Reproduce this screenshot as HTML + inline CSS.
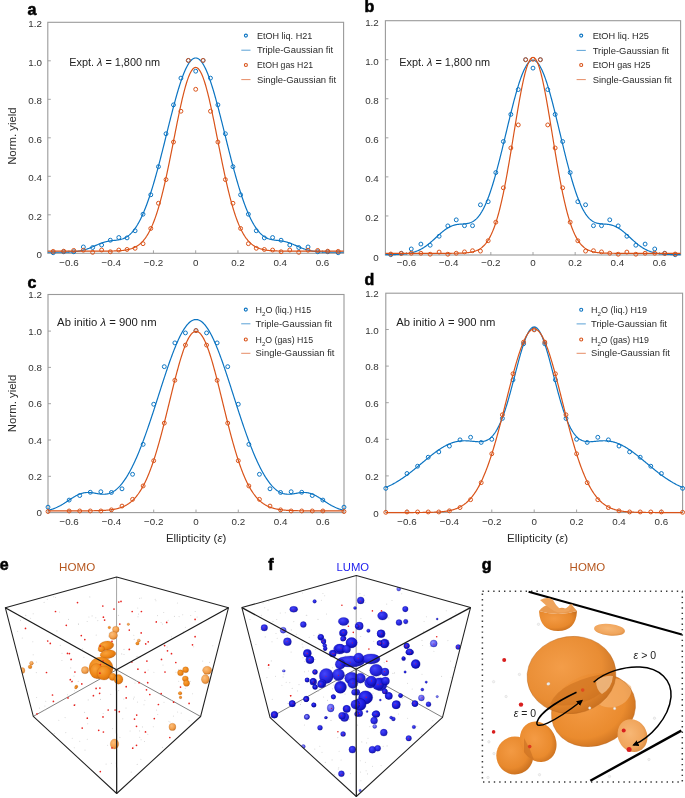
<!DOCTYPE html>
<html><head><meta charset="utf-8"><style>
html,body{margin:0;padding:0;background:#fff;width:685px;height:798px;overflow:hidden}
svg{display:block;will-change:transform}
text{font-family:'Liberation Sans',sans-serif;fill:#222}
.tk{font-size:9.8px;fill:#333}
.ann{font-size:10px;fill:#222}
.leg{font-size:9px;fill:#2a2a2a}
.axl{font-size:10.2px;fill:#2a2a2a}
.pl{font-size:16px;font-weight:bold;fill:#000;stroke:#000;stroke-width:0.55px}
.ttl{font-size:11px}
.gt{font-size:10.5px;fill:#222}
</style></head><body>
<svg width="685" height="798" viewBox="0 0 685 798">
<g>
<rect x="47.80" y="22.30" width="295.80" height="231.00" fill="none" stroke="#9a9a9a" stroke-width="1.1"/>
<line x1="47.80" x2="50.80" y1="214.80" y2="214.80" stroke="#9a9a9a" stroke-width="0.9"/>
<line x1="47.80" x2="50.80" y1="176.30" y2="176.30" stroke="#9a9a9a" stroke-width="0.9"/>
<line x1="47.80" x2="50.80" y1="137.80" y2="137.80" stroke="#9a9a9a" stroke-width="0.9"/>
<line x1="47.80" x2="50.80" y1="99.30" y2="99.30" stroke="#9a9a9a" stroke-width="0.9"/>
<line x1="47.80" x2="50.80" y1="60.80" y2="60.80" stroke="#9a9a9a" stroke-width="0.9"/>
<line x1="68.93" x2="68.93" y1="253.30" y2="250.30" stroke="#9a9a9a" stroke-width="0.9"/>
<line x1="111.19" x2="111.19" y1="253.30" y2="250.30" stroke="#9a9a9a" stroke-width="0.9"/>
<line x1="153.44" x2="153.44" y1="253.30" y2="250.30" stroke="#9a9a9a" stroke-width="0.9"/>
<line x1="195.70" x2="195.70" y1="253.30" y2="250.30" stroke="#9a9a9a" stroke-width="0.9"/>
<line x1="237.96" x2="237.96" y1="253.30" y2="250.30" stroke="#9a9a9a" stroke-width="0.9"/>
<line x1="280.21" x2="280.21" y1="253.30" y2="250.30" stroke="#9a9a9a" stroke-width="0.9"/>
<line x1="322.47" x2="322.47" y1="253.30" y2="250.30" stroke="#9a9a9a" stroke-width="0.9"/>
<text x="41.90" y="258.00" text-anchor="end" class="tk">0</text>
<text x="41.90" y="219.50" text-anchor="end" class="tk">0.2</text>
<text x="41.90" y="181.00" text-anchor="end" class="tk">0.4</text>
<text x="41.90" y="142.50" text-anchor="end" class="tk">0.6</text>
<text x="41.90" y="104.00" text-anchor="end" class="tk">0.8</text>
<text x="41.90" y="65.50" text-anchor="end" class="tk">1.0</text>
<text x="41.90" y="27.00" text-anchor="end" class="tk">1.2</text>
<text x="68.93" y="265.80" text-anchor="middle" class="tk">−0.6</text>
<text x="111.19" y="265.80" text-anchor="middle" class="tk">−0.4</text>
<text x="153.44" y="265.80" text-anchor="middle" class="tk">−0.2</text>
<text x="195.70" y="265.80" text-anchor="middle" class="tk">0</text>
<text x="237.96" y="265.80" text-anchor="middle" class="tk">0.2</text>
<text x="280.21" y="265.80" text-anchor="middle" class="tk">0.4</text>
<text x="322.47" y="265.80" text-anchor="middle" class="tk">0.6</text>
<clipPath id="clipa"><rect x="44.80" y="22.30" width="301.80" height="234.00"/></clipPath>
<g clip-path="url(#clipa)">
<polyline points="47.80,252.26 48.33,252.26 48.86,252.26 49.38,252.26 49.91,252.26 50.44,252.26 50.97,252.26 51.50,252.26 52.03,252.26 52.55,252.26 53.08,252.25 53.61,252.25 54.14,252.25 54.67,252.25 55.20,252.25 55.72,252.25 56.25,252.25 56.78,252.25 57.31,252.24 57.84,252.24 58.36,252.24 58.89,252.24 59.42,252.23 59.95,252.23 60.48,252.22 61.01,252.22 61.53,252.21 62.06,252.21 62.59,252.20 63.12,252.19 63.65,252.19 64.17,252.18 64.70,252.17 65.23,252.16 65.76,252.14 66.29,252.13 66.82,252.12 67.34,252.10 67.87,252.08 68.40,252.06 68.93,252.04 69.46,252.02 69.99,251.99 70.51,251.96 71.04,251.93 71.57,251.90 72.10,251.86 72.63,251.83 73.15,251.78 73.68,251.74 74.21,251.69 74.74,251.64 75.27,251.58 75.80,251.52 76.32,251.46 76.85,251.39 77.38,251.32 77.91,251.24 78.44,251.15 78.96,251.07 79.49,250.97 80.02,250.87 80.55,250.77 81.08,250.66 81.61,250.54 82.13,250.42 82.66,250.29 83.19,250.16 83.72,250.02 84.25,249.87 84.78,249.72 85.30,249.56 85.83,249.39 86.36,249.22 86.89,249.05 87.42,248.86 87.94,248.68 88.47,248.48 89.00,248.29 89.53,248.08 90.06,247.88 90.59,247.66 91.11,247.45 91.64,247.23 92.17,247.01 92.70,246.78 93.23,246.55 93.75,246.33 94.28,246.10 94.81,245.86 95.34,245.63 95.87,245.40 96.40,245.17 96.92,244.94 97.45,244.72 97.98,244.49 98.51,244.27 99.04,244.06 99.57,243.84 100.09,243.63 100.62,243.43 101.15,243.23 101.68,243.04 102.21,242.85 102.73,242.67 103.26,242.50 103.79,242.34 104.32,242.18 104.85,242.03 105.38,241.88 105.90,241.75 106.43,241.62 106.96,241.50 107.49,241.38 108.02,241.28 108.54,241.18 109.07,241.08 109.60,241.00 110.13,240.92 110.66,240.84 111.19,240.77 111.71,240.70 112.24,240.64 112.77,240.58 113.30,240.52 113.83,240.46 114.36,240.41 114.88,240.35 115.41,240.29 115.94,240.23 116.47,240.17 117.00,240.10 117.52,240.02 118.05,239.94 118.58,239.86 119.11,239.76 119.64,239.66 120.17,239.54 120.69,239.42 121.22,239.28 121.75,239.13 122.28,238.96 122.81,238.78 123.33,238.59 123.86,238.37 124.39,238.14 124.92,237.89 125.45,237.62 125.98,237.33 126.50,237.02 127.03,236.69 127.56,236.33 128.09,235.95 128.62,235.55 129.15,235.12 129.67,234.67 130.20,234.19 130.73,233.69 131.26,233.16 131.79,232.60 132.31,232.01 132.84,231.40 133.37,230.76 133.90,230.09 134.43,229.39 134.96,228.66 135.48,227.90 136.01,227.11 136.54,226.29 137.07,225.45 137.60,224.57 138.12,223.66 138.65,222.72 139.18,221.75 139.71,220.75 140.24,219.71 140.77,218.65 141.29,217.56 141.82,216.43 142.35,215.28 142.88,214.09 143.41,212.87 143.94,211.62 144.46,210.34 144.99,209.03 145.52,207.69 146.05,206.32 146.58,204.92 147.10,203.48 147.63,202.02 148.16,200.53 148.69,199.01 149.22,197.46 149.75,195.88 150.27,194.28 150.80,192.64 151.33,190.98 151.86,189.29 152.39,187.58 152.91,185.84 153.44,184.07 153.97,182.28 154.50,180.46 155.03,178.62 155.56,176.76 156.08,174.87 156.61,172.96 157.14,171.04 157.67,169.09 158.20,167.12 158.73,165.13 159.25,163.13 159.78,161.11 160.31,159.07 160.84,157.02 161.37,154.96 161.89,152.89 162.42,150.80 162.95,148.70 163.48,146.60 164.01,144.48 164.54,142.36 165.06,140.24 165.59,138.11 166.12,135.98 166.65,133.85 167.18,131.72 167.70,129.59 168.23,127.46 168.76,125.34 169.29,123.22 169.82,121.12 170.35,119.02 170.87,116.93 171.40,114.85 171.93,112.79 172.46,110.74 172.99,108.71 173.52,106.70 174.04,104.71 174.57,102.74 175.10,100.80 175.63,98.88 176.16,96.98 176.68,95.11 177.21,93.28 177.74,91.47 178.27,89.70 178.80,87.96 179.33,86.26 179.85,84.59 180.38,82.96 180.91,81.38 181.44,79.83 181.97,78.33 182.49,76.87 183.02,75.46 183.55,74.09 184.08,72.78 184.61,71.51 185.14,70.29 185.66,69.12 186.19,68.01 186.72,66.95 187.25,65.95 187.78,65.00 188.31,64.11 188.83,63.28 189.36,62.50 189.89,61.79 190.42,61.13 190.95,60.54 191.47,60.00 192.00,59.53 192.53,59.12 193.06,58.77 193.59,58.48 194.12,58.26 194.64,58.10 195.17,58.01 195.70,57.98 196.23,58.01 196.76,58.10 197.28,58.26 197.81,58.48 198.34,58.77 198.87,59.12 199.40,59.53 199.93,60.00 200.45,60.54 200.98,61.13 201.51,61.79 202.04,62.50 202.57,63.28 203.10,64.11 203.62,65.00 204.15,65.95 204.68,66.95 205.21,68.01 205.74,69.12 206.26,70.29 206.79,71.51 207.32,72.78 207.85,74.09 208.38,75.46 208.91,76.87 209.43,78.33 209.96,79.83 210.49,81.38 211.02,82.96 211.55,84.59 212.07,86.26 212.60,87.96 213.13,89.70 213.66,91.47 214.19,93.28 214.72,95.11 215.24,96.98 215.77,98.88 216.30,100.80 216.83,102.74 217.36,104.71 217.89,106.70 218.41,108.71 218.94,110.74 219.47,112.79 220.00,114.85 220.53,116.93 221.05,119.02 221.58,121.12 222.11,123.22 222.64,125.34 223.17,127.46 223.70,129.59 224.22,131.72 224.75,133.85 225.28,135.98 225.81,138.11 226.34,140.24 226.86,142.36 227.39,144.48 227.92,146.60 228.45,148.70 228.98,150.80 229.51,152.89 230.03,154.96 230.56,157.02 231.09,159.07 231.62,161.11 232.15,163.13 232.68,165.13 233.20,167.12 233.73,169.09 234.26,171.04 234.79,172.96 235.32,174.87 235.84,176.76 236.37,178.62 236.90,180.46 237.43,182.28 237.96,184.07 238.49,185.84 239.01,187.58 239.54,189.29 240.07,190.98 240.60,192.64 241.13,194.28 241.65,195.88 242.18,197.46 242.71,199.01 243.24,200.53 243.77,202.02 244.30,203.48 244.82,204.92 245.35,206.32 245.88,207.69 246.41,209.03 246.94,210.34 247.47,211.62 247.99,212.87 248.52,214.09 249.05,215.28 249.58,216.43 250.11,217.56 250.63,218.65 251.16,219.71 251.69,220.75 252.22,221.75 252.75,222.72 253.28,223.66 253.80,224.57 254.33,225.45 254.86,226.29 255.39,227.11 255.92,227.90 256.44,228.66 256.97,229.39 257.50,230.09 258.03,230.76 258.56,231.40 259.09,232.01 259.61,232.60 260.14,233.16 260.67,233.69 261.20,234.19 261.73,234.67 262.26,235.12 262.78,235.55 263.31,235.95 263.84,236.33 264.37,236.69 264.90,237.02 265.42,237.33 265.95,237.62 266.48,237.89 267.01,238.14 267.54,238.37 268.07,238.59 268.59,238.78 269.12,238.96 269.65,239.13 270.18,239.28 270.71,239.42 271.23,239.54 271.76,239.66 272.29,239.76 272.82,239.86 273.35,239.94 273.88,240.02 274.40,240.10 274.93,240.17 275.46,240.23 275.99,240.29 276.52,240.35 277.05,240.41 277.57,240.46 278.10,240.52 278.63,240.58 279.16,240.64 279.69,240.70 280.21,240.77 280.74,240.84 281.27,240.92 281.80,241.00 282.33,241.08 282.86,241.18 283.38,241.28 283.91,241.38 284.44,241.50 284.97,241.62 285.50,241.75 286.02,241.88 286.55,242.03 287.08,242.18 287.61,242.34 288.14,242.50 288.67,242.67 289.19,242.85 289.72,243.04 290.25,243.23 290.78,243.43 291.31,243.63 291.84,243.84 292.36,244.06 292.89,244.27 293.42,244.49 293.95,244.72 294.48,244.94 295.00,245.17 295.53,245.40 296.06,245.63 296.59,245.86 297.12,246.10 297.65,246.33 298.17,246.55 298.70,246.78 299.23,247.01 299.76,247.23 300.29,247.45 300.81,247.66 301.34,247.88 301.87,248.08 302.40,248.29 302.93,248.48 303.46,248.68 303.98,248.86 304.51,249.05 305.04,249.22 305.57,249.39 306.10,249.56 306.63,249.72 307.15,249.87 307.68,250.02 308.21,250.16 308.74,250.29 309.27,250.42 309.79,250.54 310.32,250.66 310.85,250.77 311.38,250.87 311.91,250.97 312.44,251.07 312.96,251.15 313.49,251.24 314.02,251.32 314.55,251.39 315.08,251.46 315.60,251.52 316.13,251.58 316.66,251.64 317.19,251.69 317.72,251.74 318.25,251.78 318.77,251.83 319.30,251.86 319.83,251.90 320.36,251.93 320.89,251.96 321.42,251.99 321.94,252.02 322.47,252.04 323.00,252.06 323.53,252.08 324.06,252.10 324.58,252.12 325.11,252.13 325.64,252.14 326.17,252.16 326.70,252.17 327.23,252.18 327.75,252.19 328.28,252.19 328.81,252.20 329.34,252.21 329.87,252.21 330.39,252.22 330.92,252.22 331.45,252.23 331.98,252.23 332.51,252.24 333.04,252.24 333.56,252.24 334.09,252.24 334.62,252.25 335.15,252.25 335.68,252.25 336.21,252.25 336.73,252.25 337.26,252.25 337.79,252.25 338.32,252.25 338.85,252.26 339.37,252.26 339.90,252.26 340.43,252.26 340.96,252.26 341.49,252.26 342.02,252.26 342.54,252.26 343.07,252.26 343.60,252.26" fill="none" stroke="#0b74c2" stroke-width="1.2"/>
<circle cx="53.19" cy="252.72" r="1.95" fill="none" stroke="#0b74c2" stroke-width="1.0"/>
<circle cx="63.67" cy="251.76" r="1.95" fill="none" stroke="#0b74c2" stroke-width="1.0"/>
<circle cx="73.71" cy="251.76" r="1.95" fill="none" stroke="#0b74c2" stroke-width="1.0"/>
<circle cx="83.36" cy="246.95" r="1.95" fill="none" stroke="#0b74c2" stroke-width="1.0"/>
<circle cx="92.65" cy="247.53" r="1.95" fill="none" stroke="#0b74c2" stroke-width="1.0"/>
<circle cx="101.63" cy="245.02" r="1.95" fill="none" stroke="#0b74c2" stroke-width="1.0"/>
<circle cx="110.34" cy="240.21" r="1.95" fill="none" stroke="#0b74c2" stroke-width="1.0"/>
<circle cx="118.80" cy="237.52" r="1.95" fill="none" stroke="#0b74c2" stroke-width="1.0"/>
<circle cx="127.05" cy="237.90" r="1.95" fill="none" stroke="#0b74c2" stroke-width="1.0"/>
<circle cx="135.11" cy="230.78" r="1.95" fill="none" stroke="#0b74c2" stroke-width="1.0"/>
<circle cx="143.02" cy="214.22" r="1.95" fill="none" stroke="#0b74c2" stroke-width="1.0"/>
<circle cx="150.79" cy="194.78" r="1.95" fill="none" stroke="#0b74c2" stroke-width="1.0"/>
<circle cx="158.44" cy="166.68" r="1.95" fill="none" stroke="#0b74c2" stroke-width="1.0"/>
<circle cx="166.01" cy="133.76" r="1.95" fill="none" stroke="#0b74c2" stroke-width="1.0"/>
<circle cx="173.49" cy="104.88" r="1.95" fill="none" stroke="#0b74c2" stroke-width="1.0"/>
<circle cx="180.93" cy="78.12" r="1.95" fill="none" stroke="#0b74c2" stroke-width="1.0"/>
<circle cx="188.32" cy="60.42" r="1.95" fill="none" stroke="#0b74c2" stroke-width="1.0"/>
<circle cx="195.70" cy="71.20" r="1.95" fill="none" stroke="#0b74c2" stroke-width="1.0"/>
<circle cx="203.08" cy="60.42" r="1.95" fill="none" stroke="#0b74c2" stroke-width="1.0"/>
<circle cx="210.47" cy="78.12" r="1.95" fill="none" stroke="#0b74c2" stroke-width="1.0"/>
<circle cx="217.91" cy="104.88" r="1.95" fill="none" stroke="#0b74c2" stroke-width="1.0"/>
<circle cx="225.39" cy="133.76" r="1.95" fill="none" stroke="#0b74c2" stroke-width="1.0"/>
<circle cx="232.96" cy="166.68" r="1.95" fill="none" stroke="#0b74c2" stroke-width="1.0"/>
<circle cx="240.61" cy="194.78" r="1.95" fill="none" stroke="#0b74c2" stroke-width="1.0"/>
<circle cx="248.38" cy="214.22" r="1.95" fill="none" stroke="#0b74c2" stroke-width="1.0"/>
<circle cx="256.29" cy="230.78" r="1.95" fill="none" stroke="#0b74c2" stroke-width="1.0"/>
<circle cx="264.35" cy="237.90" r="1.95" fill="none" stroke="#0b74c2" stroke-width="1.0"/>
<circle cx="272.60" cy="237.52" r="1.95" fill="none" stroke="#0b74c2" stroke-width="1.0"/>
<circle cx="281.06" cy="240.21" r="1.95" fill="none" stroke="#0b74c2" stroke-width="1.0"/>
<circle cx="289.77" cy="245.02" r="1.95" fill="none" stroke="#0b74c2" stroke-width="1.0"/>
<circle cx="298.75" cy="247.53" r="1.95" fill="none" stroke="#0b74c2" stroke-width="1.0"/>
<circle cx="308.04" cy="246.95" r="1.95" fill="none" stroke="#0b74c2" stroke-width="1.0"/>
<circle cx="317.69" cy="251.76" r="1.95" fill="none" stroke="#0b74c2" stroke-width="1.0"/>
<circle cx="327.73" cy="251.76" r="1.95" fill="none" stroke="#0b74c2" stroke-width="1.0"/>
<circle cx="338.21" cy="252.72" r="1.95" fill="none" stroke="#0b74c2" stroke-width="1.0"/>
<polyline points="47.80,251.15 48.33,251.15 48.86,251.15 49.38,251.15 49.91,251.15 50.44,251.15 50.97,251.15 51.50,251.15 52.03,251.15 52.55,251.15 53.08,251.15 53.61,251.15 54.14,251.15 54.67,251.15 55.20,251.15 55.72,251.15 56.25,251.15 56.78,251.15 57.31,251.15 57.84,251.15 58.36,251.15 58.89,251.15 59.42,251.15 59.95,251.15 60.48,251.15 61.01,251.15 61.53,251.15 62.06,251.15 62.59,251.15 63.12,251.15 63.65,251.15 64.17,251.15 64.70,251.15 65.23,251.15 65.76,251.15 66.29,251.15 66.82,251.15 67.34,251.15 67.87,251.15 68.40,251.15 68.93,251.15 69.46,251.15 69.99,251.15 70.51,251.15 71.04,251.15 71.57,251.15 72.10,251.15 72.63,251.15 73.15,251.15 73.68,251.15 74.21,251.15 74.74,251.15 75.27,251.15 75.80,251.15 76.32,251.15 76.85,251.15 77.38,251.15 77.91,251.15 78.44,251.15 78.96,251.15 79.49,251.15 80.02,251.15 80.55,251.15 81.08,251.15 81.61,251.15 82.13,251.15 82.66,251.15 83.19,251.15 83.72,251.15 84.25,251.15 84.78,251.15 85.30,251.15 85.83,251.15 86.36,251.15 86.89,251.15 87.42,251.15 87.94,251.15 88.47,251.15 89.00,251.15 89.53,251.15 90.06,251.15 90.59,251.15 91.11,251.15 91.64,251.15 92.17,251.15 92.70,251.15 93.23,251.15 93.75,251.15 94.28,251.15 94.81,251.15 95.34,251.15 95.87,251.14 96.40,251.14 96.92,251.14 97.45,251.14 97.98,251.14 98.51,251.14 99.04,251.14 99.57,251.14 100.09,251.14 100.62,251.14 101.15,251.13 101.68,251.13 102.21,251.13 102.73,251.13 103.26,251.13 103.79,251.12 104.32,251.12 104.85,251.12 105.38,251.11 105.90,251.11 106.43,251.10 106.96,251.10 107.49,251.09 108.02,251.09 108.54,251.08 109.07,251.08 109.60,251.07 110.13,251.06 110.66,251.05 111.19,251.04 111.71,251.03 112.24,251.02 112.77,251.01 113.30,250.99 113.83,250.98 114.36,250.96 114.88,250.95 115.41,250.93 115.94,250.91 116.47,250.88 117.00,250.86 117.52,250.83 118.05,250.81 118.58,250.78 119.11,250.74 119.64,250.71 120.17,250.67 120.69,250.63 121.22,250.58 121.75,250.53 122.28,250.48 122.81,250.43 123.33,250.36 123.86,250.30 124.39,250.23 124.92,250.16 125.45,250.08 125.98,249.99 126.50,249.90 127.03,249.80 127.56,249.69 128.09,249.58 128.62,249.46 129.15,249.33 129.67,249.19 130.20,249.04 130.73,248.89 131.26,248.72 131.79,248.54 132.31,248.35 132.84,248.15 133.37,247.94 133.90,247.71 134.43,247.47 134.96,247.22 135.48,246.95 136.01,246.66 136.54,246.36 137.07,246.03 137.60,245.69 138.12,245.34 138.65,244.96 139.18,244.56 139.71,244.14 140.24,243.69 140.77,243.23 141.29,242.74 141.82,242.22 142.35,241.68 142.88,241.11 143.41,240.51 143.94,239.88 144.46,239.22 144.99,238.54 145.52,237.82 146.05,237.06 146.58,236.28 147.10,235.46 147.63,234.60 148.16,233.70 148.69,232.77 149.22,231.80 149.75,230.79 150.27,229.74 150.80,228.65 151.33,227.52 151.86,226.34 152.39,225.13 152.91,223.86 153.44,222.56 153.97,221.20 154.50,219.81 155.03,218.36 155.56,216.87 156.08,215.33 156.61,213.75 157.14,212.12 157.67,210.44 158.20,208.71 158.73,206.93 159.25,205.11 159.78,203.24 160.31,201.32 160.84,199.36 161.37,197.35 161.89,195.29 162.42,193.19 162.95,191.05 163.48,188.86 164.01,186.63 164.54,184.36 165.06,182.05 165.59,179.70 166.12,177.32 166.65,174.90 167.18,172.44 167.70,169.96 168.23,167.44 168.76,164.90 169.29,162.33 169.82,159.74 170.35,157.12 170.87,154.49 171.40,151.84 171.93,149.18 172.46,146.51 172.99,143.83 173.52,141.14 174.04,138.46 174.57,135.77 175.10,133.09 175.63,130.42 176.16,127.76 176.68,125.12 177.21,122.49 177.74,119.88 178.27,117.30 178.80,114.75 179.33,112.23 179.85,109.74 180.38,107.30 180.91,104.89 181.44,102.54 181.97,100.23 182.49,97.98 183.02,95.78 183.55,93.64 184.08,91.57 184.61,89.56 185.14,87.63 185.66,85.76 186.19,83.98 186.72,82.27 187.25,80.64 187.78,79.10 188.31,77.64 188.83,76.27 189.36,75.00 189.89,73.82 190.42,72.73 190.95,71.74 191.47,70.85 192.00,70.07 192.53,69.38 193.06,68.80 193.59,68.32 194.12,67.95 194.64,67.68 195.17,67.52 195.70,67.47 196.23,67.52 196.76,67.68 197.28,67.95 197.81,68.32 198.34,68.80 198.87,69.38 199.40,70.07 199.93,70.85 200.45,71.74 200.98,72.73 201.51,73.82 202.04,75.00 202.57,76.27 203.10,77.64 203.62,79.10 204.15,80.64 204.68,82.27 205.21,83.98 205.74,85.76 206.26,87.63 206.79,89.56 207.32,91.57 207.85,93.64 208.38,95.78 208.91,97.98 209.43,100.23 209.96,102.54 210.49,104.89 211.02,107.30 211.55,109.74 212.07,112.23 212.60,114.75 213.13,117.30 213.66,119.88 214.19,122.49 214.72,125.12 215.24,127.76 215.77,130.42 216.30,133.09 216.83,135.77 217.36,138.46 217.89,141.14 218.41,143.83 218.94,146.51 219.47,149.18 220.00,151.84 220.53,154.49 221.05,157.12 221.58,159.74 222.11,162.33 222.64,164.90 223.17,167.44 223.70,169.96 224.22,172.44 224.75,174.90 225.28,177.32 225.81,179.70 226.34,182.05 226.86,184.36 227.39,186.63 227.92,188.86 228.45,191.05 228.98,193.19 229.51,195.29 230.03,197.35 230.56,199.36 231.09,201.32 231.62,203.24 232.15,205.11 232.68,206.93 233.20,208.71 233.73,210.44 234.26,212.12 234.79,213.75 235.32,215.33 235.84,216.87 236.37,218.36 236.90,219.81 237.43,221.20 237.96,222.56 238.49,223.86 239.01,225.13 239.54,226.34 240.07,227.52 240.60,228.65 241.13,229.74 241.65,230.79 242.18,231.80 242.71,232.77 243.24,233.70 243.77,234.60 244.30,235.46 244.82,236.28 245.35,237.06 245.88,237.82 246.41,238.54 246.94,239.22 247.47,239.88 247.99,240.51 248.52,241.11 249.05,241.68 249.58,242.22 250.11,242.74 250.63,243.23 251.16,243.69 251.69,244.14 252.22,244.56 252.75,244.96 253.28,245.34 253.80,245.69 254.33,246.03 254.86,246.36 255.39,246.66 255.92,246.95 256.44,247.22 256.97,247.47 257.50,247.71 258.03,247.94 258.56,248.15 259.09,248.35 259.61,248.54 260.14,248.72 260.67,248.89 261.20,249.04 261.73,249.19 262.26,249.33 262.78,249.46 263.31,249.58 263.84,249.69 264.37,249.80 264.90,249.90 265.42,249.99 265.95,250.08 266.48,250.16 267.01,250.23 267.54,250.30 268.07,250.36 268.59,250.43 269.12,250.48 269.65,250.53 270.18,250.58 270.71,250.63 271.23,250.67 271.76,250.71 272.29,250.74 272.82,250.78 273.35,250.81 273.88,250.83 274.40,250.86 274.93,250.88 275.46,250.91 275.99,250.93 276.52,250.95 277.05,250.96 277.57,250.98 278.10,250.99 278.63,251.01 279.16,251.02 279.69,251.03 280.21,251.04 280.74,251.05 281.27,251.06 281.80,251.07 282.33,251.08 282.86,251.08 283.38,251.09 283.91,251.09 284.44,251.10 284.97,251.10 285.50,251.11 286.02,251.11 286.55,251.12 287.08,251.12 287.61,251.12 288.14,251.13 288.67,251.13 289.19,251.13 289.72,251.13 290.25,251.13 290.78,251.14 291.31,251.14 291.84,251.14 292.36,251.14 292.89,251.14 293.42,251.14 293.95,251.14 294.48,251.14 295.00,251.14 295.53,251.14 296.06,251.15 296.59,251.15 297.12,251.15 297.65,251.15 298.17,251.15 298.70,251.15 299.23,251.15 299.76,251.15 300.29,251.15 300.81,251.15 301.34,251.15 301.87,251.15 302.40,251.15 302.93,251.15 303.46,251.15 303.98,251.15 304.51,251.15 305.04,251.15 305.57,251.15 306.10,251.15 306.63,251.15 307.15,251.15 307.68,251.15 308.21,251.15 308.74,251.15 309.27,251.15 309.79,251.15 310.32,251.15 310.85,251.15 311.38,251.15 311.91,251.15 312.44,251.15 312.96,251.15 313.49,251.15 314.02,251.15 314.55,251.15 315.08,251.15 315.60,251.15 316.13,251.15 316.66,251.15 317.19,251.15 317.72,251.15 318.25,251.15 318.77,251.15 319.30,251.15 319.83,251.15 320.36,251.15 320.89,251.15 321.42,251.15 321.94,251.15 322.47,251.15 323.00,251.15 323.53,251.15 324.06,251.15 324.58,251.15 325.11,251.15 325.64,251.15 326.17,251.15 326.70,251.15 327.23,251.15 327.75,251.15 328.28,251.15 328.81,251.15 329.34,251.15 329.87,251.15 330.39,251.15 330.92,251.15 331.45,251.15 331.98,251.15 332.51,251.15 333.04,251.15 333.56,251.15 334.09,251.15 334.62,251.15 335.15,251.15 335.68,251.15 336.21,251.15 336.73,251.15 337.26,251.15 337.79,251.15 338.32,251.15 338.85,251.15 339.37,251.15 339.90,251.15 340.43,251.15 340.96,251.15 341.49,251.15 342.02,251.15 342.54,251.15 343.07,251.15 343.60,251.15" fill="none" stroke="#D95319" stroke-width="1.2"/>
<circle cx="53.19" cy="251.38" r="1.95" fill="none" stroke="#D95319" stroke-width="1.0"/>
<circle cx="63.67" cy="251.18" r="1.95" fill="none" stroke="#D95319" stroke-width="1.0"/>
<circle cx="73.71" cy="250.41" r="1.95" fill="none" stroke="#D95319" stroke-width="1.0"/>
<circle cx="83.36" cy="250.22" r="1.95" fill="none" stroke="#D95319" stroke-width="1.0"/>
<circle cx="92.65" cy="252.34" r="1.95" fill="none" stroke="#D95319" stroke-width="1.0"/>
<circle cx="101.63" cy="250.03" r="1.95" fill="none" stroke="#D95319" stroke-width="1.0"/>
<circle cx="110.34" cy="251.76" r="1.95" fill="none" stroke="#D95319" stroke-width="1.0"/>
<circle cx="118.80" cy="250.03" r="1.95" fill="none" stroke="#D95319" stroke-width="1.0"/>
<circle cx="127.05" cy="249.45" r="1.95" fill="none" stroke="#D95319" stroke-width="1.0"/>
<circle cx="135.11" cy="248.30" r="1.95" fill="none" stroke="#D95319" stroke-width="1.0"/>
<circle cx="143.02" cy="243.68" r="1.95" fill="none" stroke="#D95319" stroke-width="1.0"/>
<circle cx="150.79" cy="228.47" r="1.95" fill="none" stroke="#D95319" stroke-width="1.0"/>
<circle cx="158.44" cy="203.25" r="1.95" fill="none" stroke="#D95319" stroke-width="1.0"/>
<circle cx="166.01" cy="179.57" r="1.95" fill="none" stroke="#D95319" stroke-width="1.0"/>
<circle cx="173.49" cy="142.04" r="1.95" fill="none" stroke="#D95319" stroke-width="1.0"/>
<circle cx="180.93" cy="111.24" r="1.95" fill="none" stroke="#D95319" stroke-width="1.0"/>
<circle cx="188.32" cy="60.42" r="1.95" fill="none" stroke="#D95319" stroke-width="1.0"/>
<circle cx="195.70" cy="89.29" r="1.95" fill="none" stroke="#D95319" stroke-width="1.0"/>
<circle cx="203.08" cy="60.42" r="1.95" fill="none" stroke="#D95319" stroke-width="1.0"/>
<circle cx="210.47" cy="111.24" r="1.95" fill="none" stroke="#D95319" stroke-width="1.0"/>
<circle cx="217.91" cy="142.04" r="1.95" fill="none" stroke="#D95319" stroke-width="1.0"/>
<circle cx="225.39" cy="179.57" r="1.95" fill="none" stroke="#D95319" stroke-width="1.0"/>
<circle cx="232.96" cy="203.25" r="1.95" fill="none" stroke="#D95319" stroke-width="1.0"/>
<circle cx="240.61" cy="228.47" r="1.95" fill="none" stroke="#D95319" stroke-width="1.0"/>
<circle cx="248.38" cy="243.68" r="1.95" fill="none" stroke="#D95319" stroke-width="1.0"/>
<circle cx="256.29" cy="248.30" r="1.95" fill="none" stroke="#D95319" stroke-width="1.0"/>
<circle cx="264.35" cy="249.45" r="1.95" fill="none" stroke="#D95319" stroke-width="1.0"/>
<circle cx="272.60" cy="250.03" r="1.95" fill="none" stroke="#D95319" stroke-width="1.0"/>
<circle cx="281.06" cy="251.76" r="1.95" fill="none" stroke="#D95319" stroke-width="1.0"/>
<circle cx="289.77" cy="250.03" r="1.95" fill="none" stroke="#D95319" stroke-width="1.0"/>
<circle cx="298.75" cy="252.34" r="1.95" fill="none" stroke="#D95319" stroke-width="1.0"/>
<circle cx="308.04" cy="250.22" r="1.95" fill="none" stroke="#D95319" stroke-width="1.0"/>
<circle cx="317.69" cy="250.41" r="1.95" fill="none" stroke="#D95319" stroke-width="1.0"/>
<circle cx="327.73" cy="251.18" r="1.95" fill="none" stroke="#D95319" stroke-width="1.0"/>
<circle cx="338.21" cy="251.38" r="1.95" fill="none" stroke="#D95319" stroke-width="1.0"/>
</g>
<text x="69.20" y="66.30" class="ann" textLength="91" lengthAdjust="spacingAndGlyphs">Expt. <tspan font-style="italic">λ</tspan> = 1,800 nm</text>
<circle cx="245.90" cy="35.60" r="1.5" fill="none" stroke="#0b74c2" stroke-width="1.1"/>
<text x="256.90" y="38.70" class="leg" textLength="55.4" lengthAdjust="spacingAndGlyphs">EtOH liq. H21</text>
<line x1="241.30" x2="250.50" y1="50.20" y2="50.20" stroke="#0b74c2" stroke-width="0.9" stroke-opacity="0.75"/>
<text x="256.90" y="53.30" class="leg" textLength="76.3" lengthAdjust="spacingAndGlyphs">Triple-Gaussian fit</text>
<circle cx="245.90" cy="65.00" r="1.5" fill="none" stroke="#D95319" stroke-width="1.1"/>
<text x="256.90" y="68.10" class="leg" textLength="56.2" lengthAdjust="spacingAndGlyphs">EtOH gas H21</text>
<line x1="241.30" x2="250.50" y1="79.60" y2="79.60" stroke="#D95319" stroke-width="0.9" stroke-opacity="0.75"/>
<text x="256.90" y="82.70" class="leg" textLength="79.2" lengthAdjust="spacingAndGlyphs">Single-Gaussian fit</text>
<text x="27.40" y="14.90" class="pl">a</text>
<text transform="translate(15.80,136.10) rotate(-90)" text-anchor="middle" class="axl" textLength="57.5" lengthAdjust="spacingAndGlyphs">Norm. yield</text>
</g>
<g>
<rect x="385.40" y="20.70" width="295.20" height="234.30" fill="none" stroke="#9a9a9a" stroke-width="1.1"/>
<line x1="385.40" x2="388.40" y1="215.94" y2="215.94" stroke="#9a9a9a" stroke-width="0.9"/>
<line x1="385.40" x2="388.40" y1="176.88" y2="176.88" stroke="#9a9a9a" stroke-width="0.9"/>
<line x1="385.40" x2="388.40" y1="137.82" y2="137.82" stroke="#9a9a9a" stroke-width="0.9"/>
<line x1="385.40" x2="388.40" y1="98.76" y2="98.76" stroke="#9a9a9a" stroke-width="0.9"/>
<line x1="385.40" x2="388.40" y1="59.70" y2="59.70" stroke="#9a9a9a" stroke-width="0.9"/>
<line x1="406.49" x2="406.49" y1="255.00" y2="252.00" stroke="#9a9a9a" stroke-width="0.9"/>
<line x1="448.66" x2="448.66" y1="255.00" y2="252.00" stroke="#9a9a9a" stroke-width="0.9"/>
<line x1="490.83" x2="490.83" y1="255.00" y2="252.00" stroke="#9a9a9a" stroke-width="0.9"/>
<line x1="533.00" x2="533.00" y1="255.00" y2="252.00" stroke="#9a9a9a" stroke-width="0.9"/>
<line x1="575.17" x2="575.17" y1="255.00" y2="252.00" stroke="#9a9a9a" stroke-width="0.9"/>
<line x1="617.34" x2="617.34" y1="255.00" y2="252.00" stroke="#9a9a9a" stroke-width="0.9"/>
<line x1="659.51" x2="659.51" y1="255.00" y2="252.00" stroke="#9a9a9a" stroke-width="0.9"/>
<text x="378.80" y="260.50" text-anchor="end" class="tk">0</text>
<text x="378.80" y="221.44" text-anchor="end" class="tk">0.2</text>
<text x="378.80" y="182.38" text-anchor="end" class="tk">0.4</text>
<text x="378.80" y="143.32" text-anchor="end" class="tk">0.6</text>
<text x="378.80" y="104.26" text-anchor="end" class="tk">0.8</text>
<text x="378.80" y="65.20" text-anchor="end" class="tk">1.0</text>
<text x="378.80" y="26.14" text-anchor="end" class="tk">1.2</text>
<text x="406.49" y="265.80" text-anchor="middle" class="tk">−0.6</text>
<text x="448.66" y="265.80" text-anchor="middle" class="tk">−0.4</text>
<text x="490.83" y="265.80" text-anchor="middle" class="tk">−0.2</text>
<text x="533.00" y="265.80" text-anchor="middle" class="tk">0</text>
<text x="575.17" y="265.80" text-anchor="middle" class="tk">0.2</text>
<text x="617.34" y="265.80" text-anchor="middle" class="tk">0.4</text>
<text x="659.51" y="265.80" text-anchor="middle" class="tk">0.6</text>
<clipPath id="clipb"><rect x="382.40" y="20.70" width="301.20" height="237.30"/></clipPath>
<g clip-path="url(#clipb)">
<polyline points="385.40,254.68 385.93,254.68 386.45,254.67 386.98,254.67 387.51,254.67 388.04,254.66 388.56,254.66 389.09,254.65 389.62,254.65 390.14,254.64 390.67,254.63 391.20,254.63 391.73,254.62 392.25,254.61 392.78,254.60 393.31,254.59 393.83,254.58 394.36,254.56 394.89,254.55 395.42,254.53 395.94,254.52 396.47,254.50 397.00,254.48 397.52,254.46 398.05,254.44 398.58,254.41 399.11,254.39 399.63,254.36 400.16,254.33 400.69,254.29 401.21,254.26 401.74,254.22 402.27,254.18 402.80,254.13 403.32,254.08 403.85,254.03 404.38,253.98 404.90,253.92 405.43,253.86 405.96,253.79 406.49,253.72 407.01,253.65 407.54,253.57 408.07,253.48 408.59,253.39 409.12,253.29 409.65,253.19 410.18,253.08 410.70,252.97 411.23,252.85 411.76,252.72 412.28,252.59 412.81,252.45 413.34,252.30 413.87,252.14 414.39,251.98 414.92,251.80 415.45,251.62 415.97,251.43 416.50,251.24 417.03,251.03 417.56,250.81 418.08,250.59 418.61,250.35 419.14,250.11 419.66,249.85 420.19,249.59 420.72,249.32 421.25,249.03 421.77,248.74 422.30,248.43 422.83,248.12 423.35,247.79 423.88,247.46 424.41,247.11 424.94,246.76 425.46,246.40 425.99,246.02 426.52,245.64 427.04,245.25 427.57,244.85 428.10,244.44 428.63,244.02 429.15,243.59 429.68,243.16 430.21,242.72 430.73,242.27 431.26,241.82 431.79,241.36 432.32,240.89 432.84,240.42 433.37,239.95 433.90,239.47 434.42,238.99 434.95,238.51 435.48,238.02 436.01,237.54 436.53,237.05 437.06,236.57 437.59,236.08 438.11,235.60 438.64,235.12 439.17,234.64 439.70,234.17 440.22,233.70 440.75,233.24 441.28,232.79 441.80,232.34 442.33,231.90 442.86,231.47 443.39,231.05 443.91,230.63 444.44,230.23 444.97,229.84 445.49,229.46 446.02,229.09 446.55,228.74 447.08,228.39 447.60,228.06 448.13,227.75 448.66,227.45 449.18,227.16 449.71,226.89 450.24,226.63 450.77,226.38 451.29,226.15 451.82,225.94 452.35,225.74 452.87,225.55 453.40,225.38 453.93,225.22 454.46,225.07 454.98,224.94 455.51,224.82 456.04,224.71 456.56,224.61 457.09,224.52 457.62,224.44 458.15,224.37 458.67,224.31 459.20,224.26 459.73,224.21 460.25,224.17 460.78,224.13 461.31,224.09 461.84,224.06 462.36,224.02 462.89,223.99 463.42,223.95 463.94,223.91 464.47,223.87 465.00,223.82 465.53,223.77 466.05,223.70 466.58,223.63 467.11,223.54 467.63,223.44 468.16,223.33 468.69,223.21 469.22,223.06 469.74,222.90 470.27,222.72 470.80,222.52 471.32,222.30 471.85,222.05 472.38,221.78 472.91,221.49 473.43,221.16 473.96,220.81 474.49,220.43 475.01,220.02 475.54,219.58 476.07,219.11 476.60,218.60 477.12,218.06 477.65,217.49 478.18,216.88 478.70,216.23 479.23,215.55 479.76,214.82 480.29,214.06 480.81,213.27 481.34,212.43 481.87,211.55 482.39,210.63 482.92,209.67 483.45,208.67 483.98,207.63 484.50,206.55 485.03,205.43 485.56,204.26 486.08,203.06 486.61,201.81 487.14,200.53 487.67,199.20 488.19,197.83 488.72,196.42 489.25,194.98 489.77,193.49 490.30,191.97 490.83,190.40 491.36,188.80 491.88,187.16 492.41,185.49 492.94,183.78 493.46,182.04 493.99,180.26 494.52,178.45 495.05,176.61 495.57,174.73 496.10,172.83 496.63,170.90 497.15,168.94 497.68,166.95 498.21,164.94 498.74,162.91 499.26,160.85 499.79,158.78 500.32,156.68 500.84,154.56 501.37,152.43 501.90,150.29 502.43,148.13 502.95,145.95 503.48,143.77 504.01,141.58 504.53,139.38 505.06,137.18 505.59,134.97 506.12,132.76 506.64,130.56 507.17,128.35 507.70,126.15 508.22,123.95 508.75,121.76 509.28,119.58 509.81,117.42 510.33,115.26 510.86,113.12 511.39,111.00 511.91,108.90 512.44,106.82 512.97,104.76 513.50,102.72 514.02,100.72 514.55,98.74 515.08,96.79 515.60,94.87 516.13,92.99 516.66,91.15 517.19,89.34 517.71,87.57 518.24,85.85 518.77,84.17 519.29,82.53 519.82,80.94 520.35,79.40 520.88,77.90 521.40,76.46 521.93,75.07 522.46,73.74 522.98,72.46 523.51,71.24 524.04,70.08 524.57,68.97 525.09,67.93 525.62,66.95 526.15,66.03 526.67,65.18 527.20,64.39 527.73,63.67 528.26,63.01 528.78,62.42 529.31,61.90 529.84,61.45 530.36,61.06 530.89,60.75 531.42,60.50 531.95,60.33 532.47,60.22 533.00,60.19 533.53,60.22 534.05,60.33 534.58,60.50 535.11,60.75 535.64,61.06 536.16,61.45 536.69,61.90 537.22,62.42 537.74,63.01 538.27,63.67 538.80,64.39 539.33,65.18 539.85,66.03 540.38,66.95 540.91,67.93 541.43,68.97 541.96,70.08 542.49,71.24 543.02,72.46 543.54,73.74 544.07,75.07 544.60,76.46 545.12,77.90 545.65,79.40 546.18,80.94 546.71,82.53 547.23,84.17 547.76,85.85 548.29,87.57 548.81,89.34 549.34,91.15 549.87,92.99 550.40,94.87 550.92,96.79 551.45,98.74 551.98,100.72 552.50,102.72 553.03,104.76 553.56,106.82 554.09,108.90 554.61,111.00 555.14,113.12 555.67,115.26 556.19,117.42 556.72,119.58 557.25,121.76 557.78,123.95 558.30,126.15 558.83,128.35 559.36,130.56 559.88,132.76 560.41,134.97 560.94,137.18 561.47,139.38 561.99,141.58 562.52,143.77 563.05,145.95 563.57,148.13 564.10,150.29 564.63,152.43 565.16,154.56 565.68,156.68 566.21,158.78 566.74,160.85 567.26,162.91 567.79,164.94 568.32,166.95 568.85,168.94 569.37,170.90 569.90,172.83 570.43,174.73 570.95,176.61 571.48,178.45 572.01,180.26 572.54,182.04 573.06,183.78 573.59,185.49 574.12,187.16 574.64,188.80 575.17,190.40 575.70,191.97 576.23,193.49 576.75,194.98 577.28,196.42 577.81,197.83 578.33,199.20 578.86,200.53 579.39,201.81 579.92,203.06 580.44,204.26 580.97,205.43 581.50,206.55 582.02,207.63 582.55,208.67 583.08,209.67 583.61,210.63 584.13,211.55 584.66,212.43 585.19,213.27 585.71,214.06 586.24,214.82 586.77,215.55 587.30,216.23 587.82,216.88 588.35,217.49 588.88,218.06 589.40,218.60 589.93,219.11 590.46,219.58 590.99,220.02 591.51,220.43 592.04,220.81 592.57,221.16 593.09,221.49 593.62,221.78 594.15,222.05 594.68,222.30 595.20,222.52 595.73,222.72 596.26,222.90 596.78,223.06 597.31,223.21 597.84,223.33 598.37,223.44 598.89,223.54 599.42,223.63 599.95,223.70 600.47,223.77 601.00,223.82 601.53,223.87 602.06,223.91 602.58,223.95 603.11,223.99 603.64,224.02 604.16,224.06 604.69,224.09 605.22,224.13 605.75,224.17 606.27,224.21 606.80,224.26 607.33,224.31 607.85,224.37 608.38,224.44 608.91,224.52 609.44,224.61 609.96,224.71 610.49,224.82 611.02,224.94 611.54,225.07 612.07,225.22 612.60,225.38 613.13,225.55 613.65,225.74 614.18,225.94 614.71,226.15 615.23,226.38 615.76,226.63 616.29,226.89 616.82,227.16 617.34,227.45 617.87,227.75 618.40,228.06 618.92,228.39 619.45,228.74 619.98,229.09 620.51,229.46 621.03,229.84 621.56,230.23 622.09,230.63 622.61,231.05 623.14,231.47 623.67,231.90 624.20,232.34 624.72,232.79 625.25,233.24 625.78,233.70 626.30,234.17 626.83,234.64 627.36,235.12 627.89,235.60 628.41,236.08 628.94,236.57 629.47,237.05 629.99,237.54 630.52,238.02 631.05,238.51 631.58,238.99 632.10,239.47 632.63,239.95 633.16,240.42 633.68,240.89 634.21,241.36 634.74,241.82 635.27,242.27 635.79,242.72 636.32,243.16 636.85,243.59 637.37,244.02 637.90,244.44 638.43,244.85 638.96,245.25 639.48,245.64 640.01,246.02 640.54,246.40 641.06,246.76 641.59,247.11 642.12,247.46 642.65,247.79 643.17,248.12 643.70,248.43 644.23,248.74 644.75,249.03 645.28,249.32 645.81,249.59 646.34,249.85 646.86,250.11 647.39,250.35 647.92,250.59 648.44,250.81 648.97,251.03 649.50,251.24 650.03,251.43 650.55,251.62 651.08,251.80 651.61,251.98 652.13,252.14 652.66,252.30 653.19,252.45 653.72,252.59 654.24,252.72 654.77,252.85 655.30,252.97 655.82,253.08 656.35,253.19 656.88,253.29 657.41,253.39 657.93,253.48 658.46,253.57 658.99,253.65 659.51,253.72 660.04,253.79 660.57,253.86 661.10,253.92 661.62,253.98 662.15,254.03 662.68,254.08 663.20,254.13 663.73,254.18 664.26,254.22 664.79,254.26 665.31,254.29 665.84,254.33 666.37,254.36 666.89,254.39 667.42,254.41 667.95,254.44 668.48,254.46 669.00,254.48 669.53,254.50 670.06,254.52 670.58,254.53 671.11,254.55 671.64,254.56 672.17,254.58 672.69,254.59 673.22,254.60 673.75,254.61 674.27,254.62 674.80,254.63 675.33,254.63 675.86,254.64 676.38,254.65 676.91,254.65 677.44,254.66 677.96,254.66 678.49,254.67 679.02,254.67 679.55,254.67 680.07,254.68 680.60,254.68" fill="none" stroke="#0b74c2" stroke-width="1.2"/>
<circle cx="390.78" cy="254.71" r="1.95" fill="none" stroke="#0b74c2" stroke-width="1.0"/>
<circle cx="401.24" cy="253.24" r="1.95" fill="none" stroke="#0b74c2" stroke-width="1.0"/>
<circle cx="411.26" cy="248.95" r="1.95" fill="none" stroke="#0b74c2" stroke-width="1.0"/>
<circle cx="420.89" cy="244.06" r="1.95" fill="none" stroke="#0b74c2" stroke-width="1.0"/>
<circle cx="430.16" cy="245.24" r="1.95" fill="none" stroke="#0b74c2" stroke-width="1.0"/>
<circle cx="439.12" cy="236.25" r="1.95" fill="none" stroke="#0b74c2" stroke-width="1.0"/>
<circle cx="447.81" cy="225.90" r="1.95" fill="none" stroke="#0b74c2" stroke-width="1.0"/>
<circle cx="456.25" cy="219.85" r="1.95" fill="none" stroke="#0b74c2" stroke-width="1.0"/>
<circle cx="464.49" cy="225.70" r="1.95" fill="none" stroke="#0b74c2" stroke-width="1.0"/>
<circle cx="472.54" cy="225.70" r="1.95" fill="none" stroke="#0b74c2" stroke-width="1.0"/>
<circle cx="480.43" cy="204.81" r="1.95" fill="none" stroke="#0b74c2" stroke-width="1.0"/>
<circle cx="488.18" cy="201.68" r="1.95" fill="none" stroke="#0b74c2" stroke-width="1.0"/>
<circle cx="495.82" cy="172.58" r="1.95" fill="none" stroke="#0b74c2" stroke-width="1.0"/>
<circle cx="503.37" cy="141.53" r="1.95" fill="none" stroke="#0b74c2" stroke-width="1.0"/>
<circle cx="510.84" cy="114.38" r="1.95" fill="none" stroke="#0b74c2" stroke-width="1.0"/>
<circle cx="518.26" cy="89.58" r="1.95" fill="none" stroke="#0b74c2" stroke-width="1.0"/>
<circle cx="525.64" cy="59.70" r="1.95" fill="none" stroke="#0b74c2" stroke-width="1.0"/>
<circle cx="533.00" cy="68.10" r="1.95" fill="none" stroke="#0b74c2" stroke-width="1.0"/>
<circle cx="540.36" cy="59.70" r="1.95" fill="none" stroke="#0b74c2" stroke-width="1.0"/>
<circle cx="547.74" cy="89.58" r="1.95" fill="none" stroke="#0b74c2" stroke-width="1.0"/>
<circle cx="555.16" cy="114.38" r="1.95" fill="none" stroke="#0b74c2" stroke-width="1.0"/>
<circle cx="562.63" cy="141.53" r="1.95" fill="none" stroke="#0b74c2" stroke-width="1.0"/>
<circle cx="570.18" cy="172.58" r="1.95" fill="none" stroke="#0b74c2" stroke-width="1.0"/>
<circle cx="577.82" cy="201.68" r="1.95" fill="none" stroke="#0b74c2" stroke-width="1.0"/>
<circle cx="585.57" cy="204.81" r="1.95" fill="none" stroke="#0b74c2" stroke-width="1.0"/>
<circle cx="593.46" cy="225.70" r="1.95" fill="none" stroke="#0b74c2" stroke-width="1.0"/>
<circle cx="601.51" cy="225.70" r="1.95" fill="none" stroke="#0b74c2" stroke-width="1.0"/>
<circle cx="609.75" cy="219.85" r="1.95" fill="none" stroke="#0b74c2" stroke-width="1.0"/>
<circle cx="618.19" cy="225.90" r="1.95" fill="none" stroke="#0b74c2" stroke-width="1.0"/>
<circle cx="626.88" cy="236.25" r="1.95" fill="none" stroke="#0b74c2" stroke-width="1.0"/>
<circle cx="635.84" cy="245.24" r="1.95" fill="none" stroke="#0b74c2" stroke-width="1.0"/>
<circle cx="645.11" cy="244.06" r="1.95" fill="none" stroke="#0b74c2" stroke-width="1.0"/>
<circle cx="654.74" cy="248.95" r="1.95" fill="none" stroke="#0b74c2" stroke-width="1.0"/>
<circle cx="664.76" cy="253.24" r="1.95" fill="none" stroke="#0b74c2" stroke-width="1.0"/>
<circle cx="675.22" cy="254.71" r="1.95" fill="none" stroke="#0b74c2" stroke-width="1.0"/>
<polyline points="385.40,253.30 385.93,253.30 386.45,253.30 386.98,253.30 387.51,253.30 388.04,253.30 388.56,253.30 389.09,253.30 389.62,253.30 390.14,253.30 390.67,253.30 391.20,253.30 391.73,253.30 392.25,253.30 392.78,253.30 393.31,253.30 393.83,253.30 394.36,253.30 394.89,253.30 395.42,253.30 395.94,253.30 396.47,253.30 397.00,253.30 397.52,253.30 398.05,253.30 398.58,253.30 399.11,253.30 399.63,253.30 400.16,253.30 400.69,253.30 401.21,253.30 401.74,253.30 402.27,253.30 402.80,253.30 403.32,253.30 403.85,253.30 404.38,253.30 404.90,253.30 405.43,253.30 405.96,253.30 406.49,253.30 407.01,253.30 407.54,253.30 408.07,253.30 408.59,253.30 409.12,253.30 409.65,253.30 410.18,253.30 410.70,253.30 411.23,253.30 411.76,253.30 412.28,253.30 412.81,253.30 413.34,253.30 413.87,253.30 414.39,253.30 414.92,253.30 415.45,253.30 415.97,253.30 416.50,253.30 417.03,253.30 417.56,253.30 418.08,253.30 418.61,253.30 419.14,253.30 419.66,253.30 420.19,253.30 420.72,253.30 421.25,253.30 421.77,253.30 422.30,253.30 422.83,253.30 423.35,253.30 423.88,253.30 424.41,253.30 424.94,253.30 425.46,253.30 425.99,253.30 426.52,253.30 427.04,253.30 427.57,253.30 428.10,253.30 428.63,253.30 429.15,253.30 429.68,253.30 430.21,253.30 430.73,253.30 431.26,253.30 431.79,253.30 432.32,253.30 432.84,253.30 433.37,253.30 433.90,253.30 434.42,253.30 434.95,253.30 435.48,253.30 436.01,253.30 436.53,253.30 437.06,253.30 437.59,253.30 438.11,253.30 438.64,253.30 439.17,253.30 439.70,253.30 440.22,253.30 440.75,253.30 441.28,253.30 441.80,253.30 442.33,253.30 442.86,253.30 443.39,253.30 443.91,253.30 444.44,253.29 444.97,253.29 445.49,253.29 446.02,253.29 446.55,253.29 447.08,253.29 447.60,253.29 448.13,253.29 448.66,253.29 449.18,253.28 449.71,253.28 450.24,253.28 450.77,253.28 451.29,253.28 451.82,253.27 452.35,253.27 452.87,253.26 453.40,253.26 453.93,253.26 454.46,253.25 454.98,253.25 455.51,253.24 456.04,253.23 456.56,253.22 457.09,253.21 457.62,253.21 458.15,253.19 458.67,253.18 459.20,253.17 459.73,253.16 460.25,253.14 460.78,253.12 461.31,253.10 461.84,253.08 462.36,253.06 462.89,253.03 463.42,253.01 463.94,252.98 464.47,252.94 465.00,252.91 465.53,252.87 466.05,252.82 466.58,252.78 467.11,252.73 467.63,252.67 468.16,252.61 468.69,252.54 469.22,252.47 469.74,252.39 470.27,252.31 470.80,252.22 471.32,252.12 471.85,252.01 472.38,251.89 472.91,251.77 473.43,251.63 473.96,251.49 474.49,251.33 475.01,251.16 475.54,250.98 476.07,250.78 476.60,250.57 477.12,250.34 477.65,250.10 478.18,249.84 478.70,249.56 479.23,249.27 479.76,248.95 480.29,248.61 480.81,248.25 481.34,247.86 481.87,247.45 482.39,247.02 482.92,246.55 483.45,246.06 483.98,245.53 484.50,244.98 485.03,244.39 485.56,243.77 486.08,243.11 486.61,242.41 487.14,241.68 487.67,240.90 488.19,240.09 488.72,239.23 489.25,238.32 489.77,237.37 490.30,236.37 490.83,235.32 491.36,234.22 491.88,233.07 492.41,231.87 492.94,230.61 493.46,229.29 493.99,227.92 494.52,226.49 495.05,225.00 495.57,223.45 496.10,221.83 496.63,220.16 497.15,218.42 497.68,216.62 498.21,214.75 498.74,212.82 499.26,210.82 499.79,208.76 500.32,206.63 500.84,204.44 501.37,202.19 501.90,199.86 502.43,197.48 502.95,195.03 503.48,192.52 504.01,189.95 504.53,187.32 505.06,184.63 505.59,181.89 506.12,179.09 506.64,176.24 507.17,173.34 507.70,170.39 508.22,167.40 508.75,164.36 509.28,161.29 509.81,158.19 510.33,155.05 510.86,151.88 511.39,148.69 511.91,145.48 512.44,142.25 512.97,139.01 513.50,135.77 514.02,132.52 514.55,129.28 515.08,126.05 515.60,122.82 516.13,119.62 516.66,116.44 517.19,113.29 517.71,110.17 518.24,107.10 518.77,104.06 519.29,101.08 519.82,98.16 520.35,95.29 520.88,92.50 521.40,89.77 521.93,87.13 522.46,84.57 522.98,82.09 523.51,79.71 524.04,77.43 524.57,75.25 525.09,73.18 525.62,71.22 526.15,69.38 526.67,67.65 527.20,66.05 527.73,64.58 528.26,63.23 528.78,62.02 529.31,60.95 529.84,60.02 530.36,59.22 530.89,58.57 531.42,58.06 531.95,57.69 532.47,57.47 533.00,57.40 533.53,57.47 534.05,57.69 534.58,58.06 535.11,58.57 535.64,59.22 536.16,60.02 536.69,60.95 537.22,62.02 537.74,63.23 538.27,64.58 538.80,66.05 539.33,67.65 539.85,69.38 540.38,71.22 540.91,73.18 541.43,75.25 541.96,77.43 542.49,79.71 543.02,82.09 543.54,84.57 544.07,87.13 544.60,89.77 545.12,92.50 545.65,95.29 546.18,98.16 546.71,101.08 547.23,104.06 547.76,107.10 548.29,110.17 548.81,113.29 549.34,116.44 549.87,119.62 550.40,122.82 550.92,126.05 551.45,129.28 551.98,132.52 552.50,135.77 553.03,139.01 553.56,142.25 554.09,145.48 554.61,148.69 555.14,151.88 555.67,155.05 556.19,158.19 556.72,161.29 557.25,164.36 557.78,167.40 558.30,170.39 558.83,173.34 559.36,176.24 559.88,179.09 560.41,181.89 560.94,184.63 561.47,187.32 561.99,189.95 562.52,192.52 563.05,195.03 563.57,197.48 564.10,199.86 564.63,202.19 565.16,204.44 565.68,206.63 566.21,208.76 566.74,210.82 567.26,212.82 567.79,214.75 568.32,216.62 568.85,218.42 569.37,220.16 569.90,221.83 570.43,223.45 570.95,225.00 571.48,226.49 572.01,227.92 572.54,229.29 573.06,230.61 573.59,231.87 574.12,233.07 574.64,234.22 575.17,235.32 575.70,236.37 576.23,237.37 576.75,238.32 577.28,239.23 577.81,240.09 578.33,240.90 578.86,241.68 579.39,242.41 579.92,243.11 580.44,243.77 580.97,244.39 581.50,244.98 582.02,245.53 582.55,246.06 583.08,246.55 583.61,247.02 584.13,247.45 584.66,247.86 585.19,248.25 585.71,248.61 586.24,248.95 586.77,249.27 587.30,249.56 587.82,249.84 588.35,250.10 588.88,250.34 589.40,250.57 589.93,250.78 590.46,250.98 590.99,251.16 591.51,251.33 592.04,251.49 592.57,251.63 593.09,251.77 593.62,251.89 594.15,252.01 594.68,252.12 595.20,252.22 595.73,252.31 596.26,252.39 596.78,252.47 597.31,252.54 597.84,252.61 598.37,252.67 598.89,252.73 599.42,252.78 599.95,252.82 600.47,252.87 601.00,252.91 601.53,252.94 602.06,252.98 602.58,253.01 603.11,253.03 603.64,253.06 604.16,253.08 604.69,253.10 605.22,253.12 605.75,253.14 606.27,253.16 606.80,253.17 607.33,253.18 607.85,253.19 608.38,253.21 608.91,253.21 609.44,253.22 609.96,253.23 610.49,253.24 611.02,253.25 611.54,253.25 612.07,253.26 612.60,253.26 613.13,253.26 613.65,253.27 614.18,253.27 614.71,253.28 615.23,253.28 615.76,253.28 616.29,253.28 616.82,253.28 617.34,253.29 617.87,253.29 618.40,253.29 618.92,253.29 619.45,253.29 619.98,253.29 620.51,253.29 621.03,253.29 621.56,253.29 622.09,253.30 622.61,253.30 623.14,253.30 623.67,253.30 624.20,253.30 624.72,253.30 625.25,253.30 625.78,253.30 626.30,253.30 626.83,253.30 627.36,253.30 627.89,253.30 628.41,253.30 628.94,253.30 629.47,253.30 629.99,253.30 630.52,253.30 631.05,253.30 631.58,253.30 632.10,253.30 632.63,253.30 633.16,253.30 633.68,253.30 634.21,253.30 634.74,253.30 635.27,253.30 635.79,253.30 636.32,253.30 636.85,253.30 637.37,253.30 637.90,253.30 638.43,253.30 638.96,253.30 639.48,253.30 640.01,253.30 640.54,253.30 641.06,253.30 641.59,253.30 642.12,253.30 642.65,253.30 643.17,253.30 643.70,253.30 644.23,253.30 644.75,253.30 645.28,253.30 645.81,253.30 646.34,253.30 646.86,253.30 647.39,253.30 647.92,253.30 648.44,253.30 648.97,253.30 649.50,253.30 650.03,253.30 650.55,253.30 651.08,253.30 651.61,253.30 652.13,253.30 652.66,253.30 653.19,253.30 653.72,253.30 654.24,253.30 654.77,253.30 655.30,253.30 655.82,253.30 656.35,253.30 656.88,253.30 657.41,253.30 657.93,253.30 658.46,253.30 658.99,253.30 659.51,253.30 660.04,253.30 660.57,253.30 661.10,253.30 661.62,253.30 662.15,253.30 662.68,253.30 663.20,253.30 663.73,253.30 664.26,253.30 664.79,253.30 665.31,253.30 665.84,253.30 666.37,253.30 666.89,253.30 667.42,253.30 667.95,253.30 668.48,253.30 669.00,253.30 669.53,253.30 670.06,253.30 670.58,253.30 671.11,253.30 671.64,253.30 672.17,253.30 672.69,253.30 673.22,253.30 673.75,253.30 674.27,253.30 674.80,253.30 675.33,253.30 675.86,253.30 676.38,253.30 676.91,253.30 677.44,253.30 677.96,253.30 678.49,253.30 679.02,253.30 679.55,253.30 680.07,253.30 680.60,253.30" fill="none" stroke="#D95319" stroke-width="1.2"/>
<circle cx="390.78" cy="254.02" r="1.95" fill="none" stroke="#D95319" stroke-width="1.0"/>
<circle cx="401.24" cy="253.44" r="1.95" fill="none" stroke="#D95319" stroke-width="1.0"/>
<circle cx="411.26" cy="253.24" r="1.95" fill="none" stroke="#D95319" stroke-width="1.0"/>
<circle cx="420.89" cy="253.24" r="1.95" fill="none" stroke="#D95319" stroke-width="1.0"/>
<circle cx="430.16" cy="254.22" r="1.95" fill="none" stroke="#D95319" stroke-width="1.0"/>
<circle cx="439.12" cy="252.07" r="1.95" fill="none" stroke="#D95319" stroke-width="1.0"/>
<circle cx="447.81" cy="254.22" r="1.95" fill="none" stroke="#D95319" stroke-width="1.0"/>
<circle cx="456.25" cy="253.24" r="1.95" fill="none" stroke="#D95319" stroke-width="1.0"/>
<circle cx="464.49" cy="251.88" r="1.95" fill="none" stroke="#D95319" stroke-width="1.0"/>
<circle cx="472.54" cy="250.70" r="1.95" fill="none" stroke="#D95319" stroke-width="1.0"/>
<circle cx="480.43" cy="251.09" r="1.95" fill="none" stroke="#D95319" stroke-width="1.0"/>
<circle cx="488.18" cy="240.74" r="1.95" fill="none" stroke="#D95319" stroke-width="1.0"/>
<circle cx="495.82" cy="222.19" r="1.95" fill="none" stroke="#D95319" stroke-width="1.0"/>
<circle cx="503.37" cy="187.82" r="1.95" fill="none" stroke="#D95319" stroke-width="1.0"/>
<circle cx="510.84" cy="147.98" r="1.95" fill="none" stroke="#D95319" stroke-width="1.0"/>
<circle cx="518.26" cy="124.93" r="1.95" fill="none" stroke="#D95319" stroke-width="1.0"/>
<circle cx="525.64" cy="59.70" r="1.95" fill="none" stroke="#D95319" stroke-width="1.0"/>
<circle cx="533.00" cy="59.31" r="1.95" fill="none" stroke="#D95319" stroke-width="1.0"/>
<circle cx="540.36" cy="59.70" r="1.95" fill="none" stroke="#D95319" stroke-width="1.0"/>
<circle cx="547.74" cy="124.93" r="1.95" fill="none" stroke="#D95319" stroke-width="1.0"/>
<circle cx="555.16" cy="147.98" r="1.95" fill="none" stroke="#D95319" stroke-width="1.0"/>
<circle cx="562.63" cy="187.82" r="1.95" fill="none" stroke="#D95319" stroke-width="1.0"/>
<circle cx="570.18" cy="222.19" r="1.95" fill="none" stroke="#D95319" stroke-width="1.0"/>
<circle cx="577.82" cy="240.74" r="1.95" fill="none" stroke="#D95319" stroke-width="1.0"/>
<circle cx="585.57" cy="251.09" r="1.95" fill="none" stroke="#D95319" stroke-width="1.0"/>
<circle cx="593.46" cy="250.70" r="1.95" fill="none" stroke="#D95319" stroke-width="1.0"/>
<circle cx="601.51" cy="251.88" r="1.95" fill="none" stroke="#D95319" stroke-width="1.0"/>
<circle cx="609.75" cy="253.24" r="1.95" fill="none" stroke="#D95319" stroke-width="1.0"/>
<circle cx="618.19" cy="254.22" r="1.95" fill="none" stroke="#D95319" stroke-width="1.0"/>
<circle cx="626.88" cy="252.07" r="1.95" fill="none" stroke="#D95319" stroke-width="1.0"/>
<circle cx="635.84" cy="254.22" r="1.95" fill="none" stroke="#D95319" stroke-width="1.0"/>
<circle cx="645.11" cy="253.24" r="1.95" fill="none" stroke="#D95319" stroke-width="1.0"/>
<circle cx="654.74" cy="253.24" r="1.95" fill="none" stroke="#D95319" stroke-width="1.0"/>
<circle cx="664.76" cy="253.44" r="1.95" fill="none" stroke="#D95319" stroke-width="1.0"/>
<circle cx="675.22" cy="254.02" r="1.95" fill="none" stroke="#D95319" stroke-width="1.0"/>
</g>
<text x="399.20" y="66.30" class="ann" textLength="91" lengthAdjust="spacingAndGlyphs">Expt. <tspan font-style="italic">λ</tspan> = 1,800 nm</text>
<circle cx="581.20" cy="35.60" r="1.5" fill="none" stroke="#0b74c2" stroke-width="1.1"/>
<text x="592.70" y="38.70" class="leg" textLength="56.2" lengthAdjust="spacingAndGlyphs">EtOH liq. H25</text>
<line x1="576.60" x2="585.80" y1="50.40" y2="50.40" stroke="#0b74c2" stroke-width="0.9" stroke-opacity="0.75"/>
<text x="592.70" y="53.50" class="leg" textLength="76.3" lengthAdjust="spacingAndGlyphs">Triple-Gaussian fit</text>
<circle cx="581.20" cy="65.00" r="1.5" fill="none" stroke="#D95319" stroke-width="1.1"/>
<text x="592.70" y="68.10" class="leg" textLength="57.9" lengthAdjust="spacingAndGlyphs">EtOH gas H25</text>
<line x1="576.60" x2="585.80" y1="79.60" y2="79.60" stroke="#D95319" stroke-width="0.9" stroke-opacity="0.75"/>
<text x="592.70" y="82.70" class="leg" textLength="78.9" lengthAdjust="spacingAndGlyphs">Single-Gaussian fit</text>
<text x="364.60" y="11.70" class="pl">b</text>
</g>
<g>
<rect x="48.00" y="294.50" width="296.00" height="218.10" fill="none" stroke="#9a9a9a" stroke-width="1.1"/>
<line x1="48.00" x2="51.00" y1="476.30" y2="476.30" stroke="#9a9a9a" stroke-width="0.9"/>
<line x1="48.00" x2="51.00" y1="440.00" y2="440.00" stroke="#9a9a9a" stroke-width="0.9"/>
<line x1="48.00" x2="51.00" y1="403.70" y2="403.70" stroke="#9a9a9a" stroke-width="0.9"/>
<line x1="48.00" x2="51.00" y1="367.40" y2="367.40" stroke="#9a9a9a" stroke-width="0.9"/>
<line x1="48.00" x2="51.00" y1="331.10" y2="331.10" stroke="#9a9a9a" stroke-width="0.9"/>
<line x1="69.14" x2="69.14" y1="512.60" y2="509.60" stroke="#9a9a9a" stroke-width="0.9"/>
<line x1="111.43" x2="111.43" y1="512.60" y2="509.60" stroke="#9a9a9a" stroke-width="0.9"/>
<line x1="153.71" x2="153.71" y1="512.60" y2="509.60" stroke="#9a9a9a" stroke-width="0.9"/>
<line x1="196.00" x2="196.00" y1="512.60" y2="509.60" stroke="#9a9a9a" stroke-width="0.9"/>
<line x1="238.29" x2="238.29" y1="512.60" y2="509.60" stroke="#9a9a9a" stroke-width="0.9"/>
<line x1="280.57" x2="280.57" y1="512.60" y2="509.60" stroke="#9a9a9a" stroke-width="0.9"/>
<line x1="322.86" x2="322.86" y1="512.60" y2="509.60" stroke="#9a9a9a" stroke-width="0.9"/>
<text x="41.90" y="516.10" text-anchor="end" class="tk">0</text>
<text x="41.90" y="479.80" text-anchor="end" class="tk">0.2</text>
<text x="41.90" y="443.50" text-anchor="end" class="tk">0.4</text>
<text x="41.90" y="407.20" text-anchor="end" class="tk">0.6</text>
<text x="41.90" y="370.90" text-anchor="end" class="tk">0.8</text>
<text x="41.90" y="334.60" text-anchor="end" class="tk">1.0</text>
<text x="41.90" y="298.30" text-anchor="end" class="tk">1.2</text>
<text x="69.14" y="524.90" text-anchor="middle" class="tk">−0.6</text>
<text x="111.43" y="524.90" text-anchor="middle" class="tk">−0.4</text>
<text x="153.71" y="524.90" text-anchor="middle" class="tk">−0.2</text>
<text x="196.00" y="524.90" text-anchor="middle" class="tk">0</text>
<text x="238.29" y="524.90" text-anchor="middle" class="tk">0.2</text>
<text x="280.57" y="524.90" text-anchor="middle" class="tk">0.4</text>
<text x="322.86" y="524.90" text-anchor="middle" class="tk">0.6</text>
<clipPath id="clipc"><rect x="45.00" y="294.50" width="302.00" height="221.10"/></clipPath>
<g clip-path="url(#clipc)">
<polyline points="48.00,510.33 48.53,510.21 49.06,510.08 49.59,509.95 50.11,509.81 50.64,509.66 51.17,509.51 51.70,509.35 52.23,509.18 52.76,509.00 53.29,508.82 53.81,508.63 54.34,508.43 54.87,508.22 55.40,508.01 55.93,507.78 56.46,507.55 56.99,507.31 57.51,507.06 58.04,506.81 58.57,506.55 59.10,506.28 59.63,506.00 60.16,505.71 60.69,505.42 61.21,505.12 61.74,504.82 62.27,504.50 62.80,504.19 63.33,503.86 63.86,503.53 64.39,503.20 64.91,502.86 65.44,502.52 65.97,502.18 66.50,501.83 67.03,501.48 67.56,501.13 68.09,500.78 68.61,500.42 69.14,500.07 69.67,499.72 70.20,499.37 70.73,499.02 71.26,498.68 71.79,498.33 72.31,498.00 72.84,497.67 73.37,497.34 73.90,497.02 74.43,496.70 74.96,496.40 75.49,496.10 76.01,495.81 76.54,495.53 77.07,495.26 77.60,495.01 78.13,494.76 78.66,494.52 79.19,494.30 79.71,494.08 80.24,493.88 80.77,493.70 81.30,493.52 81.83,493.36 82.36,493.21 82.89,493.08 83.41,492.96 83.94,492.85 84.47,492.76 85.00,492.68 85.53,492.62 86.06,492.56 86.59,492.52 87.11,492.49 87.64,492.48 88.17,492.47 88.70,492.48 89.23,492.50 89.76,492.53 90.29,492.56 90.81,492.61 91.34,492.66 91.87,492.73 92.40,492.79 92.93,492.87 93.46,492.95 93.99,493.03 94.51,493.12 95.04,493.21 95.57,493.30 96.10,493.39 96.63,493.48 97.16,493.57 97.69,493.66 98.21,493.75 98.74,493.83 99.27,493.91 99.80,493.98 100.33,494.05 100.86,494.10 101.39,494.15 101.91,494.20 102.44,494.23 102.97,494.25 103.50,494.26 104.03,494.25 104.56,494.24 105.09,494.21 105.61,494.16 106.14,494.11 106.67,494.03 107.20,493.94 107.73,493.84 108.26,493.71 108.79,493.57 109.31,493.41 109.84,493.24 110.37,493.04 110.90,492.83 111.43,492.59 111.96,492.34 112.49,492.06 113.01,491.77 113.54,491.46 114.07,491.12 114.60,490.76 115.13,490.39 115.66,489.99 116.19,489.57 116.71,489.13 117.24,488.67 117.77,488.18 118.30,487.68 118.83,487.15 119.36,486.61 119.89,486.04 120.41,485.45 120.94,484.83 121.47,484.20 122.00,483.55 122.53,482.87 123.06,482.17 123.59,481.45 124.11,480.71 124.64,479.95 125.17,479.17 125.70,478.37 126.23,477.55 126.76,476.71 127.29,475.84 127.81,474.96 128.34,474.05 128.87,473.13 129.40,472.18 129.93,471.22 130.46,470.24 130.99,469.23 131.51,468.21 132.04,467.17 132.57,466.10 133.10,465.02 133.63,463.92 134.16,462.80 134.69,461.67 135.21,460.51 135.74,459.34 136.27,458.15 136.80,456.94 137.33,455.71 137.86,454.46 138.39,453.20 138.91,451.92 139.44,450.63 139.97,449.32 140.50,447.99 141.03,446.64 141.56,445.28 142.09,443.91 142.61,442.52 143.14,441.11 143.67,439.69 144.20,438.26 144.73,436.81 145.26,435.35 145.79,433.87 146.31,432.39 146.84,430.89 147.37,429.37 147.90,427.85 148.43,426.32 148.96,424.77 149.49,423.22 150.01,421.65 150.54,420.07 151.07,418.49 151.60,416.90 152.13,415.30 152.66,413.69 153.19,412.08 153.71,410.46 154.24,408.83 154.77,407.20 155.30,405.56 155.83,403.92 156.36,402.28 156.89,400.63 157.41,398.99 157.94,397.34 158.47,395.69 159.00,394.04 159.53,392.39 160.06,390.74 160.59,389.09 161.11,387.44 161.64,385.80 162.17,384.17 162.70,382.53 163.23,380.91 163.76,379.28 164.29,377.67 164.81,376.06 165.34,374.46 165.87,372.87 166.40,371.29 166.93,369.72 167.46,368.17 167.99,366.62 168.51,365.09 169.04,363.57 169.57,362.06 170.10,360.57 170.63,359.09 171.16,357.64 171.69,356.20 172.21,354.77 172.74,353.37 173.27,351.98 173.80,350.62 174.33,349.27 174.86,347.95 175.39,346.65 175.91,345.37 176.44,344.12 176.97,342.89 177.50,341.69 178.03,340.51 178.56,339.36 179.09,338.23 179.61,337.13 180.14,336.06 180.67,335.02 181.20,334.01 181.73,333.03 182.26,332.08 182.79,331.16 183.31,330.27 183.84,329.42 184.37,328.60 184.90,327.81 185.43,327.05 185.96,326.33 186.49,325.64 187.01,324.99 187.54,324.37 188.07,323.79 188.60,323.24 189.13,322.73 189.66,322.26 190.19,321.82 190.71,321.42 191.24,321.06 191.77,320.73 192.30,320.45 192.83,320.20 193.36,319.99 193.89,319.81 194.41,319.68 194.94,319.58 195.47,319.53 196.00,319.51 196.53,319.53 197.06,319.58 197.59,319.68 198.11,319.81 198.64,319.99 199.17,320.20 199.70,320.45 200.23,320.73 200.76,321.06 201.29,321.42 201.81,321.82 202.34,322.26 202.87,322.73 203.40,323.24 203.93,323.79 204.46,324.37 204.99,324.99 205.51,325.64 206.04,326.33 206.57,327.05 207.10,327.81 207.63,328.60 208.16,329.42 208.69,330.27 209.21,331.16 209.74,332.08 210.27,333.03 210.80,334.01 211.33,335.02 211.86,336.06 212.39,337.13 212.91,338.23 213.44,339.36 213.97,340.51 214.50,341.69 215.03,342.89 215.56,344.12 216.09,345.37 216.61,346.65 217.14,347.95 217.67,349.27 218.20,350.62 218.73,351.98 219.26,353.37 219.79,354.77 220.31,356.20 220.84,357.64 221.37,359.09 221.90,360.57 222.43,362.06 222.96,363.57 223.49,365.09 224.01,366.62 224.54,368.17 225.07,369.72 225.60,371.29 226.13,372.87 226.66,374.46 227.19,376.06 227.71,377.67 228.24,379.28 228.77,380.91 229.30,382.53 229.83,384.17 230.36,385.80 230.89,387.44 231.41,389.09 231.94,390.74 232.47,392.39 233.00,394.04 233.53,395.69 234.06,397.34 234.59,398.99 235.11,400.63 235.64,402.28 236.17,403.92 236.70,405.56 237.23,407.20 237.76,408.83 238.29,410.46 238.81,412.08 239.34,413.69 239.87,415.30 240.40,416.90 240.93,418.49 241.46,420.07 241.99,421.65 242.51,423.22 243.04,424.77 243.57,426.32 244.10,427.85 244.63,429.37 245.16,430.89 245.69,432.39 246.21,433.87 246.74,435.35 247.27,436.81 247.80,438.26 248.33,439.69 248.86,441.11 249.39,442.52 249.91,443.91 250.44,445.28 250.97,446.64 251.50,447.99 252.03,449.32 252.56,450.63 253.09,451.92 253.61,453.20 254.14,454.46 254.67,455.71 255.20,456.94 255.73,458.15 256.26,459.34 256.79,460.51 257.31,461.67 257.84,462.80 258.37,463.92 258.90,465.02 259.43,466.10 259.96,467.17 260.49,468.21 261.01,469.23 261.54,470.24 262.07,471.22 262.60,472.18 263.13,473.13 263.66,474.05 264.19,474.96 264.71,475.84 265.24,476.71 265.77,477.55 266.30,478.37 266.83,479.17 267.36,479.95 267.89,480.71 268.41,481.45 268.94,482.17 269.47,482.87 270.00,483.55 270.53,484.20 271.06,484.83 271.59,485.45 272.11,486.04 272.64,486.61 273.17,487.15 273.70,487.68 274.23,488.18 274.76,488.67 275.29,489.13 275.81,489.57 276.34,489.99 276.87,490.39 277.40,490.76 277.93,491.12 278.46,491.46 278.99,491.77 279.51,492.06 280.04,492.34 280.57,492.59 281.10,492.83 281.63,493.04 282.16,493.24 282.69,493.41 283.21,493.57 283.74,493.71 284.27,493.84 284.80,493.94 285.33,494.03 285.86,494.11 286.39,494.16 286.91,494.21 287.44,494.24 287.97,494.25 288.50,494.26 289.03,494.25 289.56,494.23 290.09,494.20 290.61,494.15 291.14,494.10 291.67,494.05 292.20,493.98 292.73,493.91 293.26,493.83 293.79,493.75 294.31,493.66 294.84,493.57 295.37,493.48 295.90,493.39 296.43,493.30 296.96,493.21 297.49,493.12 298.01,493.03 298.54,492.95 299.07,492.87 299.60,492.79 300.13,492.73 300.66,492.66 301.19,492.61 301.71,492.56 302.24,492.53 302.77,492.50 303.30,492.48 303.83,492.47 304.36,492.48 304.89,492.49 305.41,492.52 305.94,492.56 306.47,492.62 307.00,492.68 307.53,492.76 308.06,492.85 308.59,492.96 309.11,493.08 309.64,493.21 310.17,493.36 310.70,493.52 311.23,493.70 311.76,493.88 312.29,494.08 312.81,494.30 313.34,494.52 313.87,494.76 314.40,495.01 314.93,495.26 315.46,495.53 315.99,495.81 316.51,496.10 317.04,496.40 317.57,496.70 318.10,497.02 318.63,497.34 319.16,497.67 319.69,498.00 320.21,498.33 320.74,498.68 321.27,499.02 321.80,499.37 322.33,499.72 322.86,500.07 323.39,500.42 323.91,500.78 324.44,501.13 324.97,501.48 325.50,501.83 326.03,502.18 326.56,502.52 327.09,502.86 327.61,503.20 328.14,503.53 328.67,503.86 329.20,504.19 329.73,504.50 330.26,504.82 330.79,505.12 331.31,505.42 331.84,505.71 332.37,506.00 332.90,506.28 333.43,506.55 333.96,506.81 334.49,507.06 335.01,507.31 335.54,507.55 336.07,507.78 336.60,508.01 337.13,508.22 337.66,508.43 338.19,508.63 338.71,508.82 339.24,509.00 339.77,509.18 340.30,509.35 340.83,509.51 341.36,509.66 341.89,509.81 342.41,509.95 342.94,510.08 343.47,510.21 344.00,510.33" fill="none" stroke="#0b74c2" stroke-width="1.2"/>
<circle cx="48.00" cy="507.16" r="1.95" fill="none" stroke="#0b74c2" stroke-width="1.0"/>
<circle cx="69.14" cy="500.08" r="1.95" fill="none" stroke="#0b74c2" stroke-width="1.0"/>
<circle cx="79.71" cy="495.54" r="1.95" fill="none" stroke="#0b74c2" stroke-width="1.0"/>
<circle cx="90.29" cy="492.27" r="1.95" fill="none" stroke="#0b74c2" stroke-width="1.0"/>
<circle cx="100.86" cy="491.73" r="1.95" fill="none" stroke="#0b74c2" stroke-width="1.0"/>
<circle cx="111.43" cy="492.45" r="1.95" fill="none" stroke="#0b74c2" stroke-width="1.0"/>
<circle cx="122.00" cy="488.82" r="1.95" fill="none" stroke="#0b74c2" stroke-width="1.0"/>
<circle cx="132.57" cy="474.30" r="1.95" fill="none" stroke="#0b74c2" stroke-width="1.0"/>
<circle cx="143.14" cy="444.36" r="1.95" fill="none" stroke="#0b74c2" stroke-width="1.0"/>
<circle cx="153.71" cy="404.24" r="1.95" fill="none" stroke="#0b74c2" stroke-width="1.0"/>
<circle cx="164.29" cy="366.67" r="1.95" fill="none" stroke="#0b74c2" stroke-width="1.0"/>
<circle cx="174.86" cy="342.90" r="1.95" fill="none" stroke="#0b74c2" stroke-width="1.0"/>
<circle cx="185.43" cy="332.92" r="1.95" fill="none" stroke="#0b74c2" stroke-width="1.0"/>
<circle cx="196.00" cy="330.56" r="1.95" fill="none" stroke="#0b74c2" stroke-width="1.0"/>
<circle cx="206.57" cy="332.92" r="1.95" fill="none" stroke="#0b74c2" stroke-width="1.0"/>
<circle cx="217.14" cy="342.90" r="1.95" fill="none" stroke="#0b74c2" stroke-width="1.0"/>
<circle cx="227.71" cy="366.67" r="1.95" fill="none" stroke="#0b74c2" stroke-width="1.0"/>
<circle cx="238.29" cy="404.24" r="1.95" fill="none" stroke="#0b74c2" stroke-width="1.0"/>
<circle cx="248.86" cy="444.36" r="1.95" fill="none" stroke="#0b74c2" stroke-width="1.0"/>
<circle cx="259.43" cy="474.30" r="1.95" fill="none" stroke="#0b74c2" stroke-width="1.0"/>
<circle cx="270.00" cy="488.82" r="1.95" fill="none" stroke="#0b74c2" stroke-width="1.0"/>
<circle cx="280.57" cy="492.45" r="1.95" fill="none" stroke="#0b74c2" stroke-width="1.0"/>
<circle cx="291.14" cy="491.73" r="1.95" fill="none" stroke="#0b74c2" stroke-width="1.0"/>
<circle cx="301.71" cy="492.27" r="1.95" fill="none" stroke="#0b74c2" stroke-width="1.0"/>
<circle cx="312.29" cy="495.54" r="1.95" fill="none" stroke="#0b74c2" stroke-width="1.0"/>
<circle cx="322.86" cy="500.08" r="1.95" fill="none" stroke="#0b74c2" stroke-width="1.0"/>
<circle cx="344.00" cy="507.16" r="1.95" fill="none" stroke="#0b74c2" stroke-width="1.0"/>
<polyline points="48.00,510.84 48.53,510.84 49.06,510.84 49.59,510.84 50.11,510.84 50.64,510.84 51.17,510.84 51.70,510.84 52.23,510.84 52.76,510.84 53.29,510.84 53.81,510.84 54.34,510.84 54.87,510.84 55.40,510.84 55.93,510.84 56.46,510.84 56.99,510.84 57.51,510.84 58.04,510.84 58.57,510.84 59.10,510.84 59.63,510.84 60.16,510.84 60.69,510.84 61.21,510.84 61.74,510.84 62.27,510.84 62.80,510.84 63.33,510.84 63.86,510.84 64.39,510.84 64.91,510.84 65.44,510.84 65.97,510.84 66.50,510.84 67.03,510.84 67.56,510.84 68.09,510.84 68.61,510.84 69.14,510.84 69.67,510.84 70.20,510.84 70.73,510.84 71.26,510.83 71.79,510.83 72.31,510.83 72.84,510.83 73.37,510.83 73.90,510.83 74.43,510.83 74.96,510.83 75.49,510.83 76.01,510.83 76.54,510.83 77.07,510.83 77.60,510.83 78.13,510.83 78.66,510.83 79.19,510.83 79.71,510.83 80.24,510.82 80.77,510.82 81.30,510.82 81.83,510.82 82.36,510.82 82.89,510.82 83.41,510.82 83.94,510.81 84.47,510.81 85.00,510.81 85.53,510.81 86.06,510.80 86.59,510.80 87.11,510.80 87.64,510.79 88.17,510.79 88.70,510.79 89.23,510.78 89.76,510.78 90.29,510.77 90.81,510.77 91.34,510.76 91.87,510.76 92.40,510.75 92.93,510.74 93.46,510.73 93.99,510.73 94.51,510.72 95.04,510.71 95.57,510.70 96.10,510.69 96.63,510.67 97.16,510.66 97.69,510.65 98.21,510.63 98.74,510.62 99.27,510.60 99.80,510.58 100.33,510.56 100.86,510.54 101.39,510.52 101.91,510.50 102.44,510.47 102.97,510.45 103.50,510.42 104.03,510.39 104.56,510.36 105.09,510.33 105.61,510.29 106.14,510.25 106.67,510.21 107.20,510.17 107.73,510.12 108.26,510.07 108.79,510.02 109.31,509.96 109.84,509.91 110.37,509.84 110.90,509.78 111.43,509.71 111.96,509.64 112.49,509.56 113.01,509.48 113.54,509.39 114.07,509.30 114.60,509.20 115.13,509.10 115.66,508.99 116.19,508.87 116.71,508.75 117.24,508.63 117.77,508.49 118.30,508.35 118.83,508.20 119.36,508.05 119.89,507.88 120.41,507.71 120.94,507.53 121.47,507.34 122.00,507.14 122.53,506.93 123.06,506.70 123.59,506.47 124.11,506.23 124.64,505.98 125.17,505.71 125.70,505.43 126.23,505.14 126.76,504.84 127.29,504.52 127.81,504.19 128.34,503.84 128.87,503.48 129.40,503.10 129.93,502.70 130.46,502.29 130.99,501.86 131.51,501.42 132.04,500.95 132.57,500.47 133.10,499.97 133.63,499.45 134.16,498.90 134.69,498.34 135.21,497.75 135.74,497.15 136.27,496.52 136.80,495.87 137.33,495.19 137.86,494.49 138.39,493.77 138.91,493.02 139.44,492.24 139.97,491.44 140.50,490.61 141.03,489.76 141.56,488.87 142.09,487.96 142.61,487.03 143.14,486.06 143.67,485.06 144.20,484.04 144.73,482.98 145.26,481.90 145.79,480.78 146.31,479.64 146.84,478.46 147.37,477.25 147.90,476.01 148.43,474.74 148.96,473.44 149.49,472.10 150.01,470.74 150.54,469.34 151.07,467.91 151.60,466.45 152.13,464.96 152.66,463.43 153.19,461.88 153.71,460.29 154.24,458.68 154.77,457.03 155.30,455.35 155.83,453.64 156.36,451.91 156.89,450.14 157.41,448.35 157.94,446.53 158.47,444.68 159.00,442.81 159.53,440.91 160.06,438.99 160.59,437.04 161.11,435.07 161.64,433.08 162.17,431.07 162.70,429.04 163.23,426.99 163.76,424.92 164.29,422.84 164.81,420.74 165.34,418.63 165.87,416.50 166.40,414.37 166.93,412.22 167.46,410.07 167.99,407.91 168.51,405.75 169.04,403.58 169.57,401.42 170.10,399.25 170.63,397.09 171.16,394.93 171.69,392.77 172.21,390.63 172.74,388.49 173.27,386.36 173.80,384.25 174.33,382.15 174.86,380.07 175.39,378.01 175.91,375.97 176.44,373.95 176.97,371.96 177.50,369.99 178.03,368.05 178.56,366.14 179.09,364.27 179.61,362.43 180.14,360.63 180.67,358.86 181.20,357.14 181.73,355.45 182.26,353.81 182.79,352.22 183.31,350.67 183.84,349.17 184.37,347.73 184.90,346.33 185.43,344.99 185.96,343.71 186.49,342.48 187.01,341.31 187.54,340.19 188.07,339.14 188.60,338.15 189.13,337.23 189.66,336.37 190.19,335.57 190.71,334.84 191.24,334.18 191.77,333.58 192.30,333.05 192.83,332.60 193.36,332.21 193.89,331.89 194.41,331.64 194.94,331.46 195.47,331.36 196.00,331.32 196.53,331.36 197.06,331.46 197.59,331.64 198.11,331.89 198.64,332.21 199.17,332.60 199.70,333.05 200.23,333.58 200.76,334.18 201.29,334.84 201.81,335.57 202.34,336.37 202.87,337.23 203.40,338.15 203.93,339.14 204.46,340.19 204.99,341.31 205.51,342.48 206.04,343.71 206.57,344.99 207.10,346.33 207.63,347.73 208.16,349.17 208.69,350.67 209.21,352.22 209.74,353.81 210.27,355.45 210.80,357.14 211.33,358.86 211.86,360.63 212.39,362.43 212.91,364.27 213.44,366.14 213.97,368.05 214.50,369.99 215.03,371.96 215.56,373.95 216.09,375.97 216.61,378.01 217.14,380.07 217.67,382.15 218.20,384.25 218.73,386.36 219.26,388.49 219.79,390.63 220.31,392.77 220.84,394.93 221.37,397.09 221.90,399.25 222.43,401.42 222.96,403.58 223.49,405.75 224.01,407.91 224.54,410.07 225.07,412.22 225.60,414.37 226.13,416.50 226.66,418.63 227.19,420.74 227.71,422.84 228.24,424.92 228.77,426.99 229.30,429.04 229.83,431.07 230.36,433.08 230.89,435.07 231.41,437.04 231.94,438.99 232.47,440.91 233.00,442.81 233.53,444.68 234.06,446.53 234.59,448.35 235.11,450.14 235.64,451.91 236.17,453.64 236.70,455.35 237.23,457.03 237.76,458.68 238.29,460.29 238.81,461.88 239.34,463.43 239.87,464.96 240.40,466.45 240.93,467.91 241.46,469.34 241.99,470.74 242.51,472.10 243.04,473.44 243.57,474.74 244.10,476.01 244.63,477.25 245.16,478.46 245.69,479.64 246.21,480.78 246.74,481.90 247.27,482.98 247.80,484.04 248.33,485.06 248.86,486.06 249.39,487.03 249.91,487.96 250.44,488.87 250.97,489.76 251.50,490.61 252.03,491.44 252.56,492.24 253.09,493.02 253.61,493.77 254.14,494.49 254.67,495.19 255.20,495.87 255.73,496.52 256.26,497.15 256.79,497.75 257.31,498.34 257.84,498.90 258.37,499.45 258.90,499.97 259.43,500.47 259.96,500.95 260.49,501.42 261.01,501.86 261.54,502.29 262.07,502.70 262.60,503.10 263.13,503.48 263.66,503.84 264.19,504.19 264.71,504.52 265.24,504.84 265.77,505.14 266.30,505.43 266.83,505.71 267.36,505.98 267.89,506.23 268.41,506.47 268.94,506.70 269.47,506.93 270.00,507.14 270.53,507.34 271.06,507.53 271.59,507.71 272.11,507.88 272.64,508.05 273.17,508.20 273.70,508.35 274.23,508.49 274.76,508.63 275.29,508.75 275.81,508.87 276.34,508.99 276.87,509.10 277.40,509.20 277.93,509.30 278.46,509.39 278.99,509.48 279.51,509.56 280.04,509.64 280.57,509.71 281.10,509.78 281.63,509.84 282.16,509.91 282.69,509.96 283.21,510.02 283.74,510.07 284.27,510.12 284.80,510.17 285.33,510.21 285.86,510.25 286.39,510.29 286.91,510.33 287.44,510.36 287.97,510.39 288.50,510.42 289.03,510.45 289.56,510.47 290.09,510.50 290.61,510.52 291.14,510.54 291.67,510.56 292.20,510.58 292.73,510.60 293.26,510.62 293.79,510.63 294.31,510.65 294.84,510.66 295.37,510.67 295.90,510.69 296.43,510.70 296.96,510.71 297.49,510.72 298.01,510.73 298.54,510.73 299.07,510.74 299.60,510.75 300.13,510.76 300.66,510.76 301.19,510.77 301.71,510.77 302.24,510.78 302.77,510.78 303.30,510.79 303.83,510.79 304.36,510.79 304.89,510.80 305.41,510.80 305.94,510.80 306.47,510.81 307.00,510.81 307.53,510.81 308.06,510.81 308.59,510.82 309.11,510.82 309.64,510.82 310.17,510.82 310.70,510.82 311.23,510.82 311.76,510.82 312.29,510.83 312.81,510.83 313.34,510.83 313.87,510.83 314.40,510.83 314.93,510.83 315.46,510.83 315.99,510.83 316.51,510.83 317.04,510.83 317.57,510.83 318.10,510.83 318.63,510.83 319.16,510.83 319.69,510.83 320.21,510.83 320.74,510.83 321.27,510.84 321.80,510.84 322.33,510.84 322.86,510.84 323.39,510.84 323.91,510.84 324.44,510.84 324.97,510.84 325.50,510.84 326.03,510.84 326.56,510.84 327.09,510.84 327.61,510.84 328.14,510.84 328.67,510.84 329.20,510.84 329.73,510.84 330.26,510.84 330.79,510.84 331.31,510.84 331.84,510.84 332.37,510.84 332.90,510.84 333.43,510.84 333.96,510.84 334.49,510.84 335.01,510.84 335.54,510.84 336.07,510.84 336.60,510.84 337.13,510.84 337.66,510.84 338.19,510.84 338.71,510.84 339.24,510.84 339.77,510.84 340.30,510.84 340.83,510.84 341.36,510.84 341.89,510.84 342.41,510.84 342.94,510.84 343.47,510.84 344.00,510.84" fill="none" stroke="#D95319" stroke-width="1.2"/>
<circle cx="48.00" cy="511.51" r="1.95" fill="none" stroke="#D95319" stroke-width="1.0"/>
<circle cx="69.14" cy="510.97" r="1.95" fill="none" stroke="#D95319" stroke-width="1.0"/>
<circle cx="79.71" cy="510.97" r="1.95" fill="none" stroke="#D95319" stroke-width="1.0"/>
<circle cx="90.29" cy="510.97" r="1.95" fill="none" stroke="#D95319" stroke-width="1.0"/>
<circle cx="100.86" cy="510.97" r="1.95" fill="none" stroke="#D95319" stroke-width="1.0"/>
<circle cx="111.43" cy="509.88" r="1.95" fill="none" stroke="#D95319" stroke-width="1.0"/>
<circle cx="122.00" cy="506.07" r="1.95" fill="none" stroke="#D95319" stroke-width="1.0"/>
<circle cx="132.57" cy="499.35" r="1.95" fill="none" stroke="#D95319" stroke-width="1.0"/>
<circle cx="143.14" cy="485.92" r="1.95" fill="none" stroke="#D95319" stroke-width="1.0"/>
<circle cx="153.71" cy="460.69" r="1.95" fill="none" stroke="#D95319" stroke-width="1.0"/>
<circle cx="164.29" cy="423.12" r="1.95" fill="none" stroke="#D95319" stroke-width="1.0"/>
<circle cx="174.86" cy="380.29" r="1.95" fill="none" stroke="#D95319" stroke-width="1.0"/>
<circle cx="185.43" cy="345.08" r="1.95" fill="none" stroke="#D95319" stroke-width="1.0"/>
<circle cx="196.00" cy="330.56" r="1.95" fill="none" stroke="#D95319" stroke-width="1.0"/>
<circle cx="206.57" cy="345.08" r="1.95" fill="none" stroke="#D95319" stroke-width="1.0"/>
<circle cx="217.14" cy="380.29" r="1.95" fill="none" stroke="#D95319" stroke-width="1.0"/>
<circle cx="227.71" cy="423.12" r="1.95" fill="none" stroke="#D95319" stroke-width="1.0"/>
<circle cx="238.29" cy="460.69" r="1.95" fill="none" stroke="#D95319" stroke-width="1.0"/>
<circle cx="248.86" cy="485.92" r="1.95" fill="none" stroke="#D95319" stroke-width="1.0"/>
<circle cx="259.43" cy="499.35" r="1.95" fill="none" stroke="#D95319" stroke-width="1.0"/>
<circle cx="270.00" cy="506.07" r="1.95" fill="none" stroke="#D95319" stroke-width="1.0"/>
<circle cx="280.57" cy="509.88" r="1.95" fill="none" stroke="#D95319" stroke-width="1.0"/>
<circle cx="291.14" cy="510.97" r="1.95" fill="none" stroke="#D95319" stroke-width="1.0"/>
<circle cx="301.71" cy="510.97" r="1.95" fill="none" stroke="#D95319" stroke-width="1.0"/>
<circle cx="312.29" cy="510.97" r="1.95" fill="none" stroke="#D95319" stroke-width="1.0"/>
<circle cx="322.86" cy="510.97" r="1.95" fill="none" stroke="#D95319" stroke-width="1.0"/>
<circle cx="344.00" cy="511.51" r="1.95" fill="none" stroke="#D95319" stroke-width="1.0"/>
</g>
<text x="57.10" y="326.30" class="ann" textLength="99.5" lengthAdjust="spacingAndGlyphs">Ab initio <tspan font-style="italic">λ</tspan> = 900 nm</text>
<circle cx="245.80" cy="309.60" r="1.5" fill="none" stroke="#0b74c2" stroke-width="1.1"/>
<text x="255.60" y="312.70" class="leg" textLength="55.5" lengthAdjust="spacingAndGlyphs">H<tspan font-size="6.2" dy="3">2</tspan><tspan dy="-3">O (liq.) H15</tspan></text>
<line x1="241.20" x2="250.40" y1="323.80" y2="323.80" stroke="#0b74c2" stroke-width="0.9" stroke-opacity="0.75"/>
<text x="255.60" y="326.90" class="leg" textLength="76.4" lengthAdjust="spacingAndGlyphs">Triple-Gaussian fit</text>
<circle cx="245.80" cy="339.50" r="1.5" fill="none" stroke="#D95319" stroke-width="1.1"/>
<text x="255.60" y="342.60" class="leg" textLength="57.5" lengthAdjust="spacingAndGlyphs">H<tspan font-size="6.2" dy="3">2</tspan><tspan dy="-3">O (gas) H15</tspan></text>
<line x1="241.20" x2="250.40" y1="353.30" y2="353.30" stroke="#D95319" stroke-width="0.9" stroke-opacity="0.75"/>
<text x="255.60" y="356.40" class="leg" textLength="78.9" lengthAdjust="spacingAndGlyphs">Single-Gaussian fit</text>
<text x="27.40" y="287.50" class="pl">c</text>
<text transform="translate(15.80,403.40) rotate(-90)" text-anchor="middle" class="axl" textLength="57.5" lengthAdjust="spacingAndGlyphs">Norm. yield</text>
<text x="165.90" y="542.40" class="axl" textLength="60.4" lengthAdjust="spacingAndGlyphs">Ellipticity (<tspan font-style="italic">ε</tspan>)</text>
</g>
<g>
<rect x="385.80" y="293.20" width="296.80" height="219.30" fill="none" stroke="#9a9a9a" stroke-width="1.1"/>
<line x1="385.80" x2="388.80" y1="475.90" y2="475.90" stroke="#9a9a9a" stroke-width="0.9"/>
<line x1="385.80" x2="388.80" y1="439.30" y2="439.30" stroke="#9a9a9a" stroke-width="0.9"/>
<line x1="385.80" x2="388.80" y1="402.70" y2="402.70" stroke="#9a9a9a" stroke-width="0.9"/>
<line x1="385.80" x2="388.80" y1="366.10" y2="366.10" stroke="#9a9a9a" stroke-width="0.9"/>
<line x1="385.80" x2="388.80" y1="329.50" y2="329.50" stroke="#9a9a9a" stroke-width="0.9"/>
<line x1="407.00" x2="407.00" y1="512.50" y2="509.50" stroke="#9a9a9a" stroke-width="0.9"/>
<line x1="449.40" x2="449.40" y1="512.50" y2="509.50" stroke="#9a9a9a" stroke-width="0.9"/>
<line x1="491.80" x2="491.80" y1="512.50" y2="509.50" stroke="#9a9a9a" stroke-width="0.9"/>
<line x1="534.20" x2="534.20" y1="512.50" y2="509.50" stroke="#9a9a9a" stroke-width="0.9"/>
<line x1="576.60" x2="576.60" y1="512.50" y2="509.50" stroke="#9a9a9a" stroke-width="0.9"/>
<line x1="619.00" x2="619.00" y1="512.50" y2="509.50" stroke="#9a9a9a" stroke-width="0.9"/>
<line x1="661.40" x2="661.40" y1="512.50" y2="509.50" stroke="#9a9a9a" stroke-width="0.9"/>
<text x="378.80" y="516.60" text-anchor="end" class="tk">0</text>
<text x="378.80" y="480.00" text-anchor="end" class="tk">0.2</text>
<text x="378.80" y="443.40" text-anchor="end" class="tk">0.4</text>
<text x="378.80" y="406.80" text-anchor="end" class="tk">0.6</text>
<text x="378.80" y="370.20" text-anchor="end" class="tk">0.8</text>
<text x="378.80" y="333.60" text-anchor="end" class="tk">1.0</text>
<text x="378.80" y="297.00" text-anchor="end" class="tk">1.2</text>
<text x="407.00" y="524.90" text-anchor="middle" class="tk">−0.6</text>
<text x="449.40" y="524.90" text-anchor="middle" class="tk">−0.4</text>
<text x="491.80" y="524.90" text-anchor="middle" class="tk">−0.2</text>
<text x="534.20" y="524.90" text-anchor="middle" class="tk">0</text>
<text x="576.60" y="524.90" text-anchor="middle" class="tk">0.2</text>
<text x="619.00" y="524.90" text-anchor="middle" class="tk">0.4</text>
<text x="661.40" y="524.90" text-anchor="middle" class="tk">0.6</text>
<clipPath id="clipd"><rect x="382.80" y="293.20" width="302.80" height="222.30"/></clipPath>
<g clip-path="url(#clipd)">
<polyline points="385.80,487.50 386.33,487.27 386.86,487.03 387.39,486.80 387.92,486.55 388.45,486.30 388.98,486.05 389.51,485.80 390.04,485.54 390.57,485.27 391.10,485.01 391.63,484.73 392.16,484.46 392.69,484.17 393.22,483.89 393.75,483.60 394.28,483.30 394.81,483.01 395.34,482.70 395.87,482.40 396.40,482.08 396.93,481.77 397.46,481.45 397.99,481.13 398.52,480.80 399.05,480.47 399.58,480.13 400.11,479.79 400.64,479.45 401.17,479.10 401.70,478.74 402.23,478.39 402.76,478.03 403.29,477.66 403.82,477.30 404.35,476.93 404.88,476.55 405.41,476.17 405.94,475.79 406.47,475.40 407.00,475.02 407.53,474.62 408.06,474.23 408.59,473.83 409.12,473.43 409.65,473.02 410.18,472.62 410.71,472.20 411.24,471.79 411.77,471.38 412.30,470.96 412.83,470.54 413.36,470.11 413.89,469.69 414.42,469.26 414.95,468.83 415.48,468.40 416.01,467.97 416.54,467.54 417.07,467.10 417.60,466.66 418.13,466.22 418.66,465.79 419.19,465.35 419.72,464.90 420.25,464.46 420.78,464.02 421.31,463.58 421.84,463.14 422.37,462.69 422.90,462.25 423.43,461.81 423.96,461.37 424.49,460.92 425.02,460.48 425.55,460.04 426.08,459.61 426.61,459.17 427.14,458.73 427.67,458.30 428.20,457.87 428.73,457.43 429.26,457.01 429.79,456.58 430.32,456.15 430.85,455.73 431.38,455.31 431.91,454.90 432.44,454.49 432.97,454.08 433.50,453.67 434.03,453.27 434.56,452.87 435.09,452.47 435.62,452.08 436.15,451.70 436.68,451.32 437.21,450.94 437.74,450.57 438.27,450.20 438.80,449.84 439.33,449.48 439.86,449.13 440.39,448.78 440.92,448.44 441.45,448.11 441.98,447.78 442.51,447.46 443.04,447.14 443.57,446.83 444.10,446.53 444.63,446.24 445.16,445.95 445.69,445.67 446.22,445.39 446.75,445.12 447.28,444.86 447.81,444.61 448.34,444.37 448.87,444.13 449.40,443.90 449.93,443.68 450.46,443.47 450.99,443.26 451.52,443.06 452.05,442.87 452.58,442.69 453.11,442.52 453.64,442.35 454.17,442.20 454.70,442.05 455.23,441.91 455.76,441.78 456.29,441.65 456.82,441.54 457.35,441.43 457.88,441.34 458.41,441.24 458.94,441.16 459.47,441.09 460.00,441.02 460.53,440.96 461.06,440.91 461.59,440.87 462.12,440.84 462.65,440.81 463.18,440.79 463.71,440.77 464.24,440.76 464.77,440.76 465.30,440.77 465.83,440.78 466.36,440.80 466.89,440.82 467.42,440.85 467.95,440.88 468.48,440.91 469.01,440.95 469.54,441.00 470.07,441.04 470.60,441.09 471.13,441.15 471.66,441.20 472.19,441.25 472.72,441.31 473.25,441.36 473.78,441.41 474.31,441.47 474.84,441.52 475.37,441.57 475.90,441.61 476.43,441.65 476.96,441.68 477.49,441.71 478.02,441.74 478.55,441.75 479.08,441.76 479.61,441.75 480.14,441.74 480.67,441.72 481.20,441.68 481.73,441.63 482.26,441.56 482.79,441.48 483.32,441.39 483.85,441.27 484.38,441.14 484.91,440.99 485.44,440.81 485.97,440.62 486.50,440.40 487.03,440.16 487.56,439.89 488.09,439.59 488.62,439.27 489.15,438.91 489.68,438.53 490.21,438.11 490.74,437.67 491.27,437.18 491.80,436.67 492.33,436.11 492.86,435.53 493.39,434.90 493.92,434.23 494.45,433.53 494.98,432.78 495.51,431.99 496.04,431.16 496.57,430.29 497.10,429.37 497.63,428.41 498.16,427.40 498.69,426.35 499.22,425.26 499.75,424.12 500.28,422.93 500.81,421.70 501.34,420.42 501.87,419.09 502.40,417.73 502.93,416.31 503.46,414.86 503.99,413.35 504.52,411.81 505.05,410.23 505.58,408.60 506.11,406.93 506.64,405.23 507.17,403.49 507.70,401.71 508.23,399.90 508.76,398.05 509.29,396.18 509.82,394.28 510.35,392.35 510.88,390.40 511.41,388.43 511.94,386.43 512.47,384.43 513.00,382.40 513.53,380.37 514.06,378.33 514.59,376.29 515.12,374.24 515.65,372.19 516.18,370.15 516.71,368.12 517.24,366.10 517.77,364.10 518.30,362.11 518.83,360.14 519.36,358.20 519.89,356.29 520.42,354.41 520.95,352.57 521.48,350.76 522.01,349.00 522.54,347.29 523.07,345.62 523.60,344.01 524.13,342.45 524.66,340.95 525.19,339.51 525.72,338.14 526.25,336.84 526.78,335.61 527.31,334.45 527.84,333.36 528.37,332.36 528.90,331.43 529.43,330.59 529.96,329.83 530.49,329.15 531.02,328.57 531.55,328.07 532.08,327.66 532.61,327.34 533.14,327.11 533.67,326.97 534.20,326.92 534.73,326.97 535.26,327.11 535.79,327.34 536.32,327.66 536.85,328.07 537.38,328.57 537.91,329.15 538.44,329.83 538.97,330.59 539.50,331.43 540.03,332.36 540.56,333.36 541.09,334.45 541.62,335.61 542.15,336.84 542.68,338.14 543.21,339.51 543.74,340.95 544.27,342.45 544.80,344.01 545.33,345.62 545.86,347.29 546.39,349.00 546.92,350.76 547.45,352.57 547.98,354.41 548.51,356.29 549.04,358.20 549.57,360.14 550.10,362.11 550.63,364.10 551.16,366.10 551.69,368.12 552.22,370.15 552.75,372.19 553.28,374.24 553.81,376.29 554.34,378.33 554.87,380.37 555.40,382.40 555.93,384.43 556.46,386.43 556.99,388.43 557.52,390.40 558.05,392.35 558.58,394.28 559.11,396.18 559.64,398.05 560.17,399.90 560.70,401.71 561.23,403.49 561.76,405.23 562.29,406.93 562.82,408.60 563.35,410.23 563.88,411.81 564.41,413.35 564.94,414.86 565.47,416.31 566.00,417.73 566.53,419.09 567.06,420.42 567.59,421.70 568.12,422.93 568.65,424.12 569.18,425.26 569.71,426.35 570.24,427.40 570.77,428.41 571.30,429.37 571.83,430.29 572.36,431.16 572.89,431.99 573.42,432.78 573.95,433.53 574.48,434.23 575.01,434.90 575.54,435.53 576.07,436.11 576.60,436.67 577.13,437.18 577.66,437.67 578.19,438.11 578.72,438.53 579.25,438.91 579.78,439.27 580.31,439.59 580.84,439.89 581.37,440.16 581.90,440.40 582.43,440.62 582.96,440.81 583.49,440.99 584.02,441.14 584.55,441.27 585.08,441.39 585.61,441.48 586.14,441.56 586.67,441.63 587.20,441.68 587.73,441.72 588.26,441.74 588.79,441.75 589.32,441.76 589.85,441.75 590.38,441.74 590.91,441.71 591.44,441.68 591.97,441.65 592.50,441.61 593.03,441.57 593.56,441.52 594.09,441.47 594.62,441.41 595.15,441.36 595.68,441.31 596.21,441.25 596.74,441.20 597.27,441.15 597.80,441.09 598.33,441.04 598.86,441.00 599.39,440.95 599.92,440.91 600.45,440.88 600.98,440.85 601.51,440.82 602.04,440.80 602.57,440.78 603.10,440.77 603.63,440.76 604.16,440.76 604.69,440.77 605.22,440.79 605.75,440.81 606.28,440.84 606.81,440.87 607.34,440.91 607.87,440.96 608.40,441.02 608.93,441.09 609.46,441.16 609.99,441.24 610.52,441.34 611.05,441.43 611.58,441.54 612.11,441.65 612.64,441.78 613.17,441.91 613.70,442.05 614.23,442.20 614.76,442.35 615.29,442.52 615.82,442.69 616.35,442.87 616.88,443.06 617.41,443.26 617.94,443.47 618.47,443.68 619.00,443.90 619.53,444.13 620.06,444.37 620.59,444.61 621.12,444.86 621.65,445.12 622.18,445.39 622.71,445.67 623.24,445.95 623.77,446.24 624.30,446.53 624.83,446.83 625.36,447.14 625.89,447.46 626.42,447.78 626.95,448.11 627.48,448.44 628.01,448.78 628.54,449.13 629.07,449.48 629.60,449.84 630.13,450.20 630.66,450.57 631.19,450.94 631.72,451.32 632.25,451.70 632.78,452.08 633.31,452.47 633.84,452.87 634.37,453.27 634.90,453.67 635.43,454.08 635.96,454.49 636.49,454.90 637.02,455.31 637.55,455.73 638.08,456.15 638.61,456.58 639.14,457.01 639.67,457.43 640.20,457.87 640.73,458.30 641.26,458.73 641.79,459.17 642.32,459.61 642.85,460.04 643.38,460.48 643.91,460.92 644.44,461.37 644.97,461.81 645.50,462.25 646.03,462.69 646.56,463.14 647.09,463.58 647.62,464.02 648.15,464.46 648.68,464.90 649.21,465.35 649.74,465.79 650.27,466.22 650.80,466.66 651.33,467.10 651.86,467.54 652.39,467.97 652.92,468.40 653.45,468.83 653.98,469.26 654.51,469.69 655.04,470.11 655.57,470.54 656.10,470.96 656.63,471.38 657.16,471.79 657.69,472.20 658.22,472.62 658.75,473.02 659.28,473.43 659.81,473.83 660.34,474.23 660.87,474.62 661.40,475.02 661.93,475.40 662.46,475.79 662.99,476.17 663.52,476.55 664.05,476.93 664.58,477.30 665.11,477.66 665.64,478.03 666.17,478.39 666.70,478.74 667.23,479.10 667.76,479.45 668.29,479.79 668.82,480.13 669.35,480.47 669.88,480.80 670.41,481.13 670.94,481.45 671.47,481.77 672.00,482.08 672.53,482.40 673.06,482.70 673.59,483.01 674.12,483.30 674.65,483.60 675.18,483.89 675.71,484.17 676.24,484.46 676.77,484.73 677.30,485.01 677.83,485.27 678.36,485.54 678.89,485.80 679.42,486.05 679.95,486.30 680.48,486.55 681.01,486.80 681.54,487.03 682.07,487.27 682.60,487.50" fill="none" stroke="#0b74c2" stroke-width="1.2"/>
<circle cx="385.80" cy="488.34" r="1.95" fill="none" stroke="#0b74c2" stroke-width="1.0"/>
<circle cx="407.00" cy="473.52" r="1.95" fill="none" stroke="#0b74c2" stroke-width="1.0"/>
<circle cx="417.60" cy="466.20" r="1.95" fill="none" stroke="#0b74c2" stroke-width="1.0"/>
<circle cx="428.20" cy="457.23" r="1.95" fill="none" stroke="#0b74c2" stroke-width="1.0"/>
<circle cx="438.80" cy="451.93" r="1.95" fill="none" stroke="#0b74c2" stroke-width="1.0"/>
<circle cx="449.40" cy="446.07" r="1.95" fill="none" stroke="#0b74c2" stroke-width="1.0"/>
<circle cx="460.00" cy="439.85" r="1.95" fill="none" stroke="#0b74c2" stroke-width="1.0"/>
<circle cx="470.60" cy="437.29" r="1.95" fill="none" stroke="#0b74c2" stroke-width="1.0"/>
<circle cx="481.20" cy="442.41" r="1.95" fill="none" stroke="#0b74c2" stroke-width="1.0"/>
<circle cx="491.80" cy="439.30" r="1.95" fill="none" stroke="#0b74c2" stroke-width="1.0"/>
<circle cx="502.40" cy="418.44" r="1.95" fill="none" stroke="#0b74c2" stroke-width="1.0"/>
<circle cx="513.00" cy="379.83" r="1.95" fill="none" stroke="#0b74c2" stroke-width="1.0"/>
<circle cx="523.60" cy="343.77" r="1.95" fill="none" stroke="#0b74c2" stroke-width="1.0"/>
<circle cx="534.20" cy="329.32" r="1.95" fill="none" stroke="#0b74c2" stroke-width="1.0"/>
<circle cx="544.80" cy="343.77" r="1.95" fill="none" stroke="#0b74c2" stroke-width="1.0"/>
<circle cx="555.40" cy="379.83" r="1.95" fill="none" stroke="#0b74c2" stroke-width="1.0"/>
<circle cx="566.00" cy="418.44" r="1.95" fill="none" stroke="#0b74c2" stroke-width="1.0"/>
<circle cx="576.60" cy="439.30" r="1.95" fill="none" stroke="#0b74c2" stroke-width="1.0"/>
<circle cx="587.20" cy="442.41" r="1.95" fill="none" stroke="#0b74c2" stroke-width="1.0"/>
<circle cx="597.80" cy="437.29" r="1.95" fill="none" stroke="#0b74c2" stroke-width="1.0"/>
<circle cx="608.40" cy="439.85" r="1.95" fill="none" stroke="#0b74c2" stroke-width="1.0"/>
<circle cx="619.00" cy="446.07" r="1.95" fill="none" stroke="#0b74c2" stroke-width="1.0"/>
<circle cx="629.60" cy="451.93" r="1.95" fill="none" stroke="#0b74c2" stroke-width="1.0"/>
<circle cx="640.20" cy="457.23" r="1.95" fill="none" stroke="#0b74c2" stroke-width="1.0"/>
<circle cx="650.80" cy="466.20" r="1.95" fill="none" stroke="#0b74c2" stroke-width="1.0"/>
<circle cx="661.40" cy="473.52" r="1.95" fill="none" stroke="#0b74c2" stroke-width="1.0"/>
<circle cx="682.60" cy="488.34" r="1.95" fill="none" stroke="#0b74c2" stroke-width="1.0"/>
<polyline points="385.80,512.54 386.33,512.54 386.86,512.54 387.39,512.54 387.92,512.54 388.45,512.54 388.98,512.54 389.51,512.54 390.04,512.54 390.57,512.54 391.10,512.54 391.63,512.54 392.16,512.54 392.69,512.54 393.22,512.54 393.75,512.54 394.28,512.54 394.81,512.54 395.34,512.54 395.87,512.54 396.40,512.54 396.93,512.54 397.46,512.54 397.99,512.54 398.52,512.54 399.05,512.54 399.58,512.54 400.11,512.54 400.64,512.54 401.17,512.54 401.70,512.54 402.23,512.54 402.76,512.54 403.29,512.54 403.82,512.54 404.35,512.54 404.88,512.54 405.41,512.54 405.94,512.54 406.47,512.54 407.00,512.54 407.53,512.54 408.06,512.54 408.59,512.54 409.12,512.53 409.65,512.53 410.18,512.53 410.71,512.53 411.24,512.53 411.77,512.53 412.30,512.53 412.83,512.53 413.36,512.53 413.89,512.52 414.42,512.52 414.95,512.52 415.48,512.52 416.01,512.52 416.54,512.52 417.07,512.51 417.60,512.51 418.13,512.51 418.66,512.51 419.19,512.50 419.72,512.50 420.25,512.50 420.78,512.49 421.31,512.49 421.84,512.48 422.37,512.48 422.90,512.47 423.43,512.47 423.96,512.46 424.49,512.46 425.02,512.45 425.55,512.44 426.08,512.43 426.61,512.43 427.14,512.42 427.67,512.41 428.20,512.40 428.73,512.39 429.26,512.38 429.79,512.36 430.32,512.35 430.85,512.34 431.38,512.32 431.91,512.31 432.44,512.29 432.97,512.27 433.50,512.25 434.03,512.23 434.56,512.21 435.09,512.19 435.62,512.16 436.15,512.13 436.68,512.11 437.21,512.08 437.74,512.05 438.27,512.01 438.80,511.98 439.33,511.94 439.86,511.90 440.39,511.86 440.92,511.81 441.45,511.77 441.98,511.72 442.51,511.66 443.04,511.61 443.57,511.55 444.10,511.49 444.63,511.42 445.16,511.35 445.69,511.28 446.22,511.20 446.75,511.12 447.28,511.03 447.81,510.94 448.34,510.84 448.87,510.74 449.40,510.64 449.93,510.53 450.46,510.41 450.99,510.29 451.52,510.16 452.05,510.02 452.58,509.88 453.11,509.73 453.64,509.57 454.17,509.40 454.70,509.23 455.23,509.05 455.76,508.86 456.29,508.66 456.82,508.45 457.35,508.23 457.88,508.00 458.41,507.77 458.94,507.52 459.47,507.26 460.00,506.98 460.53,506.70 461.06,506.40 461.59,506.10 462.12,505.77 462.65,505.44 463.18,505.09 463.71,504.73 464.24,504.35 464.77,503.95 465.30,503.54 465.83,503.12 466.36,502.68 466.89,502.22 467.42,501.74 467.95,501.24 468.48,500.73 469.01,500.20 469.54,499.65 470.07,499.08 470.60,498.48 471.13,497.87 471.66,497.24 472.19,496.58 472.72,495.90 473.25,495.20 473.78,494.48 474.31,493.73 474.84,492.96 475.37,492.17 475.90,491.35 476.43,490.51 476.96,489.64 477.49,488.74 478.02,487.82 478.55,486.87 479.08,485.89 479.61,484.89 480.14,483.86 480.67,482.80 481.20,481.72 481.73,480.60 482.26,479.46 482.79,478.29 483.32,477.09 483.85,475.86 484.38,474.60 484.91,473.31 485.44,471.99 485.97,470.65 486.50,469.27 487.03,467.87 487.56,466.44 488.09,464.97 488.62,463.48 489.15,461.96 489.68,460.41 490.21,458.84 490.74,457.23 491.27,455.60 491.80,453.94 492.33,452.25 492.86,450.54 493.39,448.80 493.92,447.04 494.45,445.25 494.98,443.44 495.51,441.60 496.04,439.74 496.57,437.86 497.10,435.95 497.63,434.03 498.16,432.09 498.69,430.13 499.22,428.15 499.75,426.15 500.28,424.14 500.81,422.11 501.34,420.07 501.87,418.02 502.40,415.96 502.93,413.89 503.46,411.80 503.99,409.72 504.52,407.62 505.05,405.52 505.58,403.42 506.11,401.32 506.64,399.21 507.17,397.11 507.70,395.01 508.23,392.92 508.76,390.83 509.29,388.75 509.82,386.68 510.35,384.62 510.88,382.57 511.41,380.53 511.94,378.52 512.47,376.52 513.00,374.54 513.53,372.58 514.06,370.64 514.59,368.73 515.12,366.84 515.65,364.99 516.18,363.16 516.71,361.36 517.24,359.60 517.77,357.87 518.30,356.18 518.83,354.52 519.36,352.91 519.89,351.33 520.42,349.80 520.95,348.31 521.48,346.87 522.01,345.47 522.54,344.13 523.07,342.83 523.60,341.58 524.13,340.39 524.66,339.25 525.19,338.16 525.72,337.13 526.25,336.16 526.78,335.25 527.31,334.39 527.84,333.59 528.37,332.86 528.90,332.18 529.43,331.57 529.96,331.02 530.49,330.53 531.02,330.11 531.55,329.75 532.08,329.46 532.61,329.23 533.14,329.07 533.67,328.97 534.20,328.94 534.73,328.97 535.26,329.07 535.79,329.23 536.32,329.46 536.85,329.75 537.38,330.11 537.91,330.53 538.44,331.02 538.97,331.57 539.50,332.18 540.03,332.86 540.56,333.59 541.09,334.39 541.62,335.25 542.15,336.16 542.68,337.13 543.21,338.16 543.74,339.25 544.27,340.39 544.80,341.58 545.33,342.83 545.86,344.13 546.39,345.47 546.92,346.87 547.45,348.31 547.98,349.80 548.51,351.33 549.04,352.91 549.57,354.52 550.10,356.18 550.63,357.87 551.16,359.60 551.69,361.36 552.22,363.16 552.75,364.99 553.28,366.84 553.81,368.73 554.34,370.64 554.87,372.58 555.40,374.54 555.93,376.52 556.46,378.52 556.99,380.53 557.52,382.57 558.05,384.62 558.58,386.68 559.11,388.75 559.64,390.83 560.17,392.92 560.70,395.01 561.23,397.11 561.76,399.21 562.29,401.32 562.82,403.42 563.35,405.52 563.88,407.62 564.41,409.72 564.94,411.80 565.47,413.89 566.00,415.96 566.53,418.02 567.06,420.07 567.59,422.11 568.12,424.14 568.65,426.15 569.18,428.15 569.71,430.13 570.24,432.09 570.77,434.03 571.30,435.95 571.83,437.86 572.36,439.74 572.89,441.60 573.42,443.44 573.95,445.25 574.48,447.04 575.01,448.80 575.54,450.54 576.07,452.25 576.60,453.94 577.13,455.60 577.66,457.23 578.19,458.84 578.72,460.41 579.25,461.96 579.78,463.48 580.31,464.97 580.84,466.44 581.37,467.87 581.90,469.27 582.43,470.65 582.96,471.99 583.49,473.31 584.02,474.60 584.55,475.86 585.08,477.09 585.61,478.29 586.14,479.46 586.67,480.60 587.20,481.72 587.73,482.80 588.26,483.86 588.79,484.89 589.32,485.89 589.85,486.87 590.38,487.82 590.91,488.74 591.44,489.64 591.97,490.51 592.50,491.35 593.03,492.17 593.56,492.96 594.09,493.73 594.62,494.48 595.15,495.20 595.68,495.90 596.21,496.58 596.74,497.24 597.27,497.87 597.80,498.48 598.33,499.08 598.86,499.65 599.39,500.20 599.92,500.73 600.45,501.24 600.98,501.74 601.51,502.22 602.04,502.68 602.57,503.12 603.10,503.54 603.63,503.95 604.16,504.35 604.69,504.73 605.22,505.09 605.75,505.44 606.28,505.77 606.81,506.10 607.34,506.40 607.87,506.70 608.40,506.98 608.93,507.26 609.46,507.52 609.99,507.77 610.52,508.00 611.05,508.23 611.58,508.45 612.11,508.66 612.64,508.86 613.17,509.05 613.70,509.23 614.23,509.40 614.76,509.57 615.29,509.73 615.82,509.88 616.35,510.02 616.88,510.16 617.41,510.29 617.94,510.41 618.47,510.53 619.00,510.64 619.53,510.74 620.06,510.84 620.59,510.94 621.12,511.03 621.65,511.12 622.18,511.20 622.71,511.28 623.24,511.35 623.77,511.42 624.30,511.49 624.83,511.55 625.36,511.61 625.89,511.66 626.42,511.72 626.95,511.77 627.48,511.81 628.01,511.86 628.54,511.90 629.07,511.94 629.60,511.98 630.13,512.01 630.66,512.05 631.19,512.08 631.72,512.11 632.25,512.13 632.78,512.16 633.31,512.19 633.84,512.21 634.37,512.23 634.90,512.25 635.43,512.27 635.96,512.29 636.49,512.31 637.02,512.32 637.55,512.34 638.08,512.35 638.61,512.36 639.14,512.38 639.67,512.39 640.20,512.40 640.73,512.41 641.26,512.42 641.79,512.43 642.32,512.43 642.85,512.44 643.38,512.45 643.91,512.46 644.44,512.46 644.97,512.47 645.50,512.47 646.03,512.48 646.56,512.48 647.09,512.49 647.62,512.49 648.15,512.50 648.68,512.50 649.21,512.50 649.74,512.51 650.27,512.51 650.80,512.51 651.33,512.51 651.86,512.52 652.39,512.52 652.92,512.52 653.45,512.52 653.98,512.52 654.51,512.52 655.04,512.53 655.57,512.53 656.10,512.53 656.63,512.53 657.16,512.53 657.69,512.53 658.22,512.53 658.75,512.53 659.28,512.53 659.81,512.54 660.34,512.54 660.87,512.54 661.40,512.54 661.93,512.54 662.46,512.54 662.99,512.54 663.52,512.54 664.05,512.54 664.58,512.54 665.11,512.54 665.64,512.54 666.17,512.54 666.70,512.54 667.23,512.54 667.76,512.54 668.29,512.54 668.82,512.54 669.35,512.54 669.88,512.54 670.41,512.54 670.94,512.54 671.47,512.54 672.00,512.54 672.53,512.54 673.06,512.54 673.59,512.54 674.12,512.54 674.65,512.54 675.18,512.54 675.71,512.54 676.24,512.54 676.77,512.54 677.30,512.54 677.83,512.54 678.36,512.54 678.89,512.54 679.42,512.54 679.95,512.54 680.48,512.54 681.01,512.54 681.54,512.54 682.07,512.54 682.60,512.54" fill="none" stroke="#D95319" stroke-width="1.2"/>
<circle cx="385.80" cy="512.32" r="1.95" fill="none" stroke="#D95319" stroke-width="1.0"/>
<circle cx="407.00" cy="511.95" r="1.95" fill="none" stroke="#D95319" stroke-width="1.0"/>
<circle cx="417.60" cy="511.95" r="1.95" fill="none" stroke="#D95319" stroke-width="1.0"/>
<circle cx="428.20" cy="511.95" r="1.95" fill="none" stroke="#D95319" stroke-width="1.0"/>
<circle cx="438.80" cy="511.95" r="1.95" fill="none" stroke="#D95319" stroke-width="1.0"/>
<circle cx="449.40" cy="510.85" r="1.95" fill="none" stroke="#D95319" stroke-width="1.0"/>
<circle cx="460.00" cy="507.56" r="1.95" fill="none" stroke="#D95319" stroke-width="1.0"/>
<circle cx="470.60" cy="499.69" r="1.95" fill="none" stroke="#D95319" stroke-width="1.0"/>
<circle cx="481.20" cy="482.67" r="1.95" fill="none" stroke="#D95319" stroke-width="1.0"/>
<circle cx="491.80" cy="453.76" r="1.95" fill="none" stroke="#D95319" stroke-width="1.0"/>
<circle cx="502.40" cy="414.78" r="1.95" fill="none" stroke="#D95319" stroke-width="1.0"/>
<circle cx="513.00" cy="373.79" r="1.95" fill="none" stroke="#D95319" stroke-width="1.0"/>
<circle cx="523.60" cy="342.13" r="1.95" fill="none" stroke="#D95319" stroke-width="1.0"/>
<circle cx="534.20" cy="329.87" r="1.95" fill="none" stroke="#D95319" stroke-width="1.0"/>
<circle cx="544.80" cy="342.13" r="1.95" fill="none" stroke="#D95319" stroke-width="1.0"/>
<circle cx="555.40" cy="373.79" r="1.95" fill="none" stroke="#D95319" stroke-width="1.0"/>
<circle cx="566.00" cy="414.78" r="1.95" fill="none" stroke="#D95319" stroke-width="1.0"/>
<circle cx="576.60" cy="453.76" r="1.95" fill="none" stroke="#D95319" stroke-width="1.0"/>
<circle cx="587.20" cy="482.67" r="1.95" fill="none" stroke="#D95319" stroke-width="1.0"/>
<circle cx="597.80" cy="499.69" r="1.95" fill="none" stroke="#D95319" stroke-width="1.0"/>
<circle cx="608.40" cy="507.56" r="1.95" fill="none" stroke="#D95319" stroke-width="1.0"/>
<circle cx="619.00" cy="510.85" r="1.95" fill="none" stroke="#D95319" stroke-width="1.0"/>
<circle cx="629.60" cy="511.95" r="1.95" fill="none" stroke="#D95319" stroke-width="1.0"/>
<circle cx="640.20" cy="511.95" r="1.95" fill="none" stroke="#D95319" stroke-width="1.0"/>
<circle cx="650.80" cy="511.95" r="1.95" fill="none" stroke="#D95319" stroke-width="1.0"/>
<circle cx="661.40" cy="511.95" r="1.95" fill="none" stroke="#D95319" stroke-width="1.0"/>
<circle cx="682.60" cy="512.32" r="1.95" fill="none" stroke="#D95319" stroke-width="1.0"/>
</g>
<text x="396.20" y="326.30" class="ann" textLength="99.1" lengthAdjust="spacingAndGlyphs">Ab initio <tspan font-style="italic">λ</tspan> = 900 nm</text>
<circle cx="581.20" cy="309.80" r="1.5" fill="none" stroke="#0b74c2" stroke-width="1.1"/>
<text x="591.00" y="312.90" class="leg" textLength="55.9" lengthAdjust="spacingAndGlyphs">H<tspan font-size="6.2" dy="3">2</tspan><tspan dy="-3">O (liq.) H19</tspan></text>
<line x1="576.60" x2="585.80" y1="323.90" y2="323.90" stroke="#0b74c2" stroke-width="0.9" stroke-opacity="0.75"/>
<text x="591.00" y="327.00" class="leg" textLength="76.0" lengthAdjust="spacingAndGlyphs">Triple-Gaussian fit</text>
<circle cx="581.20" cy="339.50" r="1.5" fill="none" stroke="#D95319" stroke-width="1.1"/>
<text x="591.00" y="342.60" class="leg" textLength="57.9" lengthAdjust="spacingAndGlyphs">H<tspan font-size="6.2" dy="3">2</tspan><tspan dy="-3">O (gas) H19</tspan></text>
<line x1="576.60" x2="585.80" y1="353.30" y2="353.30" stroke="#D95319" stroke-width="0.9" stroke-opacity="0.75"/>
<text x="591.00" y="356.40" class="leg" textLength="78.9" lengthAdjust="spacingAndGlyphs">Single-Gaussian fit</text>
<text x="364.60" y="284.90" class="pl">d</text>
<text x="507.10" y="542.40" class="axl" textLength="61" lengthAdjust="spacingAndGlyphs">Ellipticity (<tspan font-style="italic">ε</tspan>)</text>
</g>
<defs>
<radialGradient id="gOr" cx="0.38" cy="0.35" r="0.7">
 <stop offset="0" stop-color="#f8a23c"/><stop offset="0.6" stop-color="#ee8616"/><stop offset="0.88" stop-color="#dc7612"/><stop offset="1" stop-color="#b85f10"/></radialGradient>
<radialGradient id="gOrL" cx="0.38" cy="0.35" r="0.7">
 <stop offset="0" stop-color="#fbbd7a"/><stop offset="0.6" stop-color="#f3a04c"/><stop offset="1" stop-color="#d07a2a"/></radialGradient>
<radialGradient id="gBl" cx="0.38" cy="0.35" r="0.7">
 <stop offset="0" stop-color="#3c3cfa"/><stop offset="0.55" stop-color="#1c1ce0"/><stop offset="1" stop-color="#0c0ca4"/></radialGradient>
<radialGradient id="gBlL" cx="0.38" cy="0.35" r="0.7">
 <stop offset="0" stop-color="#8a8aff"/><stop offset="0.6" stop-color="#5555f0"/><stop offset="1" stop-color="#3030c8"/></radialGradient>
<radialGradient id="gG1" cx="0.4" cy="0.38" r="0.65">
 <stop offset="0" stop-color="#f39a43"/><stop offset="0.7" stop-color="#e8892d"/><stop offset="1" stop-color="#c9701f"/></radialGradient>
<radialGradient id="gG2" cx="0.45" cy="0.4" r="0.65">
 <stop offset="0" stop-color="#f49b45"/><stop offset="0.7" stop-color="#ea8b2e"/><stop offset="1" stop-color="#c66d1e"/></radialGradient>
<radialGradient id="gGL" cx="0.45" cy="0.4" r="0.65">
 <stop offset="0" stop-color="#f7b775"/><stop offset="0.7" stop-color="#f0a55c"/><stop offset="1" stop-color="#d8893e"/></radialGradient>
<marker id="ah" viewBox="0 0 10 10" refX="8" refY="5" markerWidth="4.2" markerHeight="4.2" orient="auto"><path d="M0,0 L10,5 L0,10 z" fill="#000"/></marker>
</defs>
<line x1="116.5" y1="669.8" x2="116.6" y2="577.0" stroke="#9a9a9a" stroke-width="0.9"/>
<line x1="116.5" y1="669.8" x2="33.3" y2="716.4" stroke="#4a4a4a" stroke-width="0.7"/>
<line x1="116.5" y1="669.8" x2="200.6" y2="716.5" stroke="#4a4a4a" stroke-width="0.7"/>
<clipPath id="hx116"><polygon points="5.3,607.7 116.6,577.0 228.5,607.7 200.6,716.5 116.7,793.5 33.3,716.4"/></clipPath>
<g clip-path="url(#hx116)">
<circle cx="139.6" cy="730.9" r="0.55" fill="#d6d6d6"/>
<circle cx="195.2" cy="611.5" r="0.55" fill="#d6d6d6"/>
<circle cx="108.8" cy="636.8" r="0.55" fill="#d6d6d6"/>
<circle cx="123.8" cy="699.0" r="0.55" fill="#d6d6d6"/>
<circle cx="17.6" cy="631.2" r="0.55" fill="#d6d6d6"/>
<circle cx="168.1" cy="620.3" r="0.55" fill="#d6d6d6"/>
<circle cx="174.4" cy="616.4" r="0.55" fill="#d6d6d6"/>
<circle cx="138.5" cy="614.1" r="0.55" fill="#d6d6d6"/>
<circle cx="56.9" cy="630.9" r="0.55" fill="#d6d6d6"/>
<circle cx="122.8" cy="718.8" r="0.55" fill="#d6d6d6"/>
<circle cx="193.7" cy="646.8" r="0.55" fill="#d6d6d6"/>
<circle cx="87.2" cy="621.5" r="0.55" fill="#d6d6d6"/>
<circle cx="44.1" cy="602.4" r="0.55" fill="#d6d6d6"/>
<circle cx="75.3" cy="704.6" r="0.55" fill="#d6d6d6"/>
<circle cx="82.6" cy="648.9" r="0.55" fill="#d6d6d6"/>
<circle cx="178.7" cy="681.3" r="0.55" fill="#d6d6d6"/>
<circle cx="78.2" cy="681.4" r="0.55" fill="#d6d6d6"/>
<circle cx="155.9" cy="600.8" r="0.55" fill="#d6d6d6"/>
<circle cx="88.2" cy="699.9" r="0.55" fill="#d6d6d6"/>
<circle cx="54.3" cy="733.6" r="0.55" fill="#d6d6d6"/>
<circle cx="83.9" cy="657.4" r="0.55" fill="#d6d6d6"/>
<circle cx="119.9" cy="737.4" r="0.55" fill="#d6d6d6"/>
<circle cx="33.2" cy="654.7" r="0.55" fill="#d6d6d6"/>
<circle cx="137.2" cy="764.4" r="0.55" fill="#d6d6d6"/>
<circle cx="124.0" cy="649.4" r="0.55" fill="#d6d6d6"/>
<circle cx="78.4" cy="623.7" r="0.55" fill="#d6d6d6"/>
<circle cx="30.6" cy="618.3" r="0.55" fill="#d6d6d6"/>
<circle cx="47.3" cy="599.2" r="0.55" fill="#d6d6d6"/>
<circle cx="96.2" cy="635.1" r="0.55" fill="#d6d6d6"/>
<circle cx="133.8" cy="747.0" r="0.55" fill="#d6d6d6"/>
<circle cx="106.1" cy="670.1" r="0.55" fill="#d6d6d6"/>
<circle cx="182.7" cy="614.8" r="0.55" fill="#d6d6d6"/>
<circle cx="141.1" cy="739.7" r="0.55" fill="#d6d6d6"/>
<circle cx="36.3" cy="672.6" r="0.55" fill="#d6d6d6"/>
<circle cx="74.0" cy="676.1" r="0.55" fill="#d6d6d6"/>
<circle cx="210.2" cy="676.2" r="0.55" fill="#d6d6d6"/>
<circle cx="112.6" cy="728.6" r="0.55" fill="#d6d6d6"/>
<circle cx="110.8" cy="645.3" r="0.55" fill="#d6d6d6"/>
<circle cx="95.8" cy="617.8" r="0.55" fill="#d6d6d6"/>
<circle cx="114.9" cy="654.3" r="0.55" fill="#d6d6d6"/>
<circle cx="32.8" cy="641.7" r="0.55" fill="#d6d6d6"/>
<circle cx="87.3" cy="739.3" r="0.55" fill="#d6d6d6"/>
<circle cx="170.0" cy="722.0" r="0.55" fill="#d6d6d6"/>
<circle cx="147.8" cy="734.3" r="0.55" fill="#d6d6d6"/>
<circle cx="87.7" cy="723.8" r="0.55" fill="#d6d6d6"/>
<circle cx="71.2" cy="682.3" r="0.55" fill="#d6d6d6"/>
<circle cx="168.9" cy="721.3" r="0.55" fill="#d6d6d6"/>
<circle cx="144.9" cy="700.3" r="0.55" fill="#d6d6d6"/>
<circle cx="65.1" cy="717.6" r="0.55" fill="#d6d6d6"/>
<circle cx="107.6" cy="745.2" r="0.55" fill="#d6d6d6"/>
<circle cx="144.5" cy="741.5" r="0.55" fill="#d6d6d6"/>
<circle cx="84.6" cy="712.4" r="0.55" fill="#d6d6d6"/>
<circle cx="162.6" cy="747.4" r="0.55" fill="#d6d6d6"/>
<circle cx="85.0" cy="750.1" r="0.55" fill="#d6d6d6"/>
<circle cx="189.0" cy="720.8" r="0.55" fill="#d6d6d6"/>
<circle cx="118.6" cy="690.6" r="0.55" fill="#d6d6d6"/>
<circle cx="202.5" cy="680.7" r="0.55" fill="#d6d6d6"/>
<circle cx="153.3" cy="726.7" r="0.55" fill="#d6d6d6"/>
<circle cx="161.1" cy="622.6" r="0.55" fill="#d6d6d6"/>
<circle cx="171.1" cy="700.4" r="0.55" fill="#d6d6d6"/>
<circle cx="148.1" cy="670.0" r="0.55" fill="#d6d6d6"/>
<circle cx="139.7" cy="737.2" r="0.55" fill="#d6d6d6"/>
<circle cx="142.4" cy="726.9" r="0.55" fill="#d6d6d6"/>
<circle cx="20.5" cy="620.4" r="0.55" fill="#d6d6d6"/>
<circle cx="103.2" cy="713.5" r="0.55" fill="#d6d6d6"/>
<circle cx="58.8" cy="720.3" r="0.55" fill="#d6d6d6"/>
<circle cx="141.2" cy="598.0" r="0.55" fill="#d6d6d6"/>
<circle cx="109.3" cy="633.0" r="0.55" fill="#d6d6d6"/>
<circle cx="25.8" cy="615.4" r="0.55" fill="#d6d6d6"/>
<circle cx="78.5" cy="624.5" r="0.55" fill="#d6d6d6"/>
<circle cx="53.7" cy="596.8" r="0.55" fill="#d6d6d6"/>
<circle cx="108.1" cy="662.3" r="0.55" fill="#d6d6d6"/>
<circle cx="137.4" cy="702.1" r="0.55" fill="#d6d6d6"/>
<circle cx="70.7" cy="667.9" r="0.55" fill="#d6d6d6"/>
<circle cx="89.8" cy="596.9" r="0.55" fill="#d6d6d6"/>
<circle cx="137.7" cy="608.0" r="0.55" fill="#d6d6d6"/>
<circle cx="124.0" cy="654.5" r="0.55" fill="#d6d6d6"/>
<circle cx="131.2" cy="772.1" r="0.55" fill="#d6d6d6"/>
<circle cx="178.7" cy="669.6" r="0.55" fill="#d6d6d6"/>
<circle cx="177.6" cy="712.0" r="0.55" fill="#d6d6d6"/>
<circle cx="88.9" cy="617.0" r="0.55" fill="#d6d6d6"/>
<circle cx="134.2" cy="697.1" r="0.55" fill="#d6d6d6"/>
<circle cx="136.7" cy="656.7" r="0.55" fill="#d6d6d6"/>
<circle cx="36.6" cy="697.5" r="0.55" fill="#d6d6d6"/>
<circle cx="138.0" cy="616.7" r="0.55" fill="#d6d6d6"/>
<circle cx="140.9" cy="759.3" r="0.55" fill="#d6d6d6"/>
<circle cx="90.2" cy="672.0" r="0.55" fill="#d6d6d6"/>
<circle cx="60.3" cy="645.4" r="0.55" fill="#d6d6d6"/>
<circle cx="209.5" cy="662.2" r="0.55" fill="#d6d6d6"/>
<circle cx="134.2" cy="639.4" r="0.55" fill="#d6d6d6"/>
<circle cx="98.1" cy="650.6" r="0.55" fill="#d6d6d6"/>
<circle cx="72.3" cy="680.6" r="0.55" fill="#d6d6d6"/>
<circle cx="39.4" cy="708.1" r="0.55" fill="#d6d6d6"/>
<circle cx="103.7" cy="645.7" r="0.55" fill="#d6d6d6"/>
<circle cx="171.4" cy="636.7" r="0.55" fill="#d6d6d6"/>
<circle cx="68.5" cy="619.4" r="0.55" fill="#d6d6d6"/>
<circle cx="212.8" cy="645.7" r="0.55" fill="#d6d6d6"/>
<circle cx="136.6" cy="680.2" r="0.55" fill="#d6d6d6"/>
<circle cx="144.0" cy="704.7" r="0.55" fill="#d6d6d6"/>
<circle cx="163.7" cy="612.5" r="0.55" fill="#d6d6d6"/>
<circle cx="167.1" cy="647.1" r="0.55" fill="#d6d6d6"/>
<circle cx="121.7" cy="653.9" r="0.55" fill="#d6d6d6"/>
<circle cx="74.4" cy="690.7" r="0.55" fill="#d6d6d6"/>
<circle cx="107.9" cy="658.6" r="0.55" fill="#d6d6d6"/>
<circle cx="164.0" cy="702.3" r="0.55" fill="#d6d6d6"/>
<circle cx="22.3" cy="638.0" r="0.55" fill="#d6d6d6"/>
<circle cx="106.1" cy="764.1" r="0.55" fill="#d6d6d6"/>
<circle cx="192.6" cy="693.7" r="0.55" fill="#d6d6d6"/>
<circle cx="100.5" cy="699.4" r="0.55" fill="#d6d6d6"/>
<circle cx="156.6" cy="710.1" r="0.55" fill="#d6d6d6"/>
<circle cx="111.4" cy="763.2" r="0.55" fill="#d6d6d6"/>
<circle cx="92.1" cy="664.5" r="0.55" fill="#d6d6d6"/>
<circle cx="185.4" cy="627.3" r="0.55" fill="#d6d6d6"/>
<circle cx="74.3" cy="747.7" r="0.55" fill="#d6d6d6"/>
<circle cx="153.9" cy="672.2" r="0.55" fill="#d6d6d6"/>
<circle cx="72.3" cy="738.3" r="0.55" fill="#d6d6d6"/>
<circle cx="197.1" cy="617.1" r="0.55" fill="#d6d6d6"/>
<circle cx="110.7" cy="694.3" r="0.55" fill="#d6d6d6"/>
<circle cx="114.5" cy="652.8" r="0.55" fill="#d6d6d6"/>
<circle cx="45.7" cy="701.3" r="0.55" fill="#d6d6d6"/>
<circle cx="177.4" cy="603.0" r="0.55" fill="#d6d6d6"/>
<circle cx="173.4" cy="716.1" r="0.55" fill="#d6d6d6"/>
<circle cx="155.2" cy="599.3" r="0.55" fill="#d6d6d6"/>
<circle cx="183.4" cy="631.7" r="0.55" fill="#d6d6d6"/>
<circle cx="157.5" cy="615.6" r="0.55" fill="#d6d6d6"/>
<circle cx="44.9" cy="706.0" r="0.55" fill="#d6d6d6"/>
<circle cx="97.8" cy="620.6" r="0.55" fill="#d6d6d6"/>
<circle cx="139.5" cy="598.3" r="0.55" fill="#d6d6d6"/>
<circle cx="36.6" cy="662.0" r="0.55" fill="#d6d6d6"/>
<circle cx="130.1" cy="731.0" r="0.55" fill="#d6d6d6"/>
<circle cx="190.7" cy="615.5" r="0.55" fill="#d6d6d6"/>
<circle cx="101.3" cy="649.8" r="0.55" fill="#d6d6d6"/>
<circle cx="135.0" cy="683.0" r="0.55" fill="#d6d6d6"/>
<circle cx="202.7" cy="661.1" r="0.55" fill="#d6d6d6"/>
<circle cx="45.2" cy="710.0" r="0.55" fill="#d6d6d6"/>
<circle cx="116.2" cy="763.0" r="0.55" fill="#d6d6d6"/>
<circle cx="126.0" cy="708.0" r="0.55" fill="#d6d6d6"/>
<circle cx="67.6" cy="694.8" r="0.55" fill="#d6d6d6"/>
<circle cx="65.8" cy="732.6" r="0.55" fill="#d6d6d6"/>
<circle cx="118.4" cy="615.4" r="0.55" fill="#d6d6d6"/>
<circle cx="61.9" cy="660.5" r="0.55" fill="#d6d6d6"/>
<circle cx="162.4" cy="624.1" r="0.55" fill="#d6d6d6"/>
<circle cx="157.7" cy="714.5" r="0.55" fill="#d6d6d6"/>
<circle cx="33.2" cy="613.7" r="0.55" fill="#d6d6d6"/>
<circle cx="133.8" cy="635.3" r="0.55" fill="#d6d6d6"/>
<circle cx="190.4" cy="681.3" r="0.55" fill="#d6d6d6"/>
<circle cx="79.7" cy="741.3" r="0.55" fill="#d6d6d6"/>
<circle cx="25.7" cy="618.7" r="0.55" fill="#d6d6d6"/>
<circle cx="59.6" cy="612.1" r="0.55" fill="#d6d6d6"/>
<circle cx="179.1" cy="616.6" r="0.55" fill="#d6d6d6"/>
<circle cx="140.0" cy="657.3" r="0.55" fill="#d6d6d6"/>
<circle cx="62.0" cy="653.3" r="0.55" fill="#d6d6d6"/>
<circle cx="137.8" cy="656.2" r="0.55" fill="#d6d6d6"/>
<circle cx="92.1" cy="615.9" r="0.55" fill="#d6d6d6"/>
<circle cx="181.2" cy="713.1" r="0.55" fill="#d6d6d6"/>
<circle cx="175.9" cy="672.3" r="0.55" fill="#d6d6d6"/>
<circle cx="185.3" cy="688.3" r="0.55" fill="#d6d6d6"/>
<circle cx="133.5" cy="698.9" r="0.55" fill="#d6d6d6"/>
<circle cx="163.0" cy="665.1" r="0.55" fill="#d6d6d6"/>
<circle cx="55.5" cy="597.5" r="0.55" fill="#d6d6d6"/>
<ellipse cx="115.8" cy="629.5" rx="3.3" ry="3.3" transform="rotate(0 115.8 629.5)" fill="url(#gOrL)" stroke="#a9560f" stroke-width="0.35" stroke-opacity="0.55"/>
<ellipse cx="113.2" cy="635.4" rx="4.3" ry="4.0" transform="rotate(0 113.2 635.4)" fill="url(#gOrL)" stroke="#a9560f" stroke-width="0.35" stroke-opacity="0.55"/>
<ellipse cx="106.3" cy="645.8" rx="7.6" ry="4.6" transform="rotate(-10 106.3 645.8)" fill="url(#gOr)" stroke="#a9560f" stroke-width="0.35" stroke-opacity="0.55"/>
<ellipse cx="101.4" cy="648.9" rx="3.3" ry="3.0" transform="rotate(0 101.4 648.9)" fill="url(#gOr)" stroke="#a9560f" stroke-width="0.35" stroke-opacity="0.55"/>
<ellipse cx="108.0" cy="654.2" rx="7.9" ry="4.3" transform="rotate(-8 108.0 654.2)" fill="url(#gOr)" stroke="#a9560f" stroke-width="0.35" stroke-opacity="0.55"/>
<ellipse cx="85.0" cy="670.2" rx="3.6" ry="3.6" transform="rotate(0 85.0 670.2)" fill="url(#gOrL)" stroke="#a9560f" stroke-width="0.35" stroke-opacity="0.55"/>
<ellipse cx="101.0" cy="668.0" rx="12.0" ry="11.0" transform="rotate(0 101.0 668.0)" fill="url(#gOr)" stroke="#a9560f" stroke-width="0.35" stroke-opacity="0.55"/>
<ellipse cx="96.5" cy="671" rx="6.5" ry="7.5" transform="rotate(0 96.5 671)" fill="url(#gOr)" stroke="#a9560f" stroke-width="0.35" stroke-opacity="0.55"/>
<ellipse cx="104" cy="673" rx="7" ry="7" transform="rotate(0 104 673)" fill="url(#gOr)" stroke="#a9560f" stroke-width="0.35" stroke-opacity="0.55"/>
<ellipse cx="112.6" cy="676.8" rx="3.6" ry="3.6" transform="rotate(0 112.6 676.8)" fill="url(#gOr)" stroke="#a9560f" stroke-width="0.35" stroke-opacity="0.55"/>
<ellipse cx="118.5" cy="679.4" rx="4.5" ry="4.8" transform="rotate(0 118.5 679.4)" fill="url(#gOr)" stroke="#a9560f" stroke-width="0.35" stroke-opacity="0.55"/>
<ellipse cx="138.8" cy="640.6" rx="1.6" ry="1.6" transform="rotate(0 138.8 640.6)" fill="url(#gOrL)" stroke="#a9560f" stroke-width="0.35" stroke-opacity="0.55"/>
<ellipse cx="137.4" cy="643.4" rx="1.7" ry="1.7" transform="rotate(0 137.4 643.4)" fill="url(#gOr)" stroke="#a9560f" stroke-width="0.35" stroke-opacity="0.55"/>
<ellipse cx="109.3" cy="627.5" rx="1.3" ry="1.3" transform="rotate(0 109.3 627.5)" fill="url(#gOr)" stroke="#a9560f" stroke-width="0.35" stroke-opacity="0.55"/>
<ellipse cx="128.3" cy="624.2" rx="1.2" ry="1.2" transform="rotate(0 128.3 624.2)" fill="url(#gOrL)" stroke="#a9560f" stroke-width="0.35" stroke-opacity="0.55"/>
<ellipse cx="76.4" cy="686.6" rx="1.5" ry="1.5" transform="rotate(0 76.4 686.6)" fill="url(#gOr)" stroke="#a9560f" stroke-width="0.35" stroke-opacity="0.55"/>
<ellipse cx="75.8" cy="687.8" rx="1.2" ry="1.2" transform="rotate(0 75.8 687.8)" fill="url(#gOr)" stroke="#a9560f" stroke-width="0.35" stroke-opacity="0.55"/>
<ellipse cx="31.5" cy="663.2" rx="1.9" ry="1.9" transform="rotate(0 31.5 663.2)" fill="url(#gOrL)" stroke="#a9560f" stroke-width="0.35" stroke-opacity="0.55"/>
<ellipse cx="30.1" cy="666.8" rx="1.9" ry="1.9" transform="rotate(0 30.1 666.8)" fill="url(#gOr)" stroke="#a9560f" stroke-width="0.35" stroke-opacity="0.55"/>
<ellipse cx="22.4" cy="670.6" rx="2.5" ry="3.0" transform="rotate(0 22.4 670.6)" fill="url(#gOrL)" stroke="#a9560f" stroke-width="0.35" stroke-opacity="0.55"/>
<ellipse cx="180.5" cy="672.8" rx="3.0" ry="3.0" transform="rotate(0 180.5 672.8)" fill="url(#gOr)" stroke="#a9560f" stroke-width="0.35" stroke-opacity="0.55"/>
<ellipse cx="185.6" cy="669.7" rx="3.0" ry="3.0" transform="rotate(0 185.6 669.7)" fill="url(#gOr)" stroke="#a9560f" stroke-width="0.35" stroke-opacity="0.55"/>
<ellipse cx="185.3" cy="678.7" rx="3.0" ry="2.8" transform="rotate(0 185.3 678.7)" fill="url(#gOr)" stroke="#a9560f" stroke-width="0.35" stroke-opacity="0.55"/>
<ellipse cx="186.5" cy="683.2" rx="3.1" ry="3.1" transform="rotate(0 186.5 683.2)" fill="url(#gOr)" stroke="#a9560f" stroke-width="0.35" stroke-opacity="0.55"/>
<ellipse cx="207.2" cy="670.3" rx="4.6" ry="4.0" transform="rotate(0 207.2 670.3)" fill="url(#gOrL)" stroke="#a9560f" stroke-width="0.35" stroke-opacity="0.55"/>
<ellipse cx="205.4" cy="679.2" rx="4.0" ry="4.6" transform="rotate(0 205.4 679.2)" fill="url(#gOrL)" stroke="#a9560f" stroke-width="0.35" stroke-opacity="0.55"/>
<ellipse cx="114.5" cy="744.0" rx="4.2" ry="5.0" transform="rotate(0 114.5 744.0)" fill="url(#gOrL)" stroke="#a9560f" stroke-width="0.35" stroke-opacity="0.55"/>
<ellipse cx="172.4" cy="726.9" rx="3.5" ry="3.7" transform="rotate(0 172.4 726.9)" fill="url(#gOrL)" stroke="#a9560f" stroke-width="0.35" stroke-opacity="0.55"/>
<ellipse cx="180.1" cy="693.3" rx="1.8" ry="1.8" transform="rotate(0 180.1 693.3)" fill="url(#gOr)" stroke="#a9560f" stroke-width="0.35" stroke-opacity="0.55"/>
<ellipse cx="180.5" cy="697.4" rx="1.3" ry="1.3" transform="rotate(0 180.5 697.4)" fill="url(#gOr)" stroke="#a9560f" stroke-width="0.35" stroke-opacity="0.55"/>
<circle cx="77.5" cy="602.6" r="0.85" fill="#e8231f"/>
<circle cx="55.5" cy="611.5" r="0.85" fill="#e8231f"/>
<circle cx="102.8" cy="606" r="0.85" fill="#e8231f"/>
<circle cx="114" cy="609.1" r="0.85" fill="#e8231f"/>
<circle cx="103.4" cy="617.2" r="0.85" fill="#e8231f"/>
<circle cx="104.6" cy="620.1" r="0.85" fill="#e8231f"/>
<circle cx="66.3" cy="625.3" r="0.85" fill="#e8231f"/>
<circle cx="25.5" cy="628.4" r="0.85" fill="#e8231f"/>
<circle cx="81.3" cy="635.6" r="0.85" fill="#e8231f"/>
<circle cx="84.8" cy="639.6" r="0.85" fill="#e8231f"/>
<circle cx="47.7" cy="641" r="0.85" fill="#e8231f"/>
<circle cx="50.3" cy="643.4" r="0.85" fill="#e8231f"/>
<circle cx="67.5" cy="653.4" r="0.85" fill="#e8231f"/>
<circle cx="69.4" cy="653.6" r="0.85" fill="#e8231f"/>
<circle cx="71.1" cy="659.4" r="0.85" fill="#e8231f"/>
<circle cx="46.5" cy="672.5" r="0.85" fill="#e8231f"/>
<circle cx="74.9" cy="672" r="0.85" fill="#e8231f"/>
<circle cx="70.3" cy="679.7" r="0.85" fill="#e8231f"/>
<circle cx="72" cy="681.5" r="0.85" fill="#e8231f"/>
<circle cx="81.8" cy="683.9" r="0.85" fill="#e8231f"/>
<circle cx="99.9" cy="673.2" r="0.85" fill="#e8231f"/>
<circle cx="100.4" cy="664.6" r="0.85" fill="#e8231f"/>
<circle cx="103" cy="661.1" r="0.85" fill="#e8231f"/>
<circle cx="100.3" cy="646" r="0.85" fill="#e8231f"/>
<circle cx="112" cy="641.3" r="0.85" fill="#e8231f"/>
<circle cx="118.8" cy="602" r="0.85" fill="#e8231f"/>
<circle cx="121" cy="601.4" r="0.85" fill="#e8231f"/>
<circle cx="132.2" cy="611.5" r="0.85" fill="#e8231f"/>
<circle cx="141.4" cy="611.5" r="0.85" fill="#e8231f"/>
<circle cx="156.3" cy="621.9" r="0.85" fill="#e8231f"/>
<circle cx="166.7" cy="622.4" r="0.85" fill="#e8231f"/>
<circle cx="195.1" cy="619.4" r="0.85" fill="#e8231f"/>
<circle cx="119.8" cy="624.1" r="0.85" fill="#e8231f"/>
<circle cx="129.3" cy="630.1" r="0.85" fill="#e8231f"/>
<circle cx="141.2" cy="632.9" r="0.85" fill="#e8231f"/>
<circle cx="145.7" cy="643.9" r="0.85" fill="#e8231f"/>
<circle cx="148.2" cy="641.8" r="0.85" fill="#e8231f"/>
<circle cx="129.3" cy="649.4" r="0.85" fill="#e8231f"/>
<circle cx="195.1" cy="636.7" r="0.85" fill="#e8231f"/>
<circle cx="192.5" cy="644.8" r="0.85" fill="#e8231f"/>
<circle cx="167.5" cy="650.8" r="0.85" fill="#e8231f"/>
<circle cx="171.5" cy="653.7" r="0.85" fill="#e8231f"/>
<circle cx="164.6" cy="645.6" r="0.85" fill="#e8231f"/>
<circle cx="146.9" cy="661.1" r="0.85" fill="#e8231f"/>
<circle cx="161.5" cy="659.4" r="0.85" fill="#e8231f"/>
<circle cx="175.8" cy="662.5" r="0.85" fill="#e8231f"/>
<circle cx="137.9" cy="669.2" r="0.85" fill="#e8231f"/>
<circle cx="145.1" cy="672.3" r="0.85" fill="#e8231f"/>
<circle cx="165" cy="672" r="0.85" fill="#e8231f"/>
<circle cx="147.7" cy="682.7" r="0.85" fill="#e8231f"/>
<circle cx="139.1" cy="682.7" r="0.85" fill="#e8231f"/>
<circle cx="131.9" cy="662" r="0.85" fill="#e8231f"/>
<circle cx="52.5" cy="695" r="0.85" fill="#e8231f"/>
<circle cx="53.4" cy="701.4" r="0.85" fill="#e8231f"/>
<circle cx="74.4" cy="705.2" r="0.85" fill="#e8231f"/>
<circle cx="68" cy="697.9" r="0.85" fill="#e8231f"/>
<circle cx="96.1" cy="688.4" r="0.85" fill="#e8231f"/>
<circle cx="99.9" cy="688.1" r="0.85" fill="#e8231f"/>
<circle cx="99.6" cy="693.3" r="0.85" fill="#e8231f"/>
<circle cx="93.4" cy="695.7" r="0.85" fill="#e8231f"/>
<circle cx="108.2" cy="710" r="0.85" fill="#e8231f"/>
<circle cx="103" cy="716.9" r="0.85" fill="#e8231f"/>
<circle cx="87.3" cy="718.2" r="0.85" fill="#e8231f"/>
<circle cx="82.2" cy="728.1" r="0.85" fill="#e8231f"/>
<circle cx="98.7" cy="730.3" r="0.85" fill="#e8231f"/>
<circle cx="103.4" cy="732" r="0.85" fill="#e8231f"/>
<circle cx="112" cy="747.9" r="0.85" fill="#e8231f"/>
<circle cx="100.3" cy="771.6" r="0.85" fill="#e8231f"/>
<circle cx="37" cy="713.8" r="0.85" fill="#e8231f"/>
<circle cx="115.1" cy="710" r="0.85" fill="#e8231f"/>
<circle cx="126.2" cy="686.7" r="0.85" fill="#e8231f"/>
<circle cx="146.5" cy="689.8" r="0.85" fill="#e8231f"/>
<circle cx="149.8" cy="694.5" r="0.85" fill="#e8231f"/>
<circle cx="161.2" cy="693.6" r="0.85" fill="#e8231f"/>
<circle cx="126.2" cy="697.9" r="0.85" fill="#e8231f"/>
<circle cx="180.5" cy="687.1" r="0.85" fill="#e8231f"/>
<circle cx="158.4" cy="704.5" r="0.85" fill="#e8231f"/>
<circle cx="173.6" cy="702.2" r="0.85" fill="#e8231f"/>
<circle cx="189.1" cy="703.4" r="0.85" fill="#e8231f"/>
<circle cx="119.3" cy="711.7" r="0.85" fill="#e8231f"/>
<circle cx="136.7" cy="715.1" r="0.85" fill="#e8231f"/>
<circle cx="134.5" cy="719.1" r="0.85" fill="#e8231f"/>
<circle cx="154.3" cy="718.6" r="0.85" fill="#e8231f"/>
<circle cx="136.5" cy="726.3" r="0.85" fill="#e8231f"/>
<circle cx="145.5" cy="731.9" r="0.85" fill="#e8231f"/>
<circle cx="169.8" cy="737.5" r="0.85" fill="#e8231f"/>
<circle cx="136.5" cy="745.3" r="0.85" fill="#e8231f"/>
<circle cx="132.7" cy="748.2" r="0.85" fill="#e8231f"/>
</g>
<polygon points="5.3,607.7 116.6,577.0 228.5,607.7 200.6,716.5 116.7,793.5 33.3,716.4" fill="none" stroke="#222" stroke-width="1.05" stroke-linejoin="round"/>
<line x1="116.5" y1="669.8" x2="5.3" y2="607.7" stroke="#1a1a1a" stroke-width="1.25"/>
<line x1="116.5" y1="669.8" x2="228.5" y2="607.7" stroke="#1a1a1a" stroke-width="1.25"/>
<line x1="116.5" y1="669.8" x2="116.7" y2="793.5" stroke="#1a1a1a" stroke-width="1.25"/>
<line x1="356.1" y1="669.2" x2="356.3" y2="575.6" stroke="#9a9a9a" stroke-width="0.9"/>
<line x1="356.1" y1="669.2" x2="270.1" y2="717.7" stroke="#4a4a4a" stroke-width="0.7"/>
<line x1="356.1" y1="669.2" x2="442.5" y2="717.3" stroke="#4a4a4a" stroke-width="0.7"/>
<clipPath id="hx356"><polygon points="241.9,607.6 356.3,575.6 470.5,607.6 442.5,717.3 356.3,796.5 270.1,717.7"/></clipPath>
<g clip-path="url(#hx356)">
<circle cx="318.0" cy="619.4" r="0.55" fill="#d6d6d6"/>
<circle cx="386.7" cy="604.1" r="0.55" fill="#d6d6d6"/>
<circle cx="362.5" cy="661.3" r="0.55" fill="#d6d6d6"/>
<circle cx="264.7" cy="607.7" r="0.55" fill="#d6d6d6"/>
<circle cx="339.1" cy="751.2" r="0.55" fill="#d6d6d6"/>
<circle cx="276.0" cy="633.5" r="0.55" fill="#d6d6d6"/>
<circle cx="371.2" cy="667.4" r="0.55" fill="#d6d6d6"/>
<circle cx="430.3" cy="646.5" r="0.55" fill="#d6d6d6"/>
<circle cx="280.3" cy="613.0" r="0.55" fill="#d6d6d6"/>
<circle cx="314.8" cy="749.1" r="0.55" fill="#d6d6d6"/>
<circle cx="288.0" cy="703.4" r="0.55" fill="#d6d6d6"/>
<circle cx="384.2" cy="662.6" r="0.55" fill="#d6d6d6"/>
<circle cx="365.0" cy="602.2" r="0.55" fill="#d6d6d6"/>
<circle cx="262.5" cy="630.2" r="0.55" fill="#d6d6d6"/>
<circle cx="392.9" cy="673.4" r="0.55" fill="#d6d6d6"/>
<circle cx="316.0" cy="704.2" r="0.55" fill="#d6d6d6"/>
<circle cx="345.2" cy="648.5" r="0.55" fill="#d6d6d6"/>
<circle cx="416.8" cy="726.3" r="0.55" fill="#d6d6d6"/>
<circle cx="301.3" cy="702.0" r="0.55" fill="#d6d6d6"/>
<circle cx="360.3" cy="760.7" r="0.55" fill="#d6d6d6"/>
<circle cx="403.2" cy="646.1" r="0.55" fill="#d6d6d6"/>
<circle cx="455.8" cy="613.0" r="0.55" fill="#d6d6d6"/>
<circle cx="337.8" cy="737.6" r="0.55" fill="#d6d6d6"/>
<circle cx="281.9" cy="685.3" r="0.55" fill="#d6d6d6"/>
<circle cx="410.6" cy="701.7" r="0.55" fill="#d6d6d6"/>
<circle cx="433.9" cy="651.2" r="0.55" fill="#d6d6d6"/>
<circle cx="396.0" cy="705.9" r="0.55" fill="#d6d6d6"/>
<circle cx="371.8" cy="679.0" r="0.55" fill="#d6d6d6"/>
<circle cx="349.6" cy="719.5" r="0.55" fill="#d6d6d6"/>
<circle cx="422.6" cy="645.5" r="0.55" fill="#d6d6d6"/>
<circle cx="331.0" cy="720.4" r="0.55" fill="#d6d6d6"/>
<circle cx="285.3" cy="612.8" r="0.55" fill="#d6d6d6"/>
<circle cx="277.2" cy="638.3" r="0.55" fill="#d6d6d6"/>
<circle cx="332.1" cy="759.9" r="0.55" fill="#d6d6d6"/>
<circle cx="266.9" cy="677.6" r="0.55" fill="#d6d6d6"/>
<circle cx="365.4" cy="762.3" r="0.55" fill="#d6d6d6"/>
<circle cx="308.5" cy="671.0" r="0.55" fill="#d6d6d6"/>
<circle cx="325.3" cy="762.4" r="0.55" fill="#d6d6d6"/>
<circle cx="451.1" cy="619.4" r="0.55" fill="#d6d6d6"/>
<circle cx="287.0" cy="635.2" r="0.55" fill="#d6d6d6"/>
<circle cx="299.0" cy="684.6" r="0.55" fill="#d6d6d6"/>
<circle cx="373.7" cy="641.2" r="0.55" fill="#d6d6d6"/>
<circle cx="327.5" cy="700.4" r="0.55" fill="#d6d6d6"/>
<circle cx="358.3" cy="710.4" r="0.55" fill="#d6d6d6"/>
<circle cx="392.0" cy="600.5" r="0.55" fill="#d6d6d6"/>
<circle cx="332.4" cy="667.8" r="0.55" fill="#d6d6d6"/>
<circle cx="271.7" cy="713.7" r="0.55" fill="#d6d6d6"/>
<circle cx="263.1" cy="603.1" r="0.55" fill="#d6d6d6"/>
<circle cx="293.8" cy="621.6" r="0.55" fill="#d6d6d6"/>
<circle cx="321.4" cy="600.3" r="0.55" fill="#d6d6d6"/>
<circle cx="250.0" cy="619.5" r="0.55" fill="#d6d6d6"/>
<circle cx="271.3" cy="660.9" r="0.55" fill="#d6d6d6"/>
<circle cx="379.0" cy="619.0" r="0.55" fill="#d6d6d6"/>
<circle cx="303.0" cy="657.7" r="0.55" fill="#d6d6d6"/>
<circle cx="326.5" cy="614.0" r="0.55" fill="#d6d6d6"/>
<circle cx="347.9" cy="684.3" r="0.55" fill="#d6d6d6"/>
<circle cx="268.0" cy="609.9" r="0.55" fill="#d6d6d6"/>
<circle cx="322.0" cy="641.6" r="0.55" fill="#d6d6d6"/>
<circle cx="424.1" cy="621.5" r="0.55" fill="#d6d6d6"/>
<circle cx="360.9" cy="618.6" r="0.55" fill="#d6d6d6"/>
<circle cx="364.1" cy="595.3" r="0.55" fill="#d6d6d6"/>
<circle cx="360.9" cy="780.8" r="0.55" fill="#d6d6d6"/>
<circle cx="431.3" cy="725.8" r="0.55" fill="#d6d6d6"/>
<circle cx="304.8" cy="661.5" r="0.55" fill="#d6d6d6"/>
<circle cx="361.8" cy="741.9" r="0.55" fill="#d6d6d6"/>
<circle cx="319.2" cy="633.5" r="0.55" fill="#d6d6d6"/>
<circle cx="421.8" cy="734.3" r="0.55" fill="#d6d6d6"/>
<circle cx="297.6" cy="690.9" r="0.55" fill="#d6d6d6"/>
<circle cx="324.7" cy="595.7" r="0.55" fill="#d6d6d6"/>
<circle cx="255.9" cy="644.5" r="0.55" fill="#d6d6d6"/>
<circle cx="304.4" cy="725.0" r="0.55" fill="#d6d6d6"/>
<circle cx="450.9" cy="677.2" r="0.55" fill="#d6d6d6"/>
<circle cx="450.6" cy="661.1" r="0.55" fill="#d6d6d6"/>
<circle cx="296.3" cy="634.2" r="0.55" fill="#d6d6d6"/>
<circle cx="291.3" cy="629.9" r="0.55" fill="#d6d6d6"/>
<circle cx="381.1" cy="765.6" r="0.55" fill="#d6d6d6"/>
<circle cx="426.5" cy="683.5" r="0.55" fill="#d6d6d6"/>
<circle cx="387.1" cy="745.9" r="0.55" fill="#d6d6d6"/>
<circle cx="407.5" cy="683.2" r="0.55" fill="#d6d6d6"/>
<circle cx="319.8" cy="746.2" r="0.55" fill="#d6d6d6"/>
<circle cx="454.0" cy="667.2" r="0.55" fill="#d6d6d6"/>
<circle cx="334.3" cy="774.6" r="0.55" fill="#d6d6d6"/>
<circle cx="402.2" cy="623.2" r="0.55" fill="#d6d6d6"/>
<circle cx="276.7" cy="619.5" r="0.55" fill="#d6d6d6"/>
<circle cx="323.6" cy="697.0" r="0.55" fill="#d6d6d6"/>
<circle cx="360.6" cy="772.1" r="0.55" fill="#d6d6d6"/>
<circle cx="341.1" cy="760.0" r="0.55" fill="#d6d6d6"/>
<circle cx="423.5" cy="631.2" r="0.55" fill="#d6d6d6"/>
<circle cx="302.9" cy="647.1" r="0.55" fill="#d6d6d6"/>
<circle cx="300.5" cy="704.4" r="0.55" fill="#d6d6d6"/>
<circle cx="304.5" cy="671.7" r="0.55" fill="#d6d6d6"/>
<circle cx="324.3" cy="679.3" r="0.55" fill="#d6d6d6"/>
<circle cx="372.5" cy="766.3" r="0.55" fill="#d6d6d6"/>
<circle cx="338.3" cy="769.0" r="0.55" fill="#d6d6d6"/>
<circle cx="355.3" cy="693.7" r="0.55" fill="#d6d6d6"/>
<circle cx="359.9" cy="593.6" r="0.55" fill="#d6d6d6"/>
<circle cx="342.4" cy="625.7" r="0.55" fill="#d6d6d6"/>
<circle cx="286.2" cy="682.3" r="0.55" fill="#d6d6d6"/>
<circle cx="402.3" cy="698.5" r="0.55" fill="#d6d6d6"/>
<circle cx="318.5" cy="691.1" r="0.55" fill="#d6d6d6"/>
<circle cx="366.6" cy="742.9" r="0.55" fill="#d6d6d6"/>
<circle cx="272.3" cy="699.3" r="0.55" fill="#d6d6d6"/>
<circle cx="302.2" cy="644.0" r="0.55" fill="#d6d6d6"/>
<circle cx="412.2" cy="689.0" r="0.55" fill="#d6d6d6"/>
<circle cx="368.0" cy="738.2" r="0.55" fill="#d6d6d6"/>
<circle cx="441.6" cy="676.4" r="0.55" fill="#d6d6d6"/>
<circle cx="378.6" cy="688.6" r="0.55" fill="#d6d6d6"/>
<circle cx="357.6" cy="725.1" r="0.55" fill="#d6d6d6"/>
<circle cx="345.0" cy="694.0" r="0.55" fill="#d6d6d6"/>
<circle cx="350.4" cy="773.6" r="0.55" fill="#d6d6d6"/>
<circle cx="447.9" cy="640.6" r="0.55" fill="#d6d6d6"/>
<circle cx="367.5" cy="773.9" r="0.55" fill="#d6d6d6"/>
<circle cx="426.4" cy="616.7" r="0.55" fill="#d6d6d6"/>
<circle cx="275.5" cy="676.2" r="0.55" fill="#d6d6d6"/>
<circle cx="265.2" cy="636.9" r="0.55" fill="#d6d6d6"/>
<circle cx="388.7" cy="617.9" r="0.55" fill="#d6d6d6"/>
<circle cx="333.6" cy="685.0" r="0.55" fill="#d6d6d6"/>
<circle cx="283.9" cy="674.1" r="0.55" fill="#d6d6d6"/>
<circle cx="358.3" cy="656.1" r="0.55" fill="#d6d6d6"/>
<circle cx="291.1" cy="652.1" r="0.55" fill="#d6d6d6"/>
<circle cx="401.7" cy="593.8" r="0.55" fill="#d6d6d6"/>
<circle cx="366.4" cy="675.9" r="0.55" fill="#d6d6d6"/>
<circle cx="381.0" cy="689.9" r="0.55" fill="#d6d6d6"/>
<circle cx="272.0" cy="641.8" r="0.55" fill="#d6d6d6"/>
<circle cx="306.8" cy="615.3" r="0.55" fill="#d6d6d6"/>
<circle cx="338.7" cy="767.7" r="0.55" fill="#d6d6d6"/>
<circle cx="422.0" cy="640.4" r="0.55" fill="#d6d6d6"/>
<circle cx="369.8" cy="726.6" r="0.55" fill="#d6d6d6"/>
<circle cx="268.8" cy="601.2" r="0.55" fill="#d6d6d6"/>
<circle cx="394.5" cy="672.9" r="0.55" fill="#d6d6d6"/>
<circle cx="383.2" cy="746.3" r="0.55" fill="#d6d6d6"/>
<circle cx="345.3" cy="656.1" r="0.55" fill="#d6d6d6"/>
<circle cx="366.1" cy="770.7" r="0.55" fill="#d6d6d6"/>
<circle cx="306.3" cy="615.2" r="0.55" fill="#d6d6d6"/>
<circle cx="360.7" cy="636.5" r="0.55" fill="#d6d6d6"/>
<circle cx="273.0" cy="621.5" r="0.55" fill="#d6d6d6"/>
<circle cx="260.6" cy="629.3" r="0.55" fill="#d6d6d6"/>
<circle cx="315.5" cy="649.5" r="0.55" fill="#d6d6d6"/>
<circle cx="409.5" cy="646.5" r="0.55" fill="#d6d6d6"/>
<circle cx="355.0" cy="624.7" r="0.55" fill="#d6d6d6"/>
<circle cx="322.9" cy="593.5" r="0.55" fill="#d6d6d6"/>
<circle cx="302.6" cy="593.0" r="0.55" fill="#d6d6d6"/>
<circle cx="403.9" cy="697.5" r="0.55" fill="#d6d6d6"/>
<circle cx="289.8" cy="682.6" r="0.55" fill="#d6d6d6"/>
<circle cx="446.3" cy="610.7" r="0.55" fill="#d6d6d6"/>
<circle cx="422.0" cy="674.3" r="0.55" fill="#d6d6d6"/>
<circle cx="354.0" cy="752.7" r="0.55" fill="#d6d6d6"/>
<circle cx="332.5" cy="688.8" r="0.55" fill="#d6d6d6"/>
<circle cx="322.0" cy="752.3" r="0.55" fill="#d6d6d6"/>
<circle cx="398.4" cy="714.0" r="0.55" fill="#d6d6d6"/>
<circle cx="335.0" cy="657.8" r="0.55" fill="#d6d6d6"/>
<circle cx="261.4" cy="615.3" r="0.55" fill="#d6d6d6"/>
<circle cx="303.7" cy="621.8" r="0.55" fill="#d6d6d6"/>
<circle cx="432.8" cy="720.8" r="0.55" fill="#d6d6d6"/>
<circle cx="309.2" cy="637.2" r="0.55" fill="#d6d6d6"/>
<circle cx="311.5" cy="679.6" r="0.55" fill="#d6d6d6"/>
<circle cx="283.1" cy="676.9" r="0.55" fill="#d6d6d6"/>
<circle cx="315.0" cy="659.5" r="0.55" fill="#d6d6d6"/>
<circle cx="349.7" cy="688.0" r="0.55" fill="#d6d6d6"/>
<circle cx="292.2" cy="688.4" r="0.55" fill="#d6d6d6"/>
<circle cx="251.0" cy="641.5" r="0.55" fill="#d6d6d6"/>
<circle cx="268.8" cy="667.9" r="0.55" fill="#d6d6d6"/>
<circle cx="313.9" cy="635.4" r="0.55" fill="#d6d6d6"/>
<circle cx="373.0" cy="693.2" r="0.55" fill="#d6d6d6"/>
<circle cx="407.6" cy="718.2" r="0.55" fill="#d6d6d6"/>
<ellipse cx="350.8" cy="661.5" rx="14" ry="5.5" fill="url(#gBl)" fill-opacity="0.95" stroke="#0a0a8a" stroke-width="0.35" stroke-opacity="0.7"/>
<ellipse cx="326.3" cy="675.9" rx="7" ry="7.5" fill="url(#gBl)" fill-opacity="0.95" stroke="#0a0a8a" stroke-width="0.35" stroke-opacity="0.7"/>
<ellipse cx="365.7" cy="697.4" rx="7" ry="6.5" fill="url(#gBl)" fill-opacity="0.95" stroke="#0a0a8a" stroke-width="0.35" stroke-opacity="0.7"/>
<ellipse cx="371" cy="658.9" rx="9" ry="5" fill="url(#gBl)" fill-opacity="0.95" stroke="#0a0a8a" stroke-width="0.35" stroke-opacity="0.7"/>
<ellipse cx="380.6" cy="684.3" rx="6.5" ry="6.5" fill="url(#gBl)" fill-opacity="0.95" stroke="#0a0a8a" stroke-width="0.35" stroke-opacity="0.7"/>
<ellipse cx="365.4" cy="697.5" rx="6.5" ry="6.5" fill="url(#gBl)" fill-opacity="0.95" stroke="#0a0a8a" stroke-width="0.35" stroke-opacity="0.7"/>
<ellipse cx="351.7" cy="678.2" rx="7" ry="6" fill="url(#gBl)" fill-opacity="0.95" stroke="#0a0a8a" stroke-width="0.35" stroke-opacity="0.7"/>
<ellipse cx="376.2" cy="670.3" rx="6.5" ry="6" fill="url(#gBl)" fill-opacity="0.95" stroke="#0a0a8a" stroke-width="0.35" stroke-opacity="0.7"/>
<ellipse cx="338.5" cy="674.7" rx="6" ry="6" fill="url(#gBl)" fill-opacity="0.95" stroke="#0a0a8a" stroke-width="0.35" stroke-opacity="0.7"/>
<ellipse cx="359.6" cy="704.5" rx="6" ry="6" fill="url(#gBl)" fill-opacity="0.95" stroke="#0a0a8a" stroke-width="0.35" stroke-opacity="0.7"/>
<ellipse cx="340.5" cy="687" rx="6" ry="6" fill="url(#gBl)" fill-opacity="0.95" stroke="#0a0a8a" stroke-width="0.35" stroke-opacity="0.7"/>
<ellipse cx="360.1" cy="704.5" rx="6" ry="6" fill="url(#gBl)" fill-opacity="0.95" stroke="#0a0a8a" stroke-width="0.35" stroke-opacity="0.7"/>
<ellipse cx="378" cy="684" rx="6" ry="6" fill="url(#gBl)" fill-opacity="0.95" stroke="#0a0a8a" stroke-width="0.35" stroke-opacity="0.7"/>
<ellipse cx="370.1" cy="682.6" rx="5.5" ry="5.5" fill="url(#gBl)" fill-opacity="0.95" stroke="#0a0a8a" stroke-width="0.35" stroke-opacity="0.7"/>
<ellipse cx="340.3" cy="687.8" rx="5.5" ry="5.5" fill="url(#gBl)" fill-opacity="0.95" stroke="#0a0a8a" stroke-width="0.35" stroke-opacity="0.7"/>
<ellipse cx="339.6" cy="649.1" rx="6" ry="5" fill="url(#gBl)" fill-opacity="0.95" stroke="#0a0a8a" stroke-width="0.35" stroke-opacity="0.7"/>
<ellipse cx="351.5" cy="643" rx="5.5" ry="5" fill="url(#gBl)" fill-opacity="0.95" stroke="#0a0a8a" stroke-width="0.35" stroke-opacity="0.7"/>
<ellipse cx="351.7" cy="642.6" rx="5.5" ry="5" fill="url(#gBl)" fill-opacity="0.95" stroke="#0a0a8a" stroke-width="0.35" stroke-opacity="0.7"/>
<ellipse cx="340.3" cy="664.2" rx="5" ry="5" fill="url(#gBl)" fill-opacity="0.95" stroke="#0a0a8a" stroke-width="0.35" stroke-opacity="0.7"/>
<ellipse cx="358.7" cy="658" rx="5" ry="5" fill="url(#gBl)" fill-opacity="0.95" stroke="#0a0a8a" stroke-width="0.35" stroke-opacity="0.7"/>
<ellipse cx="360.4" cy="678.2" rx="5" ry="5" fill="url(#gBl)" fill-opacity="0.95" stroke="#0a0a8a" stroke-width="0.35" stroke-opacity="0.7"/>
<ellipse cx="352.8" cy="683.5" rx="5" ry="5" fill="url(#gBl)" fill-opacity="0.95" stroke="#0a0a8a" stroke-width="0.35" stroke-opacity="0.7"/>
<ellipse cx="371.5" cy="681" rx="5" ry="5" fill="url(#gBl)" fill-opacity="0.95" stroke="#0a0a8a" stroke-width="0.35" stroke-opacity="0.7"/>
<ellipse cx="343.6" cy="621.4" rx="5.3" ry="4" fill="url(#gBl)" fill-opacity="0.95" stroke="#0a0a8a" stroke-width="0.35" stroke-opacity="0.7"/>
<ellipse cx="382.6" cy="615.8" rx="5" ry="4.2" fill="url(#gBl)" fill-opacity="0.95" stroke="#0a0a8a" stroke-width="0.35" stroke-opacity="0.7"/>
<ellipse cx="384.7" cy="643.5" rx="4.5" ry="4.5" fill="url(#gBl)" fill-opacity="0.95" stroke="#0a0a8a" stroke-width="0.35" stroke-opacity="0.7"/>
<ellipse cx="415.7" cy="664" rx="4.5" ry="4.5" fill="url(#gBl)" fill-opacity="0.95" stroke="#0a0a8a" stroke-width="0.35" stroke-opacity="0.7"/>
<ellipse cx="344.5" cy="717.1" rx="4.5" ry="4.5" fill="url(#gBl)" fill-opacity="0.95" stroke="#0a0a8a" stroke-width="0.35" stroke-opacity="0.7"/>
<ellipse cx="355.4" cy="704.5" rx="4.5" ry="4.5" fill="url(#gBl)" fill-opacity="0.95" stroke="#0a0a8a" stroke-width="0.35" stroke-opacity="0.7"/>
<ellipse cx="340.3" cy="648.4" rx="5" ry="4" fill="url(#gBl)" fill-opacity="0.95" stroke="#0a0a8a" stroke-width="0.35" stroke-opacity="0.7"/>
<ellipse cx="287.4" cy="641.7" rx="4" ry="4" fill="url(#gBl)" fill-opacity="0.95" stroke="#0a0a8a" stroke-width="0.35" stroke-opacity="0.7"/>
<ellipse cx="307.4" cy="653.3" rx="4" ry="4" fill="url(#gBl)" fill-opacity="0.95" stroke="#0a0a8a" stroke-width="0.35" stroke-opacity="0.7"/>
<ellipse cx="309.8" cy="659.7" rx="4" ry="4" fill="url(#gBl)" fill-opacity="0.95" stroke="#0a0a8a" stroke-width="0.35" stroke-opacity="0.7"/>
<ellipse cx="346.6" cy="649.1" rx="4" ry="4" fill="url(#gBl)" fill-opacity="0.95" stroke="#0a0a8a" stroke-width="0.35" stroke-opacity="0.7"/>
<ellipse cx="359.3" cy="626" rx="4" ry="4" fill="url(#gBl)" fill-opacity="0.95" stroke="#0a0a8a" stroke-width="0.35" stroke-opacity="0.7"/>
<ellipse cx="381.2" cy="633.7" rx="4" ry="4" fill="url(#gBl)" fill-opacity="0.95" stroke="#0a0a8a" stroke-width="0.35" stroke-opacity="0.7"/>
<ellipse cx="384.1" cy="643.7" rx="4" ry="4" fill="url(#gBl)" fill-opacity="0.95" stroke="#0a0a8a" stroke-width="0.35" stroke-opacity="0.7"/>
<ellipse cx="415.6" cy="664.2" rx="4" ry="4" fill="url(#gBl)" fill-opacity="0.95" stroke="#0a0a8a" stroke-width="0.35" stroke-opacity="0.7"/>
<ellipse cx="385" cy="672" rx="4" ry="4" fill="url(#gBl)" fill-opacity="0.95" stroke="#0a0a8a" stroke-width="0.35" stroke-opacity="0.7"/>
<ellipse cx="396.4" cy="704.5" rx="4" ry="4" fill="url(#gBl)" fill-opacity="0.95" stroke="#0a0a8a" stroke-width="0.35" stroke-opacity="0.7"/>
<ellipse cx="322.1" cy="683.5" rx="4" ry="4" fill="url(#gBl)" fill-opacity="0.95" stroke="#0a0a8a" stroke-width="0.35" stroke-opacity="0.7"/>
<ellipse cx="396" cy="704.9" rx="4" ry="4" fill="url(#gBl)" fill-opacity="0.95" stroke="#0a0a8a" stroke-width="0.35" stroke-opacity="0.7"/>
<ellipse cx="385.5" cy="681" rx="4" ry="4" fill="url(#gBl)" fill-opacity="0.95" stroke="#0a0a8a" stroke-width="0.35" stroke-opacity="0.7"/>
<ellipse cx="330.7" cy="708" rx="3.5" ry="4" fill="url(#gBlL)" fill-opacity="0.95" stroke="#0a0a8a" stroke-width="0.35" stroke-opacity="0.7"/>
<ellipse cx="342.8" cy="633" rx="3.5" ry="3.5" fill="url(#gBl)" fill-opacity="0.95" stroke="#0a0a8a" stroke-width="0.35" stroke-opacity="0.7"/>
<ellipse cx="332.6" cy="653.5" rx="3.5" ry="3.5" fill="url(#gBl)" fill-opacity="0.95" stroke="#0a0a8a" stroke-width="0.35" stroke-opacity="0.7"/>
<ellipse cx="360.7" cy="600.4" rx="3.5" ry="3.5" fill="url(#gBl)" fill-opacity="0.95" stroke="#0a0a8a" stroke-width="0.35" stroke-opacity="0.7"/>
<ellipse cx="433.7" cy="643.5" rx="3.5" ry="3.5" fill="url(#gBlL)" fill-opacity="0.95" stroke="#0a0a8a" stroke-width="0.35" stroke-opacity="0.7"/>
<ellipse cx="380.6" cy="633.5" rx="3.5" ry="3.5" fill="url(#gBl)" fill-opacity="0.95" stroke="#0a0a8a" stroke-width="0.35" stroke-opacity="0.7"/>
<ellipse cx="343.8" cy="632.6" rx="3.5" ry="3.5" fill="url(#gBl)" fill-opacity="0.95" stroke="#0a0a8a" stroke-width="0.35" stroke-opacity="0.7"/>
<ellipse cx="307" cy="653.7" rx="3.5" ry="3.5" fill="url(#gBl)" fill-opacity="0.95" stroke="#0a0a8a" stroke-width="0.35" stroke-opacity="0.7"/>
<ellipse cx="310.5" cy="659.8" rx="3.5" ry="3.5" fill="url(#gBl)" fill-opacity="0.95" stroke="#0a0a8a" stroke-width="0.35" stroke-opacity="0.7"/>
<ellipse cx="321" cy="684.3" rx="3.5" ry="3.5" fill="url(#gBl)" fill-opacity="0.95" stroke="#0a0a8a" stroke-width="0.35" stroke-opacity="0.7"/>
<ellipse cx="346.4" cy="708.8" rx="3.5" ry="3.5" fill="url(#gBl)" fill-opacity="0.95" stroke="#0a0a8a" stroke-width="0.35" stroke-opacity="0.7"/>
<ellipse cx="342" cy="715.8" rx="3.5" ry="3.5" fill="url(#gBl)" fill-opacity="0.95" stroke="#0a0a8a" stroke-width="0.35" stroke-opacity="0.7"/>
<ellipse cx="376.2" cy="714.1" rx="3.5" ry="3.5" fill="url(#gBl)" fill-opacity="0.95" stroke="#0a0a8a" stroke-width="0.35" stroke-opacity="0.7"/>
<ellipse cx="388.5" cy="695.7" rx="3.5" ry="3.5" fill="url(#gBl)" fill-opacity="0.95" stroke="#0a0a8a" stroke-width="0.35" stroke-opacity="0.7"/>
<ellipse cx="274.4" cy="714.7" rx="3.5" ry="3.5" fill="url(#gBl)" fill-opacity="0.95" stroke="#0a0a8a" stroke-width="0.35" stroke-opacity="0.7"/>
<ellipse cx="347" cy="708.9" rx="3.5" ry="3.5" fill="url(#gBl)" fill-opacity="0.95" stroke="#0a0a8a" stroke-width="0.35" stroke-opacity="0.7"/>
<ellipse cx="352.4" cy="749.6" rx="3.5" ry="3.5" fill="url(#gBl)" fill-opacity="0.95" stroke="#0a0a8a" stroke-width="0.35" stroke-opacity="0.7"/>
<ellipse cx="313.3" cy="681.8" rx="3.5" ry="3.5" fill="url(#gBl)" fill-opacity="0.95" stroke="#0a0a8a" stroke-width="0.35" stroke-opacity="0.7"/>
<ellipse cx="359.3" cy="713.3" rx="3.5" ry="3.5" fill="url(#gBl)" fill-opacity="0.95" stroke="#0a0a8a" stroke-width="0.35" stroke-opacity="0.7"/>
<ellipse cx="374.1" cy="720.6" rx="3.5" ry="3.5" fill="url(#gBl)" fill-opacity="0.95" stroke="#0a0a8a" stroke-width="0.35" stroke-opacity="0.7"/>
<ellipse cx="383.8" cy="732.6" rx="3.5" ry="3.5" fill="url(#gBl)" fill-opacity="0.95" stroke="#0a0a8a" stroke-width="0.35" stroke-opacity="0.7"/>
<ellipse cx="389" cy="696.1" rx="3.5" ry="3.5" fill="url(#gBl)" fill-opacity="0.95" stroke="#0a0a8a" stroke-width="0.35" stroke-opacity="0.7"/>
<ellipse cx="372.4" cy="749.7" rx="3.5" ry="3.5" fill="url(#gBl)" fill-opacity="0.95" stroke="#0a0a8a" stroke-width="0.35" stroke-opacity="0.7"/>
<ellipse cx="293.7" cy="609.3" rx="4" ry="3" fill="url(#gBl)" fill-opacity="0.95" stroke="#0a0a8a" stroke-width="0.35" stroke-opacity="0.7"/>
<ellipse cx="375.9" cy="714.2" rx="4" ry="3" fill="url(#gBl)" fill-opacity="0.95" stroke="#0a0a8a" stroke-width="0.35" stroke-opacity="0.7"/>
<ellipse cx="409.7" cy="652.2" rx="4" ry="2.8" fill="url(#gBl)" fill-opacity="0.95" stroke="#0a0a8a" stroke-width="0.35" stroke-opacity="0.7"/>
<ellipse cx="264.3" cy="627.7" rx="3.3" ry="3.3" fill="url(#gBl)" fill-opacity="0.95" stroke="#0a0a8a" stroke-width="0.35" stroke-opacity="0.7"/>
<ellipse cx="409.5" cy="651.9" rx="3.2" ry="3.2" fill="url(#gBl)" fill-opacity="0.95" stroke="#0a0a8a" stroke-width="0.35" stroke-opacity="0.7"/>
<ellipse cx="292.3" cy="703.7" rx="3.2" ry="3.2" fill="url(#gBl)" fill-opacity="0.95" stroke="#0a0a8a" stroke-width="0.35" stroke-opacity="0.7"/>
<ellipse cx="283.2" cy="630.2" rx="3" ry="3" fill="url(#gBlL)" fill-opacity="0.95" stroke="#0a0a8a" stroke-width="0.35" stroke-opacity="0.7"/>
<ellipse cx="303.3" cy="624.6" rx="3" ry="3" fill="url(#gBl)" fill-opacity="0.95" stroke="#0a0a8a" stroke-width="0.35" stroke-opacity="0.7"/>
<ellipse cx="320.7" cy="637.2" rx="3" ry="3" fill="url(#gBl)" fill-opacity="0.95" stroke="#0a0a8a" stroke-width="0.35" stroke-opacity="0.7"/>
<ellipse cx="399" cy="622.5" rx="3" ry="3" fill="url(#gBl)" fill-opacity="0.95" stroke="#0a0a8a" stroke-width="0.35" stroke-opacity="0.7"/>
<ellipse cx="333.3" cy="653.7" rx="3" ry="3" fill="url(#gBl)" fill-opacity="0.95" stroke="#0a0a8a" stroke-width="0.35" stroke-opacity="0.7"/>
<ellipse cx="356.9" cy="692.2" rx="3" ry="3" fill="url(#gBl)" fill-opacity="0.95" stroke="#0a0a8a" stroke-width="0.35" stroke-opacity="0.7"/>
<ellipse cx="414.8" cy="703.6" rx="3" ry="3" fill="url(#gBl)" fill-opacity="0.95" stroke="#0a0a8a" stroke-width="0.35" stroke-opacity="0.7"/>
<ellipse cx="341.4" cy="773.7" rx="3" ry="3" fill="url(#gBl)" fill-opacity="0.95" stroke="#0a0a8a" stroke-width="0.35" stroke-opacity="0.7"/>
<ellipse cx="354.5" cy="692.3" rx="3" ry="3" fill="url(#gBl)" fill-opacity="0.95" stroke="#0a0a8a" stroke-width="0.35" stroke-opacity="0.7"/>
<ellipse cx="415" cy="703.7" rx="3" ry="3" fill="url(#gBl)" fill-opacity="0.95" stroke="#0a0a8a" stroke-width="0.35" stroke-opacity="0.7"/>
<ellipse cx="421.4" cy="697.9" rx="3" ry="3" fill="url(#gBlL)" fill-opacity="0.95" stroke="#0a0a8a" stroke-width="0.35" stroke-opacity="0.7"/>
<ellipse cx="377.7" cy="748.3" rx="3" ry="3" fill="url(#gBl)" fill-opacity="0.95" stroke="#0a0a8a" stroke-width="0.35" stroke-opacity="0.7"/>
<ellipse cx="292.1" cy="703.6" rx="3" ry="3" fill="url(#gBl)" fill-opacity="0.95" stroke="#0a0a8a" stroke-width="0.35" stroke-opacity="0.7"/>
<ellipse cx="274.5" cy="714.8" rx="3" ry="3" fill="url(#gBl)" fill-opacity="0.95" stroke="#0a0a8a" stroke-width="0.35" stroke-opacity="0.7"/>
<ellipse cx="405.3" cy="609.1" rx="2.8" ry="2.8" fill="url(#gBl)" fill-opacity="0.95" stroke="#0a0a8a" stroke-width="0.35" stroke-opacity="0.7"/>
<ellipse cx="406.6" cy="645.9" rx="2.8" ry="2.8" fill="url(#gBl)" fill-opacity="0.95" stroke="#0a0a8a" stroke-width="0.35" stroke-opacity="0.7"/>
<ellipse cx="306.3" cy="698.9" rx="2.8" ry="2.8" fill="url(#gBl)" fill-opacity="0.95" stroke="#0a0a8a" stroke-width="0.35" stroke-opacity="0.7"/>
<ellipse cx="408.7" cy="738.3" rx="2.8" ry="2.8" fill="url(#gBl)" fill-opacity="0.95" stroke="#0a0a8a" stroke-width="0.35" stroke-opacity="0.7"/>
<ellipse cx="343.6" cy="638.2" rx="2.5" ry="2.5" fill="url(#gBl)" fill-opacity="0.95" stroke="#0a0a8a" stroke-width="0.35" stroke-opacity="0.7"/>
<ellipse cx="323.5" cy="640.9" rx="2.5" ry="2.5" fill="url(#gBl)" fill-opacity="0.95" stroke="#0a0a8a" stroke-width="0.35" stroke-opacity="0.7"/>
<ellipse cx="379.4" cy="643" rx="2.5" ry="2.5" fill="url(#gBl)" fill-opacity="0.95" stroke="#0a0a8a" stroke-width="0.35" stroke-opacity="0.7"/>
<ellipse cx="458.2" cy="647" rx="2.5" ry="2.5" fill="url(#gBl)" fill-opacity="0.95" stroke="#0a0a8a" stroke-width="0.35" stroke-opacity="0.7"/>
<ellipse cx="379.7" cy="643.1" rx="2.5" ry="2.5" fill="url(#gBl)" fill-opacity="0.95" stroke="#0a0a8a" stroke-width="0.35" stroke-opacity="0.7"/>
<ellipse cx="406.9" cy="645.8" rx="2.5" ry="2.5" fill="url(#gBl)" fill-opacity="0.95" stroke="#0a0a8a" stroke-width="0.35" stroke-opacity="0.7"/>
<ellipse cx="342.9" cy="638.8" rx="2.5" ry="2.5" fill="url(#gBl)" fill-opacity="0.95" stroke="#0a0a8a" stroke-width="0.35" stroke-opacity="0.7"/>
<ellipse cx="321" cy="637" rx="2.5" ry="2.5" fill="url(#gBl)" fill-opacity="0.95" stroke="#0a0a8a" stroke-width="0.35" stroke-opacity="0.7"/>
<ellipse cx="313.1" cy="680.8" rx="2.5" ry="2.5" fill="url(#gBl)" fill-opacity="0.95" stroke="#0a0a8a" stroke-width="0.35" stroke-opacity="0.7"/>
<ellipse cx="315" cy="671.9" rx="2.5" ry="2.5" fill="url(#gBl)" fill-opacity="0.95" stroke="#0a0a8a" stroke-width="0.35" stroke-opacity="0.7"/>
<ellipse cx="312.8" cy="681.2" rx="2.5" ry="2.5" fill="url(#gBl)" fill-opacity="0.95" stroke="#0a0a8a" stroke-width="0.35" stroke-opacity="0.7"/>
<ellipse cx="385" cy="691.3" rx="2.5" ry="2.5" fill="url(#gBl)" fill-opacity="0.95" stroke="#0a0a8a" stroke-width="0.35" stroke-opacity="0.7"/>
<ellipse cx="307" cy="716.7" rx="2.5" ry="2.5" fill="url(#gBl)" fill-opacity="0.95" stroke="#0a0a8a" stroke-width="0.35" stroke-opacity="0.7"/>
<ellipse cx="357" cy="714.1" rx="2.5" ry="2.5" fill="url(#gBl)" fill-opacity="0.95" stroke="#0a0a8a" stroke-width="0.35" stroke-opacity="0.7"/>
<ellipse cx="306.7" cy="717.1" rx="2.5" ry="2.5" fill="url(#gBlL)" fill-opacity="0.95" stroke="#0a0a8a" stroke-width="0.35" stroke-opacity="0.7"/>
<ellipse cx="320" cy="727.7" rx="2.5" ry="2.5" fill="url(#gBl)" fill-opacity="0.95" stroke="#0a0a8a" stroke-width="0.35" stroke-opacity="0.7"/>
<ellipse cx="343.1" cy="734" rx="2.5" ry="2.5" fill="url(#gBl)" fill-opacity="0.95" stroke="#0a0a8a" stroke-width="0.35" stroke-opacity="0.7"/>
<ellipse cx="315.1" cy="687" rx="2.5" ry="2.5" fill="url(#gBl)" fill-opacity="0.95" stroke="#0a0a8a" stroke-width="0.35" stroke-opacity="0.7"/>
<ellipse cx="384.7" cy="691.4" rx="2.5" ry="2.5" fill="url(#gBl)" fill-opacity="0.95" stroke="#0a0a8a" stroke-width="0.35" stroke-opacity="0.7"/>
<ellipse cx="428.5" cy="704.2" rx="2.5" ry="2.5" fill="url(#gBl)" fill-opacity="0.95" stroke="#0a0a8a" stroke-width="0.35" stroke-opacity="0.7"/>
<ellipse cx="306.2" cy="699.2" rx="2.5" ry="2.5" fill="url(#gBl)" fill-opacity="0.95" stroke="#0a0a8a" stroke-width="0.35" stroke-opacity="0.7"/>
<ellipse cx="405.7" cy="621.6" rx="2.3" ry="2.3" fill="url(#gBl)" fill-opacity="0.95" stroke="#0a0a8a" stroke-width="0.35" stroke-opacity="0.7"/>
<ellipse cx="314.9" cy="672" rx="2.3" ry="2.3" fill="url(#gBl)" fill-opacity="0.95" stroke="#0a0a8a" stroke-width="0.35" stroke-opacity="0.7"/>
<ellipse cx="306.1" cy="699.2" rx="2.3" ry="2.3" fill="url(#gBl)" fill-opacity="0.95" stroke="#0a0a8a" stroke-width="0.35" stroke-opacity="0.7"/>
<ellipse cx="314.9" cy="686.9" rx="2.2" ry="2.2" fill="url(#gBl)" fill-opacity="0.95" stroke="#0a0a8a" stroke-width="0.35" stroke-opacity="0.7"/>
<ellipse cx="307.2" cy="680" rx="2.2" ry="2.2" fill="url(#gBl)" fill-opacity="0.95" stroke="#0a0a8a" stroke-width="0.35" stroke-opacity="0.7"/>
<ellipse cx="333.3" cy="696.6" rx="2.2" ry="2.2" fill="url(#gBl)" fill-opacity="0.95" stroke="#0a0a8a" stroke-width="0.35" stroke-opacity="0.7"/>
<ellipse cx="313.7" cy="704.9" rx="2.2" ry="2.2" fill="url(#gBl)" fill-opacity="0.95" stroke="#0a0a8a" stroke-width="0.35" stroke-opacity="0.7"/>
<ellipse cx="333.5" cy="697" rx="2.2" ry="2.2" fill="url(#gBl)" fill-opacity="0.95" stroke="#0a0a8a" stroke-width="0.35" stroke-opacity="0.7"/>
<ellipse cx="306.8" cy="716.8" rx="2.2" ry="2.2" fill="url(#gBlL)" fill-opacity="0.95" stroke="#0a0a8a" stroke-width="0.35" stroke-opacity="0.7"/>
<ellipse cx="324.7" cy="645.6" rx="2" ry="2" fill="url(#gBl)" fill-opacity="0.95" stroke="#0a0a8a" stroke-width="0.35" stroke-opacity="0.7"/>
<ellipse cx="357.1" cy="626.3" rx="2" ry="2" fill="url(#gBl)" fill-opacity="0.95" stroke="#0a0a8a" stroke-width="0.35" stroke-opacity="0.7"/>
<ellipse cx="398.7" cy="589" rx="2" ry="2" fill="url(#gBlL)" fill-opacity="0.95" stroke="#0a0a8a" stroke-width="0.35" stroke-opacity="0.7"/>
<ellipse cx="403.6" cy="658.7" rx="2" ry="2" fill="url(#gBl)" fill-opacity="0.95" stroke="#0a0a8a" stroke-width="0.35" stroke-opacity="0.7"/>
<ellipse cx="323.7" cy="642.3" rx="2" ry="2" fill="url(#gBl)" fill-opacity="0.95" stroke="#0a0a8a" stroke-width="0.35" stroke-opacity="0.7"/>
<ellipse cx="307" cy="680" rx="2" ry="2" fill="url(#gBl)" fill-opacity="0.95" stroke="#0a0a8a" stroke-width="0.35" stroke-opacity="0.7"/>
<ellipse cx="315.2" cy="686.9" rx="2" ry="2" fill="url(#gBl)" fill-opacity="0.95" stroke="#0a0a8a" stroke-width="0.35" stroke-opacity="0.7"/>
<ellipse cx="400.7" cy="695.7" rx="2" ry="2" fill="url(#gBl)" fill-opacity="0.95" stroke="#0a0a8a" stroke-width="0.35" stroke-opacity="0.7"/>
<ellipse cx="314" cy="705.3" rx="2" ry="2" fill="url(#gBl)" fill-opacity="0.95" stroke="#0a0a8a" stroke-width="0.35" stroke-opacity="0.7"/>
<ellipse cx="303.3" cy="746.6" rx="2" ry="2" fill="url(#gBlL)" fill-opacity="0.95" stroke="#0a0a8a" stroke-width="0.35" stroke-opacity="0.7"/>
<ellipse cx="374.7" cy="726.4" rx="2" ry="2" fill="url(#gBlL)" fill-opacity="0.95" stroke="#0a0a8a" stroke-width="0.35" stroke-opacity="0.7"/>
<ellipse cx="400.4" cy="695.4" rx="2" ry="2" fill="url(#gBl)" fill-opacity="0.95" stroke="#0a0a8a" stroke-width="0.35" stroke-opacity="0.7"/>
<ellipse cx="393.4" cy="718.9" rx="2" ry="2" fill="url(#gBl)" fill-opacity="0.95" stroke="#0a0a8a" stroke-width="0.35" stroke-opacity="0.7"/>
<ellipse cx="313.7" cy="704.8" rx="2" ry="2" fill="url(#gBl)" fill-opacity="0.95" stroke="#0a0a8a" stroke-width="0.35" stroke-opacity="0.7"/>
<ellipse cx="314.6" cy="601.4" rx="1.8" ry="1.8" fill="url(#gBl)" fill-opacity="0.95" stroke="#0a0a8a" stroke-width="0.35" stroke-opacity="0.7"/>
<ellipse cx="325" cy="649.1" rx="1.8" ry="1.8" fill="url(#gBl)" fill-opacity="0.95" stroke="#0a0a8a" stroke-width="0.35" stroke-opacity="0.7"/>
<ellipse cx="368.4" cy="630.7" rx="1.8" ry="1.8" fill="url(#gBl)" fill-opacity="0.95" stroke="#0a0a8a" stroke-width="0.35" stroke-opacity="0.7"/>
<ellipse cx="325.4" cy="648.4" rx="1.8" ry="1.8" fill="url(#gBl)" fill-opacity="0.95" stroke="#0a0a8a" stroke-width="0.35" stroke-opacity="0.7"/>
<ellipse cx="413.9" cy="727" rx="1.8" ry="1.8" fill="url(#gBl)" fill-opacity="0.95" stroke="#0a0a8a" stroke-width="0.35" stroke-opacity="0.7"/>
<ellipse cx="355" cy="607.9" rx="1.5" ry="1.5" fill="url(#gBl)" fill-opacity="0.95" stroke="#0a0a8a" stroke-width="0.35" stroke-opacity="0.7"/>
<ellipse cx="403.4" cy="658" rx="1.5" ry="1.5" fill="url(#gBl)" fill-opacity="0.95" stroke="#0a0a8a" stroke-width="0.35" stroke-opacity="0.7"/>
<ellipse cx="391.1" cy="717.6" rx="1.5" ry="1.5" fill="url(#gBl)" fill-opacity="0.95" stroke="#0a0a8a" stroke-width="0.35" stroke-opacity="0.7"/>
<ellipse cx="422.3" cy="689.6" rx="1.5" ry="1.5" fill="url(#gBl)" fill-opacity="0.95" stroke="#0a0a8a" stroke-width="0.35" stroke-opacity="0.7"/>
<ellipse cx="283.8" cy="670.9" rx="1.5" ry="1.2" fill="url(#gBlL)" fill-opacity="0.95" stroke="#0a0a8a" stroke-width="0.35" stroke-opacity="0.7"/>
<ellipse cx="405.1" cy="672" rx="1.2" ry="1.2" fill="url(#gBl)" fill-opacity="0.95" stroke="#0a0a8a" stroke-width="0.35" stroke-opacity="0.7"/>
<ellipse cx="326.3" cy="717.6" rx="1.2" ry="1.2" fill="url(#gBl)" fill-opacity="0.95" stroke="#0a0a8a" stroke-width="0.35" stroke-opacity="0.7"/>
<ellipse cx="325.6" cy="717.7" rx="1.2" ry="1.2" fill="url(#gBl)" fill-opacity="0.95" stroke="#0a0a8a" stroke-width="0.35" stroke-opacity="0.7"/>
<ellipse cx="426.2" cy="682.1" rx="1.2" ry="1.2" fill="url(#gBl)" fill-opacity="0.95" stroke="#0a0a8a" stroke-width="0.35" stroke-opacity="0.7"/>
<ellipse cx="437.2" cy="696.6" rx="1.2" ry="1.2" fill="url(#gBlL)" fill-opacity="0.95" stroke="#0a0a8a" stroke-width="0.35" stroke-opacity="0.7"/>
<ellipse cx="360.1" cy="790.4" rx="1.2" ry="1.2" fill="url(#gBlL)" fill-opacity="0.95" stroke="#0a0a8a" stroke-width="0.35" stroke-opacity="0.7"/>
<ellipse cx="437.2" cy="619" rx="1" ry="1" fill="url(#gBl)" fill-opacity="0.95" stroke="#0a0a8a" stroke-width="0.35" stroke-opacity="0.7"/>
<ellipse cx="380.3" cy="700.1" rx="1" ry="1" fill="url(#gBl)" fill-opacity="0.95" stroke="#0a0a8a" stroke-width="0.35" stroke-opacity="0.7"/>
<ellipse cx="367.1" cy="711.5" rx="1" ry="1" fill="url(#gBl)" fill-opacity="0.95" stroke="#0a0a8a" stroke-width="0.35" stroke-opacity="0.7"/>
<circle cx="293.8" cy="610.0" r="0.55" fill="#c0105a"/>
<circle cx="264.3" cy="628.0" r="0.55" fill="#c0105a"/>
<circle cx="283.2" cy="630.5" r="0.55" fill="#c0105a"/>
<circle cx="287.1" cy="641.3" r="0.55" fill="#c0105a"/>
<circle cx="344.4" cy="639.0" r="0.55" fill="#c0105a"/>
<circle cx="322.7" cy="641.1" r="0.55" fill="#c0105a"/>
<circle cx="306.9" cy="653.1" r="0.55" fill="#c0105a"/>
<circle cx="309.7" cy="659.8" r="0.55" fill="#c0105a"/>
<circle cx="332.8" cy="653.6" r="0.55" fill="#c0105a"/>
<circle cx="360.3" cy="601.2" r="0.55" fill="#c0105a"/>
<circle cx="358.9" cy="625.9" r="0.55" fill="#c0105a"/>
<circle cx="381.6" cy="633.7" r="0.55" fill="#c0105a"/>
<circle cx="380.1" cy="643.6" r="0.55" fill="#c0105a"/>
<circle cx="406.1" cy="646.6" r="0.55" fill="#c0105a"/>
<circle cx="410.5" cy="652.2" r="0.55" fill="#c0105a"/>
<circle cx="433.9" cy="644.0" r="0.55" fill="#c0105a"/>
<circle cx="457.5" cy="646.9" r="0.55" fill="#c0105a"/>
<circle cx="383.7" cy="643.3" r="0.55" fill="#c0105a"/>
<circle cx="380.2" cy="642.8" r="0.55" fill="#c0105a"/>
<circle cx="406.8" cy="645.5" r="0.55" fill="#c0105a"/>
<circle cx="415.8" cy="663.9" r="0.55" fill="#c0105a"/>
<circle cx="343.3" cy="632.5" r="0.55" fill="#c0105a"/>
<circle cx="340.9" cy="648.2" r="0.55" fill="#c0105a"/>
<circle cx="352.3" cy="642.9" r="0.55" fill="#c0105a"/>
<circle cx="334.1" cy="653.5" r="0.55" fill="#c0105a"/>
<circle cx="307.4" cy="653.6" r="0.55" fill="#c0105a"/>
<circle cx="309.8" cy="659.4" r="0.55" fill="#c0105a"/>
<circle cx="325.9" cy="676.2" r="0.55" fill="#c0105a"/>
<circle cx="338.4" cy="675.4" r="0.55" fill="#c0105a"/>
<circle cx="340.4" cy="664.8" r="0.55" fill="#c0105a"/>
<circle cx="350.2" cy="662.2" r="0.55" fill="#c0105a"/>
<circle cx="358.2" cy="658.5" r="0.55" fill="#c0105a"/>
<circle cx="361.1" cy="678.8" r="0.55" fill="#c0105a"/>
<circle cx="384.4" cy="671.6" r="0.55" fill="#c0105a"/>
<circle cx="380.9" cy="684.1" r="0.55" fill="#c0105a"/>
<circle cx="320.7" cy="684.0" r="0.55" fill="#c0105a"/>
<circle cx="314.6" cy="672.1" r="0.55" fill="#c0105a"/>
<circle cx="366.4" cy="697.2" r="0.55" fill="#c0105a"/>
<circle cx="359.2" cy="704.6" r="0.55" fill="#c0105a"/>
<circle cx="345.9" cy="708.8" r="0.55" fill="#c0105a"/>
<circle cx="341.4" cy="715.8" r="0.55" fill="#c0105a"/>
<circle cx="414.2" cy="703.1" r="0.55" fill="#c0105a"/>
<circle cx="331.4" cy="708.4" r="0.55" fill="#c0105a"/>
<circle cx="357.2" cy="714.2" r="0.55" fill="#c0105a"/>
<circle cx="293.1" cy="703.3" r="0.55" fill="#c0105a"/>
<circle cx="306.7" cy="699.6" r="0.55" fill="#c0105a"/>
<circle cx="343.4" cy="734.7" r="0.55" fill="#c0105a"/>
<circle cx="341.9" cy="774.3" r="0.55" fill="#c0105a"/>
<circle cx="340.7" cy="687.0" r="0.55" fill="#c0105a"/>
<circle cx="353.0" cy="683.1" r="0.55" fill="#c0105a"/>
<circle cx="313.7" cy="682.1" r="0.55" fill="#c0105a"/>
<circle cx="365.9" cy="697.1" r="0.55" fill="#c0105a"/>
<circle cx="359.5" cy="713.4" r="0.55" fill="#c0105a"/>
<circle cx="376.2" cy="714.3" r="0.55" fill="#c0105a"/>
<circle cx="395.2" cy="704.8" r="0.55" fill="#c0105a"/>
<circle cx="384.2" cy="692.1" r="0.55" fill="#c0105a"/>
<circle cx="422.0" cy="697.8" r="0.55" fill="#c0105a"/>
<circle cx="408.6" cy="738.8" r="0.55" fill="#c0105a"/>
<circle cx="371.6" cy="680.9" r="0.55" fill="#c0105a"/>
<circle cx="378.0" cy="684.6" r="0.55" fill="#c0105a"/>
<circle cx="274.0" cy="714.9" r="0.55" fill="#c0105a"/>
<circle cx="341.9" cy="605.3" r="0.8" fill="#e8231f"/>
<circle cx="348.4" cy="626.3" r="0.8" fill="#e8231f"/>
<circle cx="268.7" cy="664.9" r="0.8" fill="#e8231f"/>
<circle cx="353.3" cy="632.4" r="0.8" fill="#e8231f"/>
<circle cx="372.4" cy="610.9" r="0.8" fill="#e8231f"/>
<circle cx="381.5" cy="610.9" r="0.8" fill="#e8231f"/>
<circle cx="436.7" cy="636.8" r="0.8" fill="#e8231f"/>
<circle cx="386.8" cy="661.3" r="0.8" fill="#e8231f"/>
<circle cx="368.9" cy="649.1" r="0.8" fill="#e8231f"/>
<circle cx="290.6" cy="695.8" r="0.8" fill="#e8231f"/>
<circle cx="337.9" cy="731.7" r="0.8" fill="#e8231f"/>
<circle cx="268.5" cy="665.3" r="0.8" fill="#e8231f"/>
<circle cx="290.7" cy="695.8" r="0.8" fill="#e8231f"/>
</g>
<polygon points="241.9,607.6 356.3,575.6 470.5,607.6 442.5,717.3 356.3,796.5 270.1,717.7" fill="none" stroke="#222" stroke-width="1.05" stroke-linejoin="round"/>
<line x1="356.1" y1="669.2" x2="241.9" y2="607.6" stroke="#1a1a1a" stroke-width="1.25"/>
<line x1="356.1" y1="669.2" x2="470.5" y2="607.6" stroke="#1a1a1a" stroke-width="1.25"/>
<line x1="356.1" y1="669.2" x2="356.3" y2="796.5" stroke="#1a1a1a" stroke-width="1.25"/>
<rect x="482.4" y="591.2" width="199.9" height="190.8" fill="none" stroke="#3a3a3a" stroke-width="1.5" stroke-dasharray="1.4 4.0"/>
<line x1="528.6" y1="591.7" x2="681.8" y2="634.5" stroke="#000" stroke-width="2.0"/>
<line x1="590.3" y1="780.8" x2="681.3" y2="730.6" stroke="#000" stroke-width="2.4"/>
<path d="M539,611 Q540,631 558,631 Q576,631 577,611 Q558,617 539,611 Z" fill="url(#gG1)"/>
<path d="M539,611 Q545,603 552,606 L556,610 Q561,606 566,609 L571,604 L577,611 Q558,617 539,611 Z" fill="#e99a4f"/>
<path d="M540,600 Q548,596 553,600 Q556,606 560,609 Q566,610 570,605 L573,604 L569,611 Q560,614 554,611 Q546,606 540,600 Z" fill="#efa45c"/>
<ellipse cx="609.5" cy="629.8" rx="15.5" ry="5.8" transform="rotate(6 609.5 629.8)" fill="url(#gGL)"/>
<ellipse cx="593.5" cy="710" rx="43" ry="35.5" transform="rotate(-22 593.5 710)" fill="url(#gG2)"/>
<clipPath id="cpB2"><ellipse cx="593.5" cy="710" rx="42" ry="34.5" transform="rotate(-22 593.5 710)"/></clipPath>
<ellipse cx="613" cy="692" rx="19" ry="15" transform="rotate(-22 613 692)" fill="#f6b574" fill-opacity="0.6" clip-path="url(#cpB2)"/>
<ellipse cx="593.5" cy="710" rx="43" ry="35.5" transform="rotate(-22 593.5 710)" fill="none" stroke="#b5621a" stroke-width="0.7" stroke-opacity="0.6"/>
<ellipse cx="632.5" cy="735.6" rx="14.5" ry="16.8" transform="rotate(-25 632.5 735.6)" fill="url(#gGL)"/>
<ellipse cx="514.9" cy="755.5" rx="18.6" ry="19" fill="url(#gG1)"/>
<ellipse cx="538.2" cy="741.8" rx="17.5" ry="21" transform="rotate(-28 538.2 741.8)" fill="url(#gG2)"/>
<path d="M524,738 Q530,748 534,760 Q528,758 524,752 Z" fill="#c66e22" fill-opacity="0.6"/>
<ellipse cx="571.5" cy="675" rx="44.5" ry="38.5" transform="rotate(-8 571.5 675)" fill="url(#gG1)" fill-opacity="0.97" stroke="#b5621a" stroke-width="0.7" stroke-opacity="0.6"/>
<path d="M550,704 Q560,680 614,672 Q608,694 584,702 Q566,708 550,704 Z" fill="#c8701f" fill-opacity="0.55"/>
<path d="M596,680 Q606,675 613,676 Q612,688 602,694 Q596,690 596,680 Z" fill="#f3c08c" fill-opacity="0.8"/>
<circle cx="504.2" cy="660" r="2.0" fill="#d81e1e"/>
<circle cx="521" cy="704.6" r="2.2" fill="#d81e1e"/>
<circle cx="493.6" cy="731.9" r="1.8" fill="#d81e1e"/>
<circle cx="529.7" cy="746.6" r="1.8" fill="#dd3a1e"/>
<circle cx="582.7" cy="690.1" r="1.8" fill="#e04a1e"/>
<circle cx="623.7" cy="730.6" r="2.0" fill="#d81e1e"/>
<circle cx="629.1" cy="749.4" r="2.5" fill="#d81e1e"/>
<circle cx="538.5" cy="624.3" r="1.2" fill="#f4f4f4" stroke="#d0d0d0" stroke-width="0.4"/>
<circle cx="519.4" cy="674.4" r="1.2" fill="#f4f4f4" stroke="#d0d0d0" stroke-width="0.4"/>
<circle cx="493.6" cy="681.7" r="1.2" fill="#f4f4f4" stroke="#d0d0d0" stroke-width="0.4"/>
<circle cx="548.7" cy="683.8" r="1.2" fill="#f4f4f4" stroke="#d0d0d0" stroke-width="0.4"/>
<circle cx="506.1" cy="696.5" r="1.2" fill="#f4f4f4" stroke="#d0d0d0" stroke-width="0.4"/>
<circle cx="488.9" cy="741.8" r="1.2" fill="#f4f4f4" stroke="#d0d0d0" stroke-width="0.4"/>
<circle cx="494" cy="753.6" r="1.2" fill="#f4f4f4" stroke="#d0d0d0" stroke-width="0.4"/>
<circle cx="539.5" cy="774.7" r="1.2" fill="#f4f4f4" stroke="#d0d0d0" stroke-width="0.4"/>
<circle cx="488" cy="777.5" r="1.2" fill="#f4f4f4" stroke="#d0d0d0" stroke-width="0.4"/>
<circle cx="654.5" cy="718.2" r="1.2" fill="#f4f4f4" stroke="#d0d0d0" stroke-width="0.4"/>
<circle cx="648.9" cy="759.5" r="1.2" fill="#f4f4f4" stroke="#d0d0d0" stroke-width="0.4"/>
<circle cx="609.5" cy="776.4" r="1.2" fill="#f4f4f4" stroke="#d0d0d0" stroke-width="0.4"/>
<circle cx="589.7" cy="708" r="1.2" fill="#f4f4f4" stroke="#d0d0d0" stroke-width="0.4"/>
<circle cx="614.6" cy="708.5" r="1.2" fill="#f4f4f4" stroke="#d0d0d0" stroke-width="0.4"/>
<circle cx="548" cy="684" r="1.2" fill="#f4f4f4" stroke="#d0d0d0" stroke-width="0.4"/>
<path d="M576.5,692.2 C560,700 540,712 537,722 C535,730 552,724 582,700.5" fill="none" stroke="#000" stroke-width="1.5" marker-end="url(#ah)"/>
<path d="M593.6,682.2 C605,672 625,666 640,667 C660,668 672,680 671,697 C669,718 650,738 633.5,745" fill="none" stroke="#000" stroke-width="1.5" marker-end="url(#ah)"/>
<text x="633.6" y="659.2" class="gt" textLength="22.5" lengthAdjust="spacingAndGlyphs"><tspan font-style="italic">ε</tspan> &gt; 0</text>
<text x="513.7" y="716.9" class="gt" textLength="22.4" lengthAdjust="spacingAndGlyphs"><tspan font-style="italic">ε</tspan> = 0</text>
<text x="-0.3" y="570.3" class="pl">e</text>
<text x="59.1" y="570.6" class="ttl" style="fill:#b5561e" textLength="36.1" lengthAdjust="spacingAndGlyphs">HOMO</text>
<text x="268.2" y="569.8" class="pl">f</text>
<text x="336.5" y="570.6" class="ttl" style="fill:#2222ee" textLength="32.6" lengthAdjust="spacingAndGlyphs">LUMO</text>
<text x="481.8" y="569.6" class="pl">g</text>
<text x="569.6" y="570.8" class="ttl" style="fill:#b5561e" textLength="35.7" lengthAdjust="spacingAndGlyphs">HOMO</text>
</svg>
</body></html>
